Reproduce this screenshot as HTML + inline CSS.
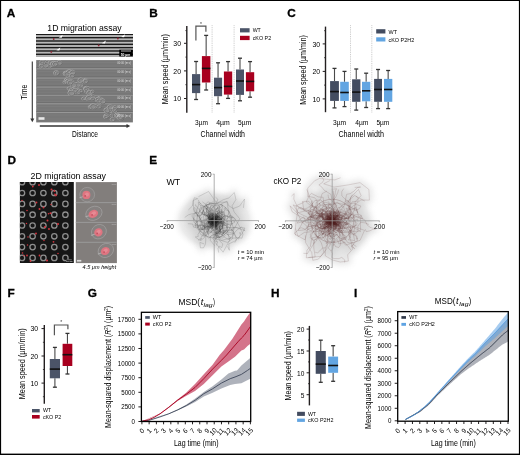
<!DOCTYPE html><html><head><meta charset="utf-8"><style>html,body{margin:0;padding:0;background:#fff}svg{display:block;will-change:transform}text{font-family:"Liberation Sans",sans-serif}</style></head><body><svg width="520" height="455" viewBox="0 0 520 455"><rect x="0" y="0" width="520" height="455" fill="#fff"/><text x="6.80" y="16.70" font-size="11.8" font-weight="bold" fill="#000" stroke="#000" stroke-width="0.3">A</text>
<text x="149.20" y="16.70" font-size="11.8" font-weight="bold" fill="#000" stroke="#000" stroke-width="0.3">B</text>
<text x="287.20" y="16.90" font-size="11.8" font-weight="bold" fill="#000" stroke="#000" stroke-width="0.3">C</text>
<text x="7.50" y="164.30" font-size="11.8" font-weight="bold" fill="#000" stroke="#000" stroke-width="0.3">D</text>
<text x="149.20" y="164.30" font-size="11.8" font-weight="bold" fill="#000" stroke="#000" stroke-width="0.3">E</text>
<text x="7.60" y="297.30" font-size="11.8" font-weight="bold" fill="#000" stroke="#000" stroke-width="0.3">F</text>
<text x="87.80" y="297.40" font-size="11.8" font-weight="bold" fill="#000" stroke="#000" stroke-width="0.3">G</text>
<text x="270.90" y="297.30" font-size="11.8" font-weight="bold" fill="#000" stroke="#000" stroke-width="0.3">H</text>
<text x="353.90" y="297.20" font-size="11.8" font-weight="bold" fill="#000" stroke="#000" stroke-width="0.3">I</text>
<text x="47.30" y="31.00" font-size="9.6" textLength="74.40" lengthAdjust="spacingAndGlyphs" >1D migration assay</text>
<rect x="36.00" y="34.00" width="97.00" height="22.40" fill="#1a1a1a" />
<rect x="36.00" y="35.00" width="97.00" height="2.00" fill="#a4a4a4" />
<rect x="36.00" y="35.55" width="97.00" height="0.90" fill="#bebebe" />
<rect x="36.00" y="38.33" width="97.00" height="2.00" fill="#a4a4a4" />
<rect x="36.00" y="38.88" width="97.00" height="0.90" fill="#bebebe" />
<rect x="36.00" y="41.66" width="97.00" height="2.00" fill="#a4a4a4" />
<rect x="36.00" y="42.21" width="97.00" height="0.90" fill="#bebebe" />
<rect x="36.00" y="44.99" width="97.00" height="2.00" fill="#a4a4a4" />
<rect x="36.00" y="45.54" width="97.00" height="0.90" fill="#bebebe" />
<rect x="36.00" y="48.32" width="97.00" height="2.00" fill="#a4a4a4" />
<rect x="36.00" y="48.87" width="97.00" height="0.90" fill="#bebebe" />
<rect x="36.00" y="51.65" width="97.00" height="2.00" fill="#a4a4a4" />
<rect x="36.00" y="52.20" width="97.00" height="0.90" fill="#bebebe" />
<rect x="36.00" y="54.98" width="97.00" height="1.40" fill="#a4a4a4" />
<rect x="36.00" y="55.53" width="97.00" height="0.85" fill="#bebebe" />
<rect x="119.30" y="49.70" width="13.50" height="6.70" fill="#000" />
<line x1="121.00" y1="51.00" x2="131.00" y2="51.00" stroke="#ddd" stroke-width="0.8" />
<text x="125.50" y="55.60" font-size="3.4" text-anchor="middle" font-weight="bold" fill="#fff" >50 µm</text>
<circle cx="53.7" cy="39" r="0.9" fill="#902535"/>
<circle cx="51.3" cy="51.9" r="0.9" fill="#902535"/>
<circle cx="117.9" cy="38.5" r="0.9" fill="#902535"/>
<circle cx="98.7" cy="45.4" r="0.9" fill="#902535"/>
<path d="M58.7,37.5 L62.7,34.8 L61.7,37.8 Z" fill="#fff"/>
<path d="M56.3,50.2 L60.3,47.5 L59.3,50.5 Z" fill="#fff"/>
<path d="M121.1,37.0 L125.1,34.3 L124.1,37.3 Z" fill="#fff"/>
<path d="M101.9,43.2 L105.9,40.5 L104.9,43.5 Z" fill="#fff"/>
<rect x="36.20" y="60.10" width="96.70" height="62.30" fill="#787878" />
<line x1="36.20" y1="62.50" x2="132.90" y2="62.50" stroke="#828282" stroke-width="0.5" />
<line x1="36.20" y1="66.00" x2="132.90" y2="66.00" stroke="#828282" stroke-width="0.5" />
<line x1="36.20" y1="71.50" x2="132.90" y2="71.50" stroke="#828282" stroke-width="0.5" />
<line x1="36.20" y1="75.00" x2="132.90" y2="75.00" stroke="#828282" stroke-width="0.5" />
<line x1="36.20" y1="80.50" x2="132.90" y2="80.50" stroke="#828282" stroke-width="0.5" />
<line x1="36.20" y1="84.00" x2="132.90" y2="84.00" stroke="#828282" stroke-width="0.5" />
<line x1="36.20" y1="89.50" x2="132.90" y2="89.50" stroke="#828282" stroke-width="0.5" />
<line x1="36.20" y1="92.80" x2="132.90" y2="92.80" stroke="#828282" stroke-width="0.5" />
<line x1="36.20" y1="98.00" x2="132.90" y2="98.00" stroke="#828282" stroke-width="0.5" />
<line x1="36.20" y1="101.50" x2="132.90" y2="101.50" stroke="#828282" stroke-width="0.5" />
<line x1="36.20" y1="106.50" x2="132.90" y2="106.50" stroke="#828282" stroke-width="0.5" />
<line x1="36.20" y1="110.00" x2="132.90" y2="110.00" stroke="#828282" stroke-width="0.5" />
<line x1="36.20" y1="115.00" x2="132.90" y2="115.00" stroke="#828282" stroke-width="0.5" />
<line x1="36.20" y1="119.00" x2="132.90" y2="119.00" stroke="#828282" stroke-width="0.5" />
<line x1="36.20" y1="68.00" x2="132.90" y2="68.00" stroke="#5e5e5e" stroke-width="0.6" />
<line x1="36.20" y1="68.80" x2="132.90" y2="68.80" stroke="#9c9c9c" stroke-width="1.0" />
<line x1="36.20" y1="77.20" x2="132.90" y2="77.20" stroke="#5e5e5e" stroke-width="0.6" />
<line x1="36.20" y1="78.00" x2="132.90" y2="78.00" stroke="#9c9c9c" stroke-width="1.0" />
<line x1="36.20" y1="86.20" x2="132.90" y2="86.20" stroke="#5e5e5e" stroke-width="0.6" />
<line x1="36.20" y1="87.00" x2="132.90" y2="87.00" stroke="#9c9c9c" stroke-width="1.0" />
<line x1="36.20" y1="94.40" x2="132.90" y2="94.40" stroke="#5e5e5e" stroke-width="0.6" />
<line x1="36.20" y1="95.20" x2="132.90" y2="95.20" stroke="#9c9c9c" stroke-width="1.0" />
<line x1="36.20" y1="103.00" x2="132.90" y2="103.00" stroke="#5e5e5e" stroke-width="0.6" />
<line x1="36.20" y1="103.80" x2="132.90" y2="103.80" stroke="#9c9c9c" stroke-width="1.0" />
<line x1="36.20" y1="111.60" x2="132.90" y2="111.60" stroke="#5e5e5e" stroke-width="0.6" />
<line x1="36.20" y1="112.40" x2="132.90" y2="112.40" stroke="#9c9c9c" stroke-width="1.0" />
<ellipse cx="47.6" cy="62.6" rx="2.6" ry="2.1" fill="#8c8c8c" stroke="#b4b4b4" stroke-width="0.7"/>
<ellipse cx="48.1" cy="63.0" rx="2.4" ry="1.9" fill="none" stroke="#5c5c5c" stroke-width="0.55"/>
<ellipse cx="41.7" cy="64.6" rx="2.1" ry="1.8" fill="#8c8c8c" stroke="#b4b4b4" stroke-width="0.7"/>
<ellipse cx="42.2" cy="65.0" rx="2.0" ry="1.6" fill="none" stroke="#5c5c5c" stroke-width="0.55"/>
<ellipse cx="41.4" cy="64.4" rx="1.6" ry="1.3" fill="#8c8c8c" stroke="#b4b4b4" stroke-width="0.7"/>
<ellipse cx="41.9" cy="64.8" rx="1.5" ry="1.2" fill="none" stroke="#5c5c5c" stroke-width="0.55"/>
<ellipse cx="50.2" cy="62.2" rx="1.7" ry="1.4" fill="#8c8c8c" stroke="#b4b4b4" stroke-width="0.7"/>
<ellipse cx="50.7" cy="62.6" rx="1.6" ry="1.3" fill="none" stroke="#5c5c5c" stroke-width="0.55"/>
<ellipse cx="50.0" cy="66.1" rx="1.8" ry="1.5" fill="#8c8c8c" stroke="#b4b4b4" stroke-width="0.7"/>
<ellipse cx="50.5" cy="66.5" rx="1.6" ry="1.3" fill="none" stroke="#5c5c5c" stroke-width="0.55"/>
<ellipse cx="45.2" cy="65.1" rx="3.0" ry="2.5" fill="#8c8c8c" stroke="#b4b4b4" stroke-width="0.7"/>
<ellipse cx="45.7" cy="65.5" rx="2.8" ry="2.3" fill="none" stroke="#5c5c5c" stroke-width="0.55"/>
<ellipse cx="53.6" cy="63.9" rx="3.1" ry="2.6" fill="#8c8c8c" stroke="#b4b4b4" stroke-width="0.7"/>
<ellipse cx="54.1" cy="64.3" rx="2.8" ry="2.3" fill="none" stroke="#5c5c5c" stroke-width="0.55"/>
<ellipse cx="41.1" cy="66.3" rx="2.0" ry="1.7" fill="#8c8c8c" stroke="#b4b4b4" stroke-width="0.7"/>
<ellipse cx="41.6" cy="66.7" rx="1.8" ry="1.5" fill="none" stroke="#5c5c5c" stroke-width="0.55"/>
<ellipse cx="43.4" cy="62.4" rx="2.0" ry="1.7" fill="#8c8c8c" stroke="#b4b4b4" stroke-width="0.7"/>
<ellipse cx="43.9" cy="62.8" rx="1.9" ry="1.5" fill="none" stroke="#5c5c5c" stroke-width="0.55"/>
<ellipse cx="59.2" cy="62.7" rx="2.5" ry="2.1" fill="#8c8c8c" stroke="#b4b4b4" stroke-width="0.7"/>
<ellipse cx="59.7" cy="63.1" rx="2.3" ry="1.9" fill="none" stroke="#5c5c5c" stroke-width="0.55"/>
<ellipse cx="55.0" cy="63.7" rx="2.4" ry="2.0" fill="#8c8c8c" stroke="#b4b4b4" stroke-width="0.7"/>
<ellipse cx="55.5" cy="64.1" rx="2.2" ry="1.8" fill="none" stroke="#5c5c5c" stroke-width="0.55"/>
<ellipse cx="41.5" cy="62.1" rx="1.9" ry="1.6" fill="#8c8c8c" stroke="#b4b4b4" stroke-width="0.7"/>
<ellipse cx="42.0" cy="62.5" rx="1.7" ry="1.4" fill="none" stroke="#5c5c5c" stroke-width="0.55"/>
<ellipse cx="68.2" cy="73.0" rx="2.1" ry="1.7" fill="#8c8c8c" stroke="#b4b4b4" stroke-width="0.7"/>
<ellipse cx="68.7" cy="73.4" rx="1.9" ry="1.5" fill="none" stroke="#5c5c5c" stroke-width="0.55"/>
<ellipse cx="66.2" cy="73.2" rx="2.0" ry="1.7" fill="#8c8c8c" stroke="#b4b4b4" stroke-width="0.7"/>
<ellipse cx="66.7" cy="73.6" rx="1.9" ry="1.5" fill="none" stroke="#5c5c5c" stroke-width="0.55"/>
<ellipse cx="70.6" cy="74.4" rx="1.9" ry="1.6" fill="#8c8c8c" stroke="#b4b4b4" stroke-width="0.7"/>
<ellipse cx="71.1" cy="74.8" rx="1.8" ry="1.5" fill="none" stroke="#5c5c5c" stroke-width="0.55"/>
<ellipse cx="66.0" cy="73.5" rx="2.9" ry="2.4" fill="#8c8c8c" stroke="#b4b4b4" stroke-width="0.7"/>
<ellipse cx="66.5" cy="73.9" rx="2.7" ry="2.2" fill="none" stroke="#5c5c5c" stroke-width="0.55"/>
<ellipse cx="69.3" cy="72.3" rx="3.1" ry="2.6" fill="#8c8c8c" stroke="#b4b4b4" stroke-width="0.7"/>
<ellipse cx="69.8" cy="72.7" rx="2.8" ry="2.3" fill="none" stroke="#5c5c5c" stroke-width="0.55"/>
<ellipse cx="56.3" cy="73.0" rx="2.7" ry="2.3" fill="#8c8c8c" stroke="#b4b4b4" stroke-width="0.7"/>
<ellipse cx="56.8" cy="73.4" rx="2.5" ry="2.1" fill="none" stroke="#5c5c5c" stroke-width="0.55"/>
<ellipse cx="57.0" cy="73.3" rx="1.6" ry="1.4" fill="#8c8c8c" stroke="#b4b4b4" stroke-width="0.7"/>
<ellipse cx="57.5" cy="73.7" rx="1.5" ry="1.2" fill="none" stroke="#5c5c5c" stroke-width="0.55"/>
<ellipse cx="68.0" cy="74.8" rx="2.5" ry="2.0" fill="#8c8c8c" stroke="#b4b4b4" stroke-width="0.7"/>
<ellipse cx="68.5" cy="75.2" rx="2.2" ry="1.8" fill="none" stroke="#5c5c5c" stroke-width="0.55"/>
<ellipse cx="72.4" cy="72.4" rx="2.6" ry="2.2" fill="#8c8c8c" stroke="#b4b4b4" stroke-width="0.7"/>
<ellipse cx="72.9" cy="72.8" rx="2.4" ry="2.0" fill="none" stroke="#5c5c5c" stroke-width="0.55"/>
<ellipse cx="66.4" cy="73.8" rx="2.3" ry="1.9" fill="#8c8c8c" stroke="#b4b4b4" stroke-width="0.7"/>
<ellipse cx="66.9" cy="74.2" rx="2.1" ry="1.7" fill="none" stroke="#5c5c5c" stroke-width="0.55"/>
<ellipse cx="71.6" cy="75.7" rx="2.3" ry="1.9" fill="#8c8c8c" stroke="#b4b4b4" stroke-width="0.7"/>
<ellipse cx="72.1" cy="76.1" rx="2.1" ry="1.7" fill="none" stroke="#5c5c5c" stroke-width="0.55"/>
<ellipse cx="80.6" cy="80.2" rx="2.7" ry="2.2" fill="#8c8c8c" stroke="#b4b4b4" stroke-width="0.7"/>
<ellipse cx="81.1" cy="80.6" rx="2.4" ry="2.0" fill="none" stroke="#5c5c5c" stroke-width="0.55"/>
<ellipse cx="80.2" cy="85.1" rx="2.8" ry="2.4" fill="#8c8c8c" stroke="#b4b4b4" stroke-width="0.7"/>
<ellipse cx="80.7" cy="85.5" rx="2.6" ry="2.1" fill="none" stroke="#5c5c5c" stroke-width="0.55"/>
<ellipse cx="71.2" cy="81.9" rx="2.6" ry="2.2" fill="#8c8c8c" stroke="#b4b4b4" stroke-width="0.7"/>
<ellipse cx="71.7" cy="82.3" rx="2.4" ry="2.0" fill="none" stroke="#5c5c5c" stroke-width="0.55"/>
<ellipse cx="64.8" cy="82.3" rx="1.8" ry="1.5" fill="#8c8c8c" stroke="#b4b4b4" stroke-width="0.7"/>
<ellipse cx="65.3" cy="82.7" rx="1.7" ry="1.4" fill="none" stroke="#5c5c5c" stroke-width="0.55"/>
<ellipse cx="67.1" cy="80.2" rx="2.8" ry="2.3" fill="#8c8c8c" stroke="#b4b4b4" stroke-width="0.7"/>
<ellipse cx="67.6" cy="80.6" rx="2.5" ry="2.1" fill="none" stroke="#5c5c5c" stroke-width="0.55"/>
<ellipse cx="67.4" cy="81.2" rx="2.2" ry="1.8" fill="#8c8c8c" stroke="#b4b4b4" stroke-width="0.7"/>
<ellipse cx="67.9" cy="81.6" rx="2.0" ry="1.6" fill="none" stroke="#5c5c5c" stroke-width="0.55"/>
<ellipse cx="85.7" cy="80.3" rx="2.3" ry="1.9" fill="#8c8c8c" stroke="#b4b4b4" stroke-width="0.7"/>
<ellipse cx="86.2" cy="80.7" rx="2.1" ry="1.7" fill="none" stroke="#5c5c5c" stroke-width="0.55"/>
<ellipse cx="77.8" cy="84.5" rx="2.8" ry="2.4" fill="#8c8c8c" stroke="#b4b4b4" stroke-width="0.7"/>
<ellipse cx="78.3" cy="84.9" rx="2.6" ry="2.1" fill="none" stroke="#5c5c5c" stroke-width="0.55"/>
<ellipse cx="85.5" cy="81.3" rx="2.2" ry="1.8" fill="#8c8c8c" stroke="#b4b4b4" stroke-width="0.7"/>
<ellipse cx="86.0" cy="81.7" rx="2.0" ry="1.7" fill="none" stroke="#5c5c5c" stroke-width="0.55"/>
<ellipse cx="73.1" cy="84.5" rx="3.1" ry="2.5" fill="#8c8c8c" stroke="#b4b4b4" stroke-width="0.7"/>
<ellipse cx="73.6" cy="84.9" rx="2.8" ry="2.3" fill="none" stroke="#5c5c5c" stroke-width="0.55"/>
<ellipse cx="67.9" cy="80.8" rx="1.9" ry="1.6" fill="#8c8c8c" stroke="#b4b4b4" stroke-width="0.7"/>
<ellipse cx="68.4" cy="81.2" rx="1.8" ry="1.4" fill="none" stroke="#5c5c5c" stroke-width="0.55"/>
<ellipse cx="70.0" cy="82.4" rx="2.5" ry="2.1" fill="#8c8c8c" stroke="#b4b4b4" stroke-width="0.7"/>
<ellipse cx="70.5" cy="82.8" rx="2.3" ry="1.9" fill="none" stroke="#5c5c5c" stroke-width="0.55"/>
<ellipse cx="74.9" cy="88.5" rx="2.2" ry="1.8" fill="#8c8c8c" stroke="#b4b4b4" stroke-width="0.7"/>
<ellipse cx="75.4" cy="88.9" rx="2.0" ry="1.7" fill="none" stroke="#5c5c5c" stroke-width="0.55"/>
<ellipse cx="77.9" cy="91.4" rx="3.0" ry="2.5" fill="#8c8c8c" stroke="#b4b4b4" stroke-width="0.7"/>
<ellipse cx="78.4" cy="91.8" rx="2.8" ry="2.3" fill="none" stroke="#5c5c5c" stroke-width="0.55"/>
<ellipse cx="87.0" cy="91.2" rx="2.5" ry="2.1" fill="#8c8c8c" stroke="#b4b4b4" stroke-width="0.7"/>
<ellipse cx="87.5" cy="91.6" rx="2.3" ry="1.9" fill="none" stroke="#5c5c5c" stroke-width="0.55"/>
<ellipse cx="86.6" cy="88.8" rx="3.0" ry="2.5" fill="#8c8c8c" stroke="#b4b4b4" stroke-width="0.7"/>
<ellipse cx="87.1" cy="89.2" rx="2.7" ry="2.2" fill="none" stroke="#5c5c5c" stroke-width="0.55"/>
<ellipse cx="89.6" cy="93.0" rx="2.8" ry="2.3" fill="#8c8c8c" stroke="#b4b4b4" stroke-width="0.7"/>
<ellipse cx="90.1" cy="93.4" rx="2.6" ry="2.1" fill="none" stroke="#5c5c5c" stroke-width="0.55"/>
<ellipse cx="78.6" cy="90.6" rx="1.7" ry="1.4" fill="#8c8c8c" stroke="#b4b4b4" stroke-width="0.7"/>
<ellipse cx="79.1" cy="91.0" rx="1.6" ry="1.3" fill="none" stroke="#5c5c5c" stroke-width="0.55"/>
<ellipse cx="85.5" cy="88.8" rx="1.7" ry="1.4" fill="#8c8c8c" stroke="#b4b4b4" stroke-width="0.7"/>
<ellipse cx="86.0" cy="89.2" rx="1.5" ry="1.2" fill="none" stroke="#5c5c5c" stroke-width="0.55"/>
<ellipse cx="73.4" cy="89.3" rx="2.1" ry="1.7" fill="#8c8c8c" stroke="#b4b4b4" stroke-width="0.7"/>
<ellipse cx="73.9" cy="89.7" rx="1.9" ry="1.6" fill="none" stroke="#5c5c5c" stroke-width="0.55"/>
<ellipse cx="69.0" cy="88.5" rx="1.8" ry="1.5" fill="#8c8c8c" stroke="#b4b4b4" stroke-width="0.7"/>
<ellipse cx="69.5" cy="88.9" rx="1.6" ry="1.3" fill="none" stroke="#5c5c5c" stroke-width="0.55"/>
<ellipse cx="70.4" cy="90.4" rx="1.6" ry="1.3" fill="#8c8c8c" stroke="#b4b4b4" stroke-width="0.7"/>
<ellipse cx="70.9" cy="90.8" rx="1.5" ry="1.2" fill="none" stroke="#5c5c5c" stroke-width="0.55"/>
<ellipse cx="92.2" cy="91.7" rx="1.8" ry="1.5" fill="#8c8c8c" stroke="#b4b4b4" stroke-width="0.7"/>
<ellipse cx="92.7" cy="92.1" rx="1.6" ry="1.3" fill="none" stroke="#5c5c5c" stroke-width="0.55"/>
<ellipse cx="74.6" cy="90.3" rx="2.1" ry="1.8" fill="#8c8c8c" stroke="#b4b4b4" stroke-width="0.7"/>
<ellipse cx="75.1" cy="90.7" rx="2.0" ry="1.6" fill="none" stroke="#5c5c5c" stroke-width="0.55"/>
<ellipse cx="71.0" cy="92.9" rx="3.1" ry="2.6" fill="#8c8c8c" stroke="#b4b4b4" stroke-width="0.7"/>
<ellipse cx="71.5" cy="93.3" rx="2.9" ry="2.3" fill="none" stroke="#5c5c5c" stroke-width="0.55"/>
<ellipse cx="80.7" cy="91.0" rx="1.7" ry="1.4" fill="#8c8c8c" stroke="#b4b4b4" stroke-width="0.7"/>
<ellipse cx="81.2" cy="91.4" rx="1.6" ry="1.3" fill="none" stroke="#5c5c5c" stroke-width="0.55"/>
<ellipse cx="83.7" cy="98.7" rx="2.0" ry="1.6" fill="#8c8c8c" stroke="#b4b4b4" stroke-width="0.7"/>
<ellipse cx="84.2" cy="99.1" rx="1.8" ry="1.5" fill="none" stroke="#5c5c5c" stroke-width="0.55"/>
<ellipse cx="99.1" cy="97.7" rx="1.6" ry="1.3" fill="#8c8c8c" stroke="#b4b4b4" stroke-width="0.7"/>
<ellipse cx="99.6" cy="98.1" rx="1.5" ry="1.2" fill="none" stroke="#5c5c5c" stroke-width="0.55"/>
<ellipse cx="101.7" cy="99.6" rx="1.8" ry="1.5" fill="#8c8c8c" stroke="#b4b4b4" stroke-width="0.7"/>
<ellipse cx="102.2" cy="100.0" rx="1.6" ry="1.3" fill="none" stroke="#5c5c5c" stroke-width="0.55"/>
<ellipse cx="93.0" cy="97.0" rx="2.4" ry="2.0" fill="#8c8c8c" stroke="#b4b4b4" stroke-width="0.7"/>
<ellipse cx="93.5" cy="97.4" rx="2.2" ry="1.8" fill="none" stroke="#5c5c5c" stroke-width="0.55"/>
<ellipse cx="102.2" cy="101.4" rx="2.6" ry="2.2" fill="#8c8c8c" stroke="#b4b4b4" stroke-width="0.7"/>
<ellipse cx="102.7" cy="101.8" rx="2.4" ry="2.0" fill="none" stroke="#5c5c5c" stroke-width="0.55"/>
<ellipse cx="87.0" cy="98.8" rx="1.8" ry="1.5" fill="#8c8c8c" stroke="#b4b4b4" stroke-width="0.7"/>
<ellipse cx="87.5" cy="99.2" rx="1.7" ry="1.4" fill="none" stroke="#5c5c5c" stroke-width="0.55"/>
<ellipse cx="97.9" cy="99.7" rx="2.8" ry="2.3" fill="#8c8c8c" stroke="#b4b4b4" stroke-width="0.7"/>
<ellipse cx="98.4" cy="100.1" rx="2.5" ry="2.1" fill="none" stroke="#5c5c5c" stroke-width="0.55"/>
<ellipse cx="88.5" cy="98.1" rx="2.8" ry="2.4" fill="#8c8c8c" stroke="#b4b4b4" stroke-width="0.7"/>
<ellipse cx="89.0" cy="98.5" rx="2.6" ry="2.1" fill="none" stroke="#5c5c5c" stroke-width="0.55"/>
<ellipse cx="102.4" cy="101.3" rx="2.8" ry="2.3" fill="#8c8c8c" stroke="#b4b4b4" stroke-width="0.7"/>
<ellipse cx="102.9" cy="101.7" rx="2.6" ry="2.1" fill="none" stroke="#5c5c5c" stroke-width="0.55"/>
<ellipse cx="98.8" cy="100.7" rx="1.9" ry="1.6" fill="#8c8c8c" stroke="#b4b4b4" stroke-width="0.7"/>
<ellipse cx="99.3" cy="101.1" rx="1.8" ry="1.4" fill="none" stroke="#5c5c5c" stroke-width="0.55"/>
<ellipse cx="92.5" cy="98.7" rx="1.6" ry="1.3" fill="#8c8c8c" stroke="#b4b4b4" stroke-width="0.7"/>
<ellipse cx="93.0" cy="99.1" rx="1.5" ry="1.2" fill="none" stroke="#5c5c5c" stroke-width="0.55"/>
<ellipse cx="90.2" cy="107.0" rx="2.0" ry="1.6" fill="#8c8c8c" stroke="#b4b4b4" stroke-width="0.7"/>
<ellipse cx="90.7" cy="107.4" rx="1.8" ry="1.5" fill="none" stroke="#5c5c5c" stroke-width="0.55"/>
<ellipse cx="107.5" cy="110.5" rx="2.3" ry="1.9" fill="#8c8c8c" stroke="#b4b4b4" stroke-width="0.7"/>
<ellipse cx="108.0" cy="110.9" rx="2.1" ry="1.7" fill="none" stroke="#5c5c5c" stroke-width="0.55"/>
<ellipse cx="113.9" cy="110.6" rx="3.0" ry="2.5" fill="#8c8c8c" stroke="#b4b4b4" stroke-width="0.7"/>
<ellipse cx="114.4" cy="111.0" rx="2.8" ry="2.3" fill="none" stroke="#5c5c5c" stroke-width="0.55"/>
<ellipse cx="99.0" cy="106.6" rx="1.9" ry="1.6" fill="#8c8c8c" stroke="#b4b4b4" stroke-width="0.7"/>
<ellipse cx="99.5" cy="107.0" rx="1.8" ry="1.4" fill="none" stroke="#5c5c5c" stroke-width="0.55"/>
<ellipse cx="94.6" cy="106.6" rx="2.5" ry="2.1" fill="#8c8c8c" stroke="#b4b4b4" stroke-width="0.7"/>
<ellipse cx="95.1" cy="107.0" rx="2.3" ry="1.9" fill="none" stroke="#5c5c5c" stroke-width="0.55"/>
<ellipse cx="112.9" cy="109.9" rx="2.3" ry="1.9" fill="#8c8c8c" stroke="#b4b4b4" stroke-width="0.7"/>
<ellipse cx="113.4" cy="110.3" rx="2.1" ry="1.7" fill="none" stroke="#5c5c5c" stroke-width="0.55"/>
<ellipse cx="106.5" cy="109.7" rx="1.7" ry="1.4" fill="#8c8c8c" stroke="#b4b4b4" stroke-width="0.7"/>
<ellipse cx="107.0" cy="110.1" rx="1.6" ry="1.3" fill="none" stroke="#5c5c5c" stroke-width="0.55"/>
<ellipse cx="106.7" cy="110.2" rx="2.8" ry="2.3" fill="#8c8c8c" stroke="#b4b4b4" stroke-width="0.7"/>
<ellipse cx="107.2" cy="110.6" rx="2.5" ry="2.1" fill="none" stroke="#5c5c5c" stroke-width="0.55"/>
<ellipse cx="109.0" cy="108.0" rx="1.8" ry="1.5" fill="#8c8c8c" stroke="#b4b4b4" stroke-width="0.7"/>
<ellipse cx="109.5" cy="108.4" rx="1.7" ry="1.4" fill="none" stroke="#5c5c5c" stroke-width="0.55"/>
<ellipse cx="110.0" cy="107.2" rx="2.8" ry="2.3" fill="#8c8c8c" stroke="#b4b4b4" stroke-width="0.7"/>
<ellipse cx="110.5" cy="107.6" rx="2.6" ry="2.1" fill="none" stroke="#5c5c5c" stroke-width="0.55"/>
<ellipse cx="114.8" cy="107.6" rx="2.2" ry="1.8" fill="#8c8c8c" stroke="#b4b4b4" stroke-width="0.7"/>
<ellipse cx="115.3" cy="108.0" rx="2.0" ry="1.6" fill="none" stroke="#5c5c5c" stroke-width="0.55"/>
<ellipse cx="114.1" cy="109.3" rx="1.8" ry="1.5" fill="#8c8c8c" stroke="#b4b4b4" stroke-width="0.7"/>
<ellipse cx="114.6" cy="109.7" rx="1.7" ry="1.4" fill="none" stroke="#5c5c5c" stroke-width="0.55"/>
<ellipse cx="92.8" cy="106.3" rx="3.0" ry="2.5" fill="#8c8c8c" stroke="#b4b4b4" stroke-width="0.7"/>
<ellipse cx="93.3" cy="106.7" rx="2.7" ry="2.2" fill="none" stroke="#5c5c5c" stroke-width="0.55"/>
<ellipse cx="117.1" cy="115.6" rx="2.8" ry="2.4" fill="#8c8c8c" stroke="#b4b4b4" stroke-width="0.7"/>
<ellipse cx="117.6" cy="116.0" rx="2.6" ry="2.1" fill="none" stroke="#5c5c5c" stroke-width="0.55"/>
<ellipse cx="120.8" cy="118.2" rx="2.1" ry="1.8" fill="#8c8c8c" stroke="#b4b4b4" stroke-width="0.7"/>
<ellipse cx="121.3" cy="118.6" rx="1.9" ry="1.6" fill="none" stroke="#5c5c5c" stroke-width="0.55"/>
<ellipse cx="111.6" cy="115.5" rx="1.6" ry="1.3" fill="#8c8c8c" stroke="#b4b4b4" stroke-width="0.7"/>
<ellipse cx="112.1" cy="115.9" rx="1.5" ry="1.2" fill="none" stroke="#5c5c5c" stroke-width="0.55"/>
<ellipse cx="120.6" cy="118.2" rx="2.4" ry="2.0" fill="#8c8c8c" stroke="#b4b4b4" stroke-width="0.7"/>
<ellipse cx="121.1" cy="118.6" rx="2.2" ry="1.8" fill="none" stroke="#5c5c5c" stroke-width="0.55"/>
<ellipse cx="119.8" cy="117.1" rx="2.9" ry="2.4" fill="#8c8c8c" stroke="#b4b4b4" stroke-width="0.7"/>
<ellipse cx="120.3" cy="117.5" rx="2.7" ry="2.2" fill="none" stroke="#5c5c5c" stroke-width="0.55"/>
<ellipse cx="117.5" cy="115.9" rx="2.0" ry="1.6" fill="#8c8c8c" stroke="#b4b4b4" stroke-width="0.7"/>
<ellipse cx="118.0" cy="116.3" rx="1.8" ry="1.5" fill="none" stroke="#5c5c5c" stroke-width="0.55"/>
<ellipse cx="106.2" cy="116.1" rx="2.5" ry="2.1" fill="#8c8c8c" stroke="#b4b4b4" stroke-width="0.7"/>
<ellipse cx="106.7" cy="116.5" rx="2.3" ry="1.9" fill="none" stroke="#5c5c5c" stroke-width="0.55"/>
<ellipse cx="105.5" cy="117.0" rx="1.8" ry="1.5" fill="#8c8c8c" stroke="#b4b4b4" stroke-width="0.7"/>
<ellipse cx="106.0" cy="117.4" rx="1.6" ry="1.3" fill="none" stroke="#5c5c5c" stroke-width="0.55"/>
<ellipse cx="119.3" cy="116.6" rx="2.3" ry="1.9" fill="#8c8c8c" stroke="#b4b4b4" stroke-width="0.7"/>
<ellipse cx="119.8" cy="117.0" rx="2.1" ry="1.7" fill="none" stroke="#5c5c5c" stroke-width="0.55"/>
<ellipse cx="112.4" cy="119.5" rx="2.2" ry="1.8" fill="#8c8c8c" stroke="#b4b4b4" stroke-width="0.7"/>
<ellipse cx="112.9" cy="119.9" rx="2.0" ry="1.7" fill="none" stroke="#5c5c5c" stroke-width="0.55"/>
<ellipse cx="119.5" cy="117.4" rx="2.4" ry="2.0" fill="#8c8c8c" stroke="#b4b4b4" stroke-width="0.7"/>
<ellipse cx="120.0" cy="117.8" rx="2.2" ry="1.8" fill="none" stroke="#5c5c5c" stroke-width="0.55"/>
<text x="117.20" y="63.90" font-size="3.0" fill="#dedede" textLength="13.80" lengthAdjust="spacingAndGlyphs" >00:00 (m:s)</text>
<text x="117.20" y="73.00" font-size="3.0" fill="#dedede" textLength="13.80" lengthAdjust="spacingAndGlyphs" >00:00 (m:s)</text>
<text x="117.20" y="82.10" font-size="3.0" fill="#dedede" textLength="13.80" lengthAdjust="spacingAndGlyphs" >00:00 (m:s)</text>
<text x="117.20" y="90.90" font-size="3.0" fill="#dedede" textLength="13.80" lengthAdjust="spacingAndGlyphs" >00:00 (m:s)</text>
<text x="117.20" y="99.30" font-size="3.0" fill="#dedede" textLength="13.80" lengthAdjust="spacingAndGlyphs" >00:00 (m:s)</text>
<text x="117.20" y="107.90" font-size="3.0" fill="#dedede" textLength="13.80" lengthAdjust="spacingAndGlyphs" >00:00 (m:s)</text>
<text x="117.20" y="116.60" font-size="3.0" fill="#dedede" textLength="13.80" lengthAdjust="spacingAndGlyphs" >00:00 (m:s)</text>
<rect x="38.50" y="117.20" width="6.00" height="2.60" fill="#e8e8e8" />
<line x1="32.30" y1="61.50" x2="32.30" y2="119.00" stroke="#333" stroke-width="1.1" />
<path d="M30.3,118.5 L34.3,118.5 L32.3,122.2 Z" fill="#333"/>
<text x="27.10" y="99.80" font-size="9.4" textLength="15.20" lengthAdjust="spacingAndGlyphs" transform="rotate(-90 27.10 99.80)" >Time</text>
<line x1="39.80" y1="126.00" x2="127.00" y2="126.00" stroke="#333" stroke-width="1.3" />
<path d="M126.5,124 L126.5,128 L130.3,126 Z" fill="#333"/>
<text x="72.10" y="137.10" font-size="8.8" textLength="25.80" lengthAdjust="spacingAndGlyphs" >Distance</text>
<line x1="186.80" y1="25.90" x2="186.80" y2="112.80" stroke="#231f20" stroke-width="1.4" />
<line x1="184.00" y1="43.30" x2="186.80" y2="43.30" stroke="#231f20" stroke-width="1.0" />
<text x="181.00" y="46.10" font-size="7.9" text-anchor="end" textLength="7.70" lengthAdjust="spacingAndGlyphs" >30</text>
<line x1="184.00" y1="70.90" x2="186.80" y2="70.90" stroke="#231f20" stroke-width="1.0" />
<text x="181.00" y="73.70" font-size="7.9" text-anchor="end" textLength="7.70" lengthAdjust="spacingAndGlyphs" >20</text>
<line x1="184.00" y1="98.50" x2="186.80" y2="98.50" stroke="#231f20" stroke-width="1.0" />
<text x="181.00" y="101.30" font-size="7.9" text-anchor="end" textLength="7.70" lengthAdjust="spacingAndGlyphs" >10</text>
<line x1="185.40" y1="30.60" x2="186.80" y2="30.60" stroke="#231f20" stroke-width="0.8" />
<line x1="185.40" y1="57.10" x2="186.80" y2="57.10" stroke="#231f20" stroke-width="0.8" />
<line x1="185.40" y1="84.70" x2="186.80" y2="84.70" stroke="#231f20" stroke-width="0.8" />
<line x1="212.10" y1="25.20" x2="212.10" y2="113.40" stroke="#b0b0b0" stroke-width="0.7" stroke-dasharray="0.9 0.9"/>
<line x1="234.10" y1="25.20" x2="234.10" y2="113.40" stroke="#b0b0b0" stroke-width="0.7" stroke-dasharray="0.9 0.9"/>
<line x1="196.10" y1="61.50" x2="196.10" y2="74.10" stroke="#4a4a4a" stroke-width="1.1" />
<line x1="196.10" y1="93.10" x2="196.10" y2="99.50" stroke="#4a4a4a" stroke-width="1.1" />
<line x1="194.10" y1="61.50" x2="198.10" y2="61.50" stroke="#333" stroke-width="1.3" />
<line x1="194.10" y1="99.50" x2="198.10" y2="99.50" stroke="#333" stroke-width="1.3" />
<rect x="192.00" y="74.10" width="8.20" height="19.00" fill="#4b5468" />
<line x1="192.00" y1="84.60" x2="200.20" y2="84.60" stroke="#111" stroke-width="1.6" />
<line x1="206.15" y1="35.40" x2="206.15" y2="56.10" stroke="#4a4a4a" stroke-width="1.1" />
<line x1="206.15" y1="82.50" x2="206.15" y2="90.00" stroke="#4a4a4a" stroke-width="1.1" />
<line x1="204.15" y1="35.40" x2="208.15" y2="35.40" stroke="#333" stroke-width="1.3" />
<line x1="204.15" y1="90.00" x2="208.15" y2="90.00" stroke="#333" stroke-width="1.3" />
<rect x="201.90" y="56.10" width="8.50" height="26.40" fill="#a8001f" />
<line x1="201.90" y1="68.40" x2="210.40" y2="68.40" stroke="#111" stroke-width="1.6" />
<line x1="218.05" y1="62.80" x2="218.05" y2="77.70" stroke="#4a4a4a" stroke-width="1.1" />
<line x1="218.05" y1="96.20" x2="218.05" y2="103.70" stroke="#4a4a4a" stroke-width="1.1" />
<line x1="216.05" y1="62.80" x2="220.05" y2="62.80" stroke="#333" stroke-width="1.3" />
<line x1="216.05" y1="103.70" x2="220.05" y2="103.70" stroke="#333" stroke-width="1.3" />
<rect x="214.00" y="77.70" width="8.10" height="18.50" fill="#4b5468" />
<line x1="214.00" y1="87.60" x2="222.10" y2="87.60" stroke="#111" stroke-width="1.6" />
<line x1="228.05" y1="61.60" x2="228.05" y2="71.50" stroke="#4a4a4a" stroke-width="1.1" />
<line x1="228.05" y1="94.60" x2="228.05" y2="98.40" stroke="#4a4a4a" stroke-width="1.1" />
<line x1="226.05" y1="61.60" x2="230.05" y2="61.60" stroke="#333" stroke-width="1.3" />
<line x1="226.05" y1="98.40" x2="230.05" y2="98.40" stroke="#333" stroke-width="1.3" />
<rect x="223.90" y="71.50" width="8.30" height="23.10" fill="#a8001f" />
<line x1="223.90" y1="86.40" x2="232.20" y2="86.40" stroke="#111" stroke-width="1.6" />
<line x1="240.00" y1="58.20" x2="240.00" y2="69.50" stroke="#4a4a4a" stroke-width="1.1" />
<line x1="240.00" y1="94.90" x2="240.00" y2="100.80" stroke="#4a4a4a" stroke-width="1.1" />
<line x1="238.00" y1="58.20" x2="242.00" y2="58.20" stroke="#333" stroke-width="1.3" />
<line x1="238.00" y1="100.80" x2="242.00" y2="100.80" stroke="#333" stroke-width="1.3" />
<rect x="236.00" y="69.50" width="8.00" height="25.40" fill="#4b5468" />
<line x1="236.00" y1="81.00" x2="244.00" y2="81.00" stroke="#111" stroke-width="1.6" />
<line x1="250.05" y1="61.60" x2="250.05" y2="72.20" stroke="#4a4a4a" stroke-width="1.1" />
<line x1="250.05" y1="91.30" x2="250.05" y2="97.20" stroke="#4a4a4a" stroke-width="1.1" />
<line x1="248.05" y1="61.60" x2="252.05" y2="61.60" stroke="#333" stroke-width="1.3" />
<line x1="248.05" y1="97.20" x2="252.05" y2="97.20" stroke="#333" stroke-width="1.3" />
<rect x="245.90" y="72.20" width="8.30" height="19.10" fill="#a8001f" />
<line x1="245.90" y1="81.40" x2="254.20" y2="81.40" stroke="#111" stroke-width="1.6" />
<path d="M195.9,40.6 V26.1 H205.9 V31.7" fill="none" stroke="#555" stroke-width="1.2"/>
<text x="201.00" y="25.60" font-size="5" text-anchor="middle" fill="#333" >*</text>
<rect x="240.00" y="28.20" width="9.60" height="4.20" fill="#4b5468" />
<text x="252.70" y="32.10" font-size="5.5" textLength="8.10" lengthAdjust="spacingAndGlyphs" >WT</text>
<rect x="240.00" y="35.80" width="9.60" height="4.30" fill="#a8001f" />
<text x="252.70" y="39.90" font-size="5.5" textLength="18.50" lengthAdjust="spacingAndGlyphs" >cKO P2</text>
<text x="167.80" y="104.20" font-size="8.8" textLength="70.10" lengthAdjust="spacingAndGlyphs" transform="rotate(-90 167.80 104.20)" >Mean speed (µm/min)</text>
<text x="195.00" y="124.60" font-size="6.9" textLength="12.90" lengthAdjust="spacingAndGlyphs" >3µm</text>
<text x="216.30" y="124.60" font-size="6.9" textLength="13.50" lengthAdjust="spacingAndGlyphs" >4µm</text>
<text x="238.10" y="124.60" font-size="6.9" textLength="13.20" lengthAdjust="spacingAndGlyphs" >5µm</text>
<text x="200.60" y="136.80" font-size="8.8" textLength="44.40" lengthAdjust="spacingAndGlyphs" >Channel width</text>
<line x1="325.50" y1="26.60" x2="325.50" y2="112.20" stroke="#231f20" stroke-width="1.4" />
<line x1="322.70" y1="43.90" x2="325.50" y2="43.90" stroke="#231f20" stroke-width="1.0" />
<text x="320.20" y="46.70" font-size="7.9" text-anchor="end" textLength="7.70" lengthAdjust="spacingAndGlyphs" >30</text>
<line x1="322.70" y1="71.40" x2="325.50" y2="71.40" stroke="#231f20" stroke-width="1.0" />
<text x="320.20" y="74.20" font-size="7.9" text-anchor="end" textLength="7.70" lengthAdjust="spacingAndGlyphs" >20</text>
<line x1="322.70" y1="98.90" x2="325.50" y2="98.90" stroke="#231f20" stroke-width="1.0" />
<text x="320.20" y="101.70" font-size="7.9" text-anchor="end" textLength="7.70" lengthAdjust="spacingAndGlyphs" >10</text>
<line x1="324.10" y1="30.70" x2="325.50" y2="30.70" stroke="#231f20" stroke-width="0.8" />
<line x1="324.10" y1="57.70" x2="325.50" y2="57.70" stroke="#231f20" stroke-width="0.8" />
<line x1="324.10" y1="85.10" x2="325.50" y2="85.10" stroke="#231f20" stroke-width="0.8" />
<line x1="350.50" y1="25.20" x2="350.50" y2="113.40" stroke="#b0b0b0" stroke-width="0.7" stroke-dasharray="0.9 0.9"/>
<line x1="371.80" y1="25.20" x2="371.80" y2="113.40" stroke="#b0b0b0" stroke-width="0.7" stroke-dasharray="0.9 0.9"/>
<line x1="334.50" y1="68.40" x2="334.50" y2="81.10" stroke="#4a4a4a" stroke-width="1.1" />
<line x1="334.50" y1="100.90" x2="334.50" y2="107.90" stroke="#4a4a4a" stroke-width="1.1" />
<line x1="332.50" y1="68.40" x2="336.50" y2="68.40" stroke="#333" stroke-width="1.3" />
<line x1="332.50" y1="107.90" x2="336.50" y2="107.90" stroke="#333" stroke-width="1.3" />
<rect x="330.10" y="81.10" width="8.80" height="19.80" fill="#434c60" />
<line x1="330.10" y1="91.60" x2="338.90" y2="91.60" stroke="#111" stroke-width="1.6" />
<line x1="344.50" y1="71.40" x2="344.50" y2="81.80" stroke="#4a4a4a" stroke-width="1.1" />
<line x1="344.50" y1="100.90" x2="344.50" y2="106.60" stroke="#4a4a4a" stroke-width="1.1" />
<line x1="342.50" y1="71.40" x2="346.50" y2="71.40" stroke="#333" stroke-width="1.3" />
<line x1="342.50" y1="106.60" x2="346.50" y2="106.60" stroke="#333" stroke-width="1.3" />
<rect x="340.20" y="81.80" width="8.60" height="19.10" fill="#62a5e2" />
<line x1="340.20" y1="92.50" x2="348.80" y2="92.50" stroke="#111" stroke-width="1.6" />
<line x1="356.25" y1="69.00" x2="356.25" y2="79.30" stroke="#4a4a4a" stroke-width="1.1" />
<line x1="356.25" y1="101.80" x2="356.25" y2="110.10" stroke="#4a4a4a" stroke-width="1.1" />
<line x1="354.25" y1="69.00" x2="358.25" y2="69.00" stroke="#333" stroke-width="1.3" />
<line x1="354.25" y1="110.10" x2="358.25" y2="110.10" stroke="#333" stroke-width="1.3" />
<rect x="352.10" y="79.30" width="8.30" height="22.50" fill="#434c60" />
<line x1="352.10" y1="92.10" x2="360.40" y2="92.10" stroke="#111" stroke-width="1.6" />
<line x1="366.15" y1="73.20" x2="366.15" y2="81.80" stroke="#4a4a4a" stroke-width="1.1" />
<line x1="366.15" y1="101.30" x2="366.15" y2="107.50" stroke="#4a4a4a" stroke-width="1.1" />
<line x1="364.15" y1="73.20" x2="368.15" y2="73.20" stroke="#333" stroke-width="1.3" />
<line x1="364.15" y1="107.50" x2="368.15" y2="107.50" stroke="#333" stroke-width="1.3" />
<rect x="362.00" y="81.80" width="8.30" height="19.50" fill="#62a5e2" />
<line x1="362.00" y1="90.80" x2="370.30" y2="90.80" stroke="#111" stroke-width="1.6" />
<line x1="378.05" y1="69.50" x2="378.05" y2="78.90" stroke="#4a4a4a" stroke-width="1.1" />
<line x1="378.05" y1="101.80" x2="378.05" y2="108.60" stroke="#4a4a4a" stroke-width="1.1" />
<line x1="376.05" y1="69.50" x2="380.05" y2="69.50" stroke="#333" stroke-width="1.3" />
<line x1="376.05" y1="108.60" x2="380.05" y2="108.60" stroke="#333" stroke-width="1.3" />
<rect x="374.10" y="78.90" width="7.90" height="22.90" fill="#434c60" />
<line x1="374.10" y1="89.50" x2="382.00" y2="89.50" stroke="#111" stroke-width="1.6" />
<line x1="388.15" y1="70.50" x2="388.15" y2="78.90" stroke="#4a4a4a" stroke-width="1.1" />
<line x1="388.15" y1="101.80" x2="388.15" y2="108.60" stroke="#4a4a4a" stroke-width="1.1" />
<line x1="386.15" y1="70.50" x2="390.15" y2="70.50" stroke="#333" stroke-width="1.3" />
<line x1="386.15" y1="108.60" x2="390.15" y2="108.60" stroke="#333" stroke-width="1.3" />
<rect x="384.00" y="78.90" width="8.30" height="22.90" fill="#62a5e2" />
<line x1="384.00" y1="89.50" x2="392.30" y2="89.50" stroke="#111" stroke-width="1.6" />
<rect x="376.20" y="29.20" width="9.20" height="4.30" fill="#434c60" />
<text x="388.50" y="33.50" font-size="5.5" textLength="8.50" lengthAdjust="spacingAndGlyphs" >WT</text>
<rect x="376.20" y="37.30" width="9.20" height="4.20" fill="#62a5e2" />
<text x="388.50" y="41.50" font-size="5.5" textLength="25.70" lengthAdjust="spacingAndGlyphs" >cKO P2H2</text>
<text x="306.40" y="104.80" font-size="8.8" textLength="69.70" lengthAdjust="spacingAndGlyphs" transform="rotate(-90 306.40 104.80)" >Mean speed (µm/min)</text>
<text x="333.00" y="124.50" font-size="6.9" textLength="13.10" lengthAdjust="spacingAndGlyphs" >3µm</text>
<text x="355.20" y="124.50" font-size="6.9" textLength="13.10" lengthAdjust="spacingAndGlyphs" >4µm</text>
<text x="376.40" y="124.50" font-size="6.9" textLength="12.90" lengthAdjust="spacingAndGlyphs" >5µm</text>
<text x="338.40" y="136.80" font-size="8.8" textLength="45.50" lengthAdjust="spacingAndGlyphs" >Channel width</text>
<line x1="44.30" y1="325.00" x2="44.30" y2="403.80" stroke="#231f20" stroke-width="1.4" />
<line x1="41.50" y1="328.60" x2="44.30" y2="328.60" stroke="#231f20" stroke-width="1.0" />
<text x="38.20" y="331.40" font-size="7.9" text-anchor="end" textLength="7.70" lengthAdjust="spacingAndGlyphs" >30</text>
<line x1="41.50" y1="356.00" x2="44.30" y2="356.00" stroke="#231f20" stroke-width="1.0" />
<text x="38.20" y="358.80" font-size="7.9" text-anchor="end" textLength="7.70" lengthAdjust="spacingAndGlyphs" >20</text>
<line x1="41.50" y1="383.10" x2="44.30" y2="383.10" stroke="#231f20" stroke-width="1.0" />
<text x="38.20" y="385.90" font-size="7.9" text-anchor="end" textLength="7.70" lengthAdjust="spacingAndGlyphs" >10</text>
<line x1="42.90" y1="342.30" x2="44.30" y2="342.30" stroke="#231f20" stroke-width="0.8" />
<line x1="42.90" y1="369.50" x2="44.30" y2="369.50" stroke="#231f20" stroke-width="0.8" />
<line x1="42.90" y1="396.70" x2="44.30" y2="396.70" stroke="#231f20" stroke-width="0.8" />
<line x1="54.90" y1="347.40" x2="54.90" y2="359.00" stroke="#4a4a4a" stroke-width="1.1" />
<line x1="54.90" y1="378.30" x2="54.90" y2="387.20" stroke="#4a4a4a" stroke-width="1.1" />
<line x1="52.90" y1="347.40" x2="56.90" y2="347.40" stroke="#333" stroke-width="1.3" />
<line x1="52.90" y1="387.20" x2="56.90" y2="387.20" stroke="#333" stroke-width="1.3" />
<rect x="49.80" y="359.00" width="10.20" height="19.30" fill="#4b5468" />
<line x1="49.80" y1="369.10" x2="60.00" y2="369.10" stroke="#111" stroke-width="1.6" />
<line x1="67.45" y1="333.40" x2="67.45" y2="343.80" stroke="#4a4a4a" stroke-width="1.1" />
<line x1="67.45" y1="366.00" x2="67.45" y2="374.00" stroke="#4a4a4a" stroke-width="1.1" />
<line x1="65.45" y1="333.40" x2="69.45" y2="333.40" stroke="#333" stroke-width="1.3" />
<line x1="65.45" y1="374.00" x2="69.45" y2="374.00" stroke="#333" stroke-width="1.3" />
<rect x="62.60" y="343.80" width="9.70" height="22.20" fill="#a8001f" />
<line x1="62.60" y1="354.70" x2="72.30" y2="354.70" stroke="#111" stroke-width="1.6" />
<path d="M54.4,335.3 V325.0 H67.9 V329.3" fill="none" stroke="#555" stroke-width="1.2"/>
<text x="61.20" y="324.20" font-size="5" text-anchor="middle" fill="#333" >*</text>
<text x="25.50" y="399.20" font-size="8.8" textLength="70.90" lengthAdjust="spacingAndGlyphs" transform="rotate(-90 25.50 399.20)" >Mean speed (µm/min)</text>
<rect x="32.00" y="409.00" width="7.70" height="3.40" fill="#4b5468" />
<text x="42.90" y="412.40" font-size="5.5" textLength="8.20" lengthAdjust="spacingAndGlyphs" >WT</text>
<rect x="32.00" y="415.00" width="7.70" height="3.60" fill="#a8001f" />
<text x="42.90" y="418.70" font-size="5.5" textLength="18.30" lengthAdjust="spacingAndGlyphs" >cKO P2</text>
<line x1="309.40" y1="325.90" x2="309.40" y2="405.40" stroke="#231f20" stroke-width="1.4" />
<line x1="306.60" y1="329.10" x2="309.40" y2="329.10" stroke="#231f20" stroke-width="1.0" />
<text x="304.30" y="331.90" font-size="7.9" text-anchor="end" textLength="7.30" lengthAdjust="spacingAndGlyphs" >20</text>
<line x1="306.60" y1="351.00" x2="309.40" y2="351.00" stroke="#231f20" stroke-width="1.0" />
<text x="304.30" y="353.80" font-size="7.9" text-anchor="end" textLength="7.30" lengthAdjust="spacingAndGlyphs" >15</text>
<line x1="306.60" y1="372.80" x2="309.40" y2="372.80" stroke="#231f20" stroke-width="1.0" />
<text x="304.30" y="375.60" font-size="7.9" text-anchor="end" textLength="7.30" lengthAdjust="spacingAndGlyphs" >10</text>
<line x1="306.60" y1="394.70" x2="309.40" y2="394.70" stroke="#231f20" stroke-width="1.0" />
<text x="304.30" y="397.50" font-size="7.9" text-anchor="end" textLength="3.65" lengthAdjust="spacingAndGlyphs" >5</text>
<line x1="308.00" y1="340.00" x2="309.40" y2="340.00" stroke="#231f20" stroke-width="0.8" />
<line x1="308.00" y1="361.90" x2="309.40" y2="361.90" stroke="#231f20" stroke-width="0.8" />
<line x1="308.00" y1="383.70" x2="309.40" y2="383.70" stroke="#231f20" stroke-width="0.8" />
<line x1="320.75" y1="340.20" x2="320.75" y2="351.00" stroke="#4a4a4a" stroke-width="1.1" />
<line x1="320.75" y1="373.80" x2="320.75" y2="382.30" stroke="#4a4a4a" stroke-width="1.1" />
<line x1="318.75" y1="340.20" x2="322.75" y2="340.20" stroke="#333" stroke-width="1.3" />
<line x1="318.75" y1="382.30" x2="322.75" y2="382.30" stroke="#333" stroke-width="1.3" />
<rect x="315.70" y="351.00" width="10.10" height="22.80" fill="#434c60" />
<line x1="315.70" y1="364.10" x2="325.80" y2="364.10" stroke="#111" stroke-width="1.6" />
<line x1="333.15" y1="345.70" x2="333.15" y2="356.60" stroke="#4a4a4a" stroke-width="1.1" />
<line x1="333.15" y1="372.80" x2="333.15" y2="381.30" stroke="#4a4a4a" stroke-width="1.1" />
<line x1="331.15" y1="345.70" x2="335.15" y2="345.70" stroke="#333" stroke-width="1.3" />
<line x1="331.15" y1="381.30" x2="335.15" y2="381.30" stroke="#333" stroke-width="1.3" />
<rect x="328.20" y="356.60" width="9.90" height="16.20" fill="#62a5e2" />
<line x1="328.20" y1="365.50" x2="338.10" y2="365.50" stroke="#111" stroke-width="1.6" />
<text x="291.00" y="400.50" font-size="8.8" textLength="69.50" lengthAdjust="spacingAndGlyphs" transform="rotate(-90 291.00 400.50)" >Mean speed (µm/min)</text>
<rect x="297.10" y="411.80" width="7.80" height="4.10" fill="#434c60" />
<text x="307.90" y="415.90" font-size="5.5" textLength="8.10" lengthAdjust="spacingAndGlyphs" >WT</text>
<rect x="297.10" y="418.60" width="7.80" height="3.30" fill="#62a5e2" />
<text x="307.90" y="422.40" font-size="5.5" textLength="25.60" lengthAdjust="spacingAndGlyphs" >cKO P2H2</text>
<defs><clipPath id="cg"><rect x="141.4" y="312.3" width="109.3" height="109.2"/></clipPath><clipPath id="ci"><rect x="397.7" y="311.6" width="110.6" height="109.6"/></clipPath></defs>
<polygon points="141.90,421.20 168.80,413.50 177.60,409.50 186.40,404.50 195.20,398.50 203.80,391.90 212.60,386.20 221.40,379.60 228.40,373.50 235.00,370.80 237.00,370.40 241.40,365.50 250.20,358.00 252.00,356.50 252.00,378.00 250.20,378.80 241.40,383.20 235.00,384.00 230.20,384.90 221.40,388.40 212.60,392.80 203.80,396.50 195.20,402.00 186.40,406.50 177.60,410.40 168.80,414.10 141.90,421.40" fill="#4b5468" fill-opacity="0.45" clip-path="url(#cg)"/>
<polygon points="141.90,421.20 160.00,413.40 168.80,406.80 177.60,399.40 186.40,392.50 195.00,384.00 203.80,374.30 212.60,364.70 219.60,355.00 223.80,350.30 232.60,338.60 241.40,324.50 244.00,321.40 246.60,317.50 249.70,313.10 252.00,309.00 252.00,342.50 247.50,346.00 244.00,349.50 241.40,350.50 235.00,356.80 230.20,360.30 221.40,366.40 212.60,375.20 203.80,384.00 195.00,391.00 186.40,395.80 177.60,401.00 168.80,407.80 160.00,414.20 141.90,421.40" fill="#b0002a" fill-opacity="0.55" clip-path="url(#cg)"/>
<polyline points="141.90,421.30 148.80,420.40 154.00,418.80 160.00,416.90 168.80,413.80 177.60,409.90 186.40,405.50 195.20,400.20 203.80,393.70 212.60,388.80 221.40,383.10 230.20,378.70 235.00,377.00 241.40,374.40 247.50,370.40 251.50,367.60" fill="none" stroke="#3d4659" stroke-width="0.9" stroke-linejoin="round" clip-path="url(#cg)"/>
<polyline points="141.90,421.30 148.80,419.70 154.00,417.40 160.00,413.80 168.80,407.30 177.60,400.20 186.40,394.10 195.00,387.50 203.80,378.70 212.60,369.10 221.40,360.30 226.60,355.00 232.60,348.00 238.00,341.80 241.40,338.10 244.00,335.50 246.60,332.00 250.60,326.30 252.00,324.50" fill="none" stroke="#a8001f" stroke-width="0.9" stroke-linejoin="round" clip-path="url(#cg)"/>
<line x1="138.40" y1="421.50" x2="141.40" y2="421.50" stroke="#231f20" stroke-width="1.0" />
<text x="135.00" y="423.90" font-size="6.6" text-anchor="end" textLength="3.45" lengthAdjust="spacingAndGlyphs" >0</text>
<line x1="138.40" y1="406.90" x2="141.40" y2="406.90" stroke="#231f20" stroke-width="1.0" />
<text x="135.00" y="409.30" font-size="6.6" text-anchor="end" textLength="13.80" lengthAdjust="spacingAndGlyphs" >2500</text>
<line x1="138.40" y1="392.30" x2="141.40" y2="392.30" stroke="#231f20" stroke-width="1.0" />
<text x="135.00" y="394.70" font-size="6.6" text-anchor="end" textLength="13.80" lengthAdjust="spacingAndGlyphs" >5000</text>
<line x1="138.40" y1="377.70" x2="141.40" y2="377.70" stroke="#231f20" stroke-width="1.0" />
<text x="135.00" y="380.10" font-size="6.6" text-anchor="end" textLength="13.80" lengthAdjust="spacingAndGlyphs" >7500</text>
<line x1="138.40" y1="363.10" x2="141.40" y2="363.10" stroke="#231f20" stroke-width="1.0" />
<text x="135.00" y="365.50" font-size="6.6" text-anchor="end" textLength="17.25" lengthAdjust="spacingAndGlyphs" >10000</text>
<line x1="138.40" y1="348.50" x2="141.40" y2="348.50" stroke="#231f20" stroke-width="1.0" />
<text x="135.00" y="350.90" font-size="6.6" text-anchor="end" textLength="17.25" lengthAdjust="spacingAndGlyphs" >12500</text>
<line x1="138.40" y1="333.90" x2="141.40" y2="333.90" stroke="#231f20" stroke-width="1.0" />
<text x="135.00" y="336.30" font-size="6.6" text-anchor="end" textLength="17.25" lengthAdjust="spacingAndGlyphs" >15000</text>
<line x1="138.40" y1="319.30" x2="141.40" y2="319.30" stroke="#231f20" stroke-width="1.0" />
<text x="135.00" y="321.70" font-size="6.6" text-anchor="end" textLength="17.25" lengthAdjust="spacingAndGlyphs" >17500</text>
<line x1="141.90" y1="421.50" x2="141.90" y2="424.30" stroke="#231f20" stroke-width="1.0" />
<text transform="translate(141.90,431.00) rotate(-45)" x="0" y="2.2" font-size="6.8" text-anchor="middle" textLength="3.7" lengthAdjust="spacingAndGlyphs">0</text>
<line x1="149.13" y1="421.50" x2="149.13" y2="424.30" stroke="#231f20" stroke-width="1.0" />
<text transform="translate(149.13,431.00) rotate(-45)" x="0" y="2.2" font-size="6.8" text-anchor="middle" textLength="3.7" lengthAdjust="spacingAndGlyphs">1</text>
<line x1="156.37" y1="421.50" x2="156.37" y2="424.30" stroke="#231f20" stroke-width="1.0" />
<text transform="translate(156.37,431.00) rotate(-45)" x="0" y="2.2" font-size="6.8" text-anchor="middle" textLength="3.7" lengthAdjust="spacingAndGlyphs">2</text>
<line x1="163.60" y1="421.50" x2="163.60" y2="424.30" stroke="#231f20" stroke-width="1.0" />
<text transform="translate(163.60,431.00) rotate(-45)" x="0" y="2.2" font-size="6.8" text-anchor="middle" textLength="3.7" lengthAdjust="spacingAndGlyphs">3</text>
<line x1="170.83" y1="421.50" x2="170.83" y2="424.30" stroke="#231f20" stroke-width="1.0" />
<text transform="translate(170.83,431.00) rotate(-45)" x="0" y="2.2" font-size="6.8" text-anchor="middle" textLength="3.7" lengthAdjust="spacingAndGlyphs">4</text>
<line x1="178.06" y1="421.50" x2="178.06" y2="424.30" stroke="#231f20" stroke-width="1.0" />
<text transform="translate(178.06,431.00) rotate(-45)" x="0" y="2.2" font-size="6.8" text-anchor="middle" textLength="3.7" lengthAdjust="spacingAndGlyphs">5</text>
<line x1="185.30" y1="421.50" x2="185.30" y2="424.30" stroke="#231f20" stroke-width="1.0" />
<text transform="translate(185.30,431.00) rotate(-45)" x="0" y="2.2" font-size="6.8" text-anchor="middle" textLength="3.7" lengthAdjust="spacingAndGlyphs">6</text>
<line x1="192.53" y1="421.50" x2="192.53" y2="424.30" stroke="#231f20" stroke-width="1.0" />
<text transform="translate(192.53,431.00) rotate(-45)" x="0" y="2.2" font-size="6.8" text-anchor="middle" textLength="3.7" lengthAdjust="spacingAndGlyphs">7</text>
<line x1="199.76" y1="421.50" x2="199.76" y2="424.30" stroke="#231f20" stroke-width="1.0" />
<text transform="translate(199.76,431.00) rotate(-45)" x="0" y="2.2" font-size="6.8" text-anchor="middle" textLength="3.7" lengthAdjust="spacingAndGlyphs">8</text>
<line x1="207.00" y1="421.50" x2="207.00" y2="424.30" stroke="#231f20" stroke-width="1.0" />
<text transform="translate(207.00,431.00) rotate(-45)" x="0" y="2.2" font-size="6.8" text-anchor="middle" textLength="3.7" lengthAdjust="spacingAndGlyphs">9</text>
<line x1="214.23" y1="421.50" x2="214.23" y2="424.30" stroke="#231f20" stroke-width="1.0" />
<text transform="translate(213.23,431.80) rotate(-45)" x="0" y="2.2" font-size="6.8" text-anchor="middle" textLength="7.4" lengthAdjust="spacingAndGlyphs">10</text>
<line x1="221.46" y1="421.50" x2="221.46" y2="424.30" stroke="#231f20" stroke-width="1.0" />
<text transform="translate(220.46,431.80) rotate(-45)" x="0" y="2.2" font-size="6.8" text-anchor="middle" textLength="7.4" lengthAdjust="spacingAndGlyphs">11</text>
<line x1="228.70" y1="421.50" x2="228.70" y2="424.30" stroke="#231f20" stroke-width="1.0" />
<text transform="translate(227.70,431.80) rotate(-45)" x="0" y="2.2" font-size="6.8" text-anchor="middle" textLength="7.4" lengthAdjust="spacingAndGlyphs">12</text>
<line x1="235.93" y1="421.50" x2="235.93" y2="424.30" stroke="#231f20" stroke-width="1.0" />
<text transform="translate(234.93,431.80) rotate(-45)" x="0" y="2.2" font-size="6.8" text-anchor="middle" textLength="7.4" lengthAdjust="spacingAndGlyphs">13</text>
<line x1="243.16" y1="421.50" x2="243.16" y2="424.30" stroke="#231f20" stroke-width="1.0" />
<text transform="translate(242.16,431.80) rotate(-45)" x="0" y="2.2" font-size="6.8" text-anchor="middle" textLength="7.4" lengthAdjust="spacingAndGlyphs">14</text>
<line x1="250.39" y1="421.50" x2="250.39" y2="424.30" stroke="#231f20" stroke-width="1.0" />
<text transform="translate(249.39,431.80) rotate(-45)" x="0" y="2.2" font-size="6.8" text-anchor="middle" textLength="7.4" lengthAdjust="spacingAndGlyphs">15</text>
<rect x="141.40" y="312.30" width="109.30" height="109.20" fill="none" stroke="#000" stroke-width="1.3"/>
<rect x="145.20" y="316.10" width="4.60" height="2.70" fill="#4b5468" />
<text x="152.80" y="318.90" font-size="5.0" textLength="8.50" lengthAdjust="spacingAndGlyphs" >WT</text>
<rect x="145.20" y="322.60" width="4.60" height="3.00" fill="#a8001f" />
<text x="152.80" y="325.80" font-size="5.0" textLength="18.60" lengthAdjust="spacingAndGlyphs" >cKO P2</text>
<text x="178.50" y="304.70" font-size="8.8" textLength="21.60" lengthAdjust="spacingAndGlyphs" >MSD(</text>
<text x="200.70" y="304.70" font-size="8.8" font-style="italic" textLength="2.60" lengthAdjust="spacingAndGlyphs" >t</text>
<text x="203.50" y="306.50" font-size="6.2" font-style="italic" textLength="9.20" lengthAdjust="spacingAndGlyphs" >lag</text>
<text x="213.00" y="304.70" font-size="8.8" textLength="1.90" lengthAdjust="spacingAndGlyphs" >)</text>
<text x="111.3" y="427.9" font-size="8.8" transform="rotate(-90 111.3 427.9)" textLength="122" lengthAdjust="spacingAndGlyphs">Mean-squared displacement (<tspan font-style="italic">R</tspan><tspan font-size="5.5" dy="-3.2">2</tspan><tspan dy="3.2">) (µm</tspan><tspan font-size="5.5" dy="-3.2">2</tspan><tspan dy="3.2">)</tspan></text>
<text x="173.90" y="445.80" font-size="9.0" textLength="44.70" lengthAdjust="spacingAndGlyphs" >Lag time (min)</text>
<polygon points="405.50,419.19 406.50,418.60 407.50,418.02 408.50,417.43 409.50,416.85 410.50,416.26 411.50,415.68 412.50,415.09 413.50,414.51 414.50,413.92 415.50,413.33 416.50,412.75 417.50,412.16 418.50,411.58 419.50,410.99 420.50,410.28 421.50,409.43 422.50,408.58 423.50,407.73 424.50,406.88 425.50,406.03 426.50,405.18 427.50,404.33 428.50,403.48 429.50,402.43 430.50,401.31 431.50,400.18 432.50,399.05 433.50,397.92 434.50,396.79 435.50,395.66 436.50,394.54 437.50,393.45 438.50,392.44 439.50,391.43 440.50,390.33 441.50,389.23 442.50,388.12 443.50,387.01 444.50,385.90 445.50,384.80 446.50,383.69 447.50,382.58 448.50,381.48 449.50,380.38 450.50,379.29 451.50,378.21 452.50,377.13 453.50,376.04 454.50,374.96 455.50,373.88 456.50,372.80 457.50,371.71 458.50,370.63 459.50,369.55 460.50,368.47 461.50,367.40 462.50,366.37 463.50,365.35 464.50,364.33 465.50,363.30 466.50,362.28 467.50,361.26 468.50,360.23 469.50,359.21 470.50,358.26 471.50,357.38 472.50,356.50 473.50,355.62 474.50,354.74 475.50,353.75 476.50,352.65 477.50,351.55 478.50,350.45 479.50,349.35 480.50,348.24 481.50,347.14 482.50,346.04 483.50,344.94 484.50,343.84 485.50,342.80 486.50,341.80 487.50,340.80 488.50,339.80 489.50,338.80 490.50,337.80 491.50,336.80 492.50,335.80 493.50,334.80 494.50,333.80 495.50,332.75 496.50,331.68 497.50,330.60 498.50,329.53 499.50,328.46 500.50,327.39 501.50,326.31 502.50,325.23 503.50,324.15 504.50,323.06 505.50,321.98 506.50,320.89 507.50,319.81 508.50,318.85 509.50,317.90 509.50,341.00 508.50,341.42 507.50,341.85 506.50,342.39 505.50,342.92 504.50,343.45 503.50,343.98 502.50,344.56 501.50,345.29 500.50,346.03 499.50,346.80 498.50,347.60 497.50,348.40 496.50,349.20 495.50,350.00 494.50,350.80 493.50,351.60 492.50,352.40 491.50,353.20 490.50,354.00 489.50,354.76 488.50,355.38 487.50,356.01 486.50,356.63 485.50,357.26 484.50,357.88 483.50,358.51 482.50,359.13 481.50,359.76 480.50,360.41 479.50,361.08 478.50,361.76 477.50,362.43 476.50,363.11 475.50,363.78 474.50,364.46 473.50,365.14 472.50,365.81 471.50,366.49 470.50,367.16 469.50,367.87 468.50,368.60 467.50,369.34 466.50,370.07 465.50,370.81 464.50,371.54 463.50,372.28 462.50,373.01 461.50,373.75 460.50,374.54 459.50,375.40 458.50,376.31 457.50,377.22 456.50,378.13 455.50,379.04 454.50,379.94 453.50,380.85 452.50,381.76 451.50,382.67 450.50,383.58 449.50,384.49 448.50,385.42 447.50,386.36 446.50,387.30 445.50,388.24 444.50,389.19 443.50,390.13 442.50,391.07 441.50,392.01 440.50,392.95 439.50,393.90 438.50,394.86 437.50,395.82 436.50,396.85 435.50,397.92 434.50,398.99 433.50,400.07 432.50,401.14 431.50,402.22 430.50,403.29 429.50,404.36 428.50,405.35 427.50,406.15 426.50,406.95 425.50,407.74 424.50,408.54 423.50,409.33 422.50,410.13 421.50,410.92 420.50,411.72 419.50,412.38 418.50,412.91 417.50,413.44 416.50,413.97 415.50,414.50 414.50,415.04 413.50,415.57 412.50,416.10 411.50,416.63 410.50,417.16 409.50,417.69 408.50,418.22 407.50,418.75 406.50,419.29 405.50,419.82" fill="#3d4659" fill-opacity="0.42" clip-path="url(#ci)"/>
<polygon points="405.50,418.99 406.50,418.51 407.50,418.02 408.50,417.54 409.50,417.05 410.50,416.57 411.50,416.04 412.50,415.44 413.50,414.84 414.50,414.24 415.50,413.63 416.50,412.85 417.50,412.04 418.50,411.23 419.50,410.42 420.50,409.62 421.50,408.81 422.50,408.00 423.50,407.19 424.50,406.38 425.50,405.45 426.50,404.53 427.50,403.61 428.50,402.69 429.50,401.64 430.50,400.53 431.50,399.41 432.50,398.29 433.50,397.16 434.50,396.00 435.50,394.84 436.50,393.68 437.50,392.53 438.50,391.39 439.50,390.26 440.50,389.12 441.50,387.98 442.50,386.84 443.50,385.71 444.50,384.57 445.50,383.43 446.50,382.30 447.50,381.16 448.50,380.02 449.50,378.89 450.50,377.77 451.50,376.65 452.50,375.52 453.50,374.40 454.50,373.28 455.50,372.15 456.50,371.03 457.50,369.91 458.50,368.78 459.50,367.66 460.50,366.53 461.50,365.42 462.50,364.36 463.50,363.29 464.50,362.23 465.50,361.17 466.50,360.10 467.50,359.03 468.50,357.96 469.50,356.89 470.50,355.88 471.50,354.95 472.50,354.02 473.50,353.09 474.50,352.17 475.50,351.12 476.50,349.97 477.50,348.82 478.50,347.67 479.50,346.52 480.50,345.37 481.50,344.22 482.50,343.07 483.50,341.92 484.50,340.77 485.50,339.62 486.50,338.46 487.50,337.30 488.50,336.14 489.50,334.98 490.50,333.82 491.50,332.66 492.50,331.50 493.50,330.34 494.50,329.18 495.50,327.94 496.50,326.64 497.50,325.34 498.50,324.05 499.50,322.75 500.50,321.46 501.50,320.16 502.50,318.96 503.50,317.79 504.50,316.61 505.50,315.44 506.50,314.26 507.50,313.09 508.50,312.04 509.50,311.00 509.50,324.80 508.50,325.60 507.50,326.41 506.50,327.34 505.50,328.27 504.50,329.20 503.50,330.14 502.50,331.07 501.50,332.00 500.50,332.92 499.50,333.84 498.50,334.76 497.50,335.68 496.50,336.60 495.50,337.53 494.50,338.43 493.50,339.27 492.50,340.12 491.50,340.98 490.50,341.82 489.50,342.68 488.50,343.52 487.50,344.38 486.50,345.23 485.50,346.07 484.50,346.98 483.50,347.96 482.50,348.94 481.50,349.92 480.50,350.90 479.50,351.89 478.50,352.87 477.50,353.85 476.50,354.83 475.50,355.81 474.50,356.71 473.50,357.54 472.50,358.37 471.50,359.19 470.50,360.02 469.50,360.92 468.50,361.89 467.50,362.86 466.50,363.83 465.50,364.80 464.50,365.77 463.50,366.74 462.50,367.71 461.50,368.68 460.50,369.69 459.50,370.73 458.50,371.78 457.50,372.83 456.50,373.87 455.50,374.92 454.50,375.97 453.50,377.02 452.50,378.06 451.50,379.11 450.50,380.16 449.50,381.21 448.50,382.27 447.50,383.35 446.50,384.42 445.50,385.49 444.50,386.56 443.50,387.63 442.50,388.71 441.50,389.78 440.50,390.85 439.50,391.94 438.50,393.03 437.50,394.12 436.50,395.23 435.50,396.34 434.50,397.45 433.50,398.57 432.50,399.66 431.50,400.73 430.50,401.81 429.50,402.89 428.50,403.91 427.50,404.80 426.50,405.70 425.50,406.59 424.50,407.49 423.50,408.28 422.50,409.06 421.50,409.84 420.50,410.62 419.50,411.40 418.50,412.19 417.50,412.97 416.50,413.75 415.50,414.51 414.50,415.09 413.50,415.66 412.50,416.24 411.50,416.82 410.50,417.31 409.50,417.77 408.50,418.23 407.50,418.69 406.50,419.15 405.50,419.61" fill="#5ea3e3" fill-opacity="0.55" clip-path="url(#ci)"/>
<polyline points="405.50,419.50 406.50,418.93 407.50,418.37 408.50,417.80 409.50,417.24 410.50,416.67 411.50,416.11 412.50,415.54 413.50,414.98 414.50,414.41 415.50,413.84 416.50,413.28 417.50,412.71 418.50,412.15 419.50,411.58 420.50,410.89 421.50,410.06 422.50,409.23 423.50,408.40 424.50,407.57 425.50,406.74 426.50,405.91 427.50,405.08 428.50,404.25 429.50,403.22 430.50,402.12 431.50,401.01 432.50,399.90 433.50,398.79 434.50,397.68 435.50,396.57 436.50,395.47 437.50,394.40 438.50,393.41 439.50,392.42 440.50,391.43 441.50,390.44 442.50,389.44 443.50,388.45 444.50,387.46 445.50,386.47 446.50,385.48 447.50,384.49 448.50,383.49 449.50,382.51 450.50,381.55 451.50,380.60 452.50,379.64 453.50,378.68 454.50,377.72 455.50,376.76 456.50,375.80 457.50,374.84 458.50,373.88 459.50,372.93 460.50,371.97 461.50,371.02 462.50,370.14 463.50,369.25 464.50,368.37 465.50,367.48 466.50,366.60 467.50,365.71 468.50,364.83 469.50,363.94 470.50,363.09 471.50,362.26 472.50,361.44 473.50,360.61 474.50,359.78 475.50,358.96 476.50,358.13 477.50,357.31 478.50,356.48 479.50,355.66 480.50,354.83 481.50,354.03 482.50,353.26 483.50,352.48 484.50,351.71 485.50,350.93 486.50,350.16 487.50,349.38 488.50,348.61 489.50,347.83 490.50,346.90 491.50,345.90 492.50,344.90 493.50,343.90 494.50,342.90 495.50,341.90 496.50,340.90 497.50,339.90 498.50,338.90 499.50,337.90 500.50,336.90 501.50,335.90 502.50,334.90 503.50,334.06 504.50,333.27 505.50,332.47 506.50,331.68 507.50,330.88 508.50,330.18 509.50,329.50" fill="none" stroke="#2f3748" stroke-width="0.9" stroke-linejoin="round" clip-path="url(#ci)"/>
<polyline points="405.50,419.30 406.50,418.83 407.50,418.35 408.50,417.88 409.50,417.41 410.50,416.93 411.50,416.42 412.50,415.83 413.50,415.24 414.50,414.65 415.50,414.06 416.50,413.28 417.50,412.49 418.50,411.69 419.50,410.90 420.50,410.10 421.50,409.31 422.50,408.51 423.50,407.72 424.50,406.91 425.50,406.00 426.50,405.09 427.50,404.18 428.50,403.27 429.50,402.24 430.50,401.15 431.50,400.05 432.50,398.96 433.50,397.86 434.50,396.73 435.50,395.61 436.50,394.48 437.50,393.36 438.50,392.25 439.50,391.14 440.50,390.03 441.50,388.93 442.50,387.82 443.50,386.71 444.50,385.60 445.50,384.50 446.50,383.39 447.50,382.28 448.50,381.18 449.50,380.08 450.50,378.99 451.50,377.91 452.50,376.83 453.50,375.74 454.50,374.66 455.50,373.58 456.50,372.50 457.50,371.41 458.50,370.33 459.50,369.25 460.50,368.17 461.50,367.10 462.50,366.07 463.50,365.05 464.50,364.03 465.50,363.00 466.50,361.98 467.50,360.96 468.50,359.93 469.50,358.91 470.50,357.96 471.50,357.08 472.50,356.20 473.50,355.32 474.50,354.44 475.50,353.45 476.50,352.35 477.50,351.25 478.50,350.15 479.50,349.05 480.50,347.94 481.50,346.84 482.50,345.74 483.50,344.64 484.50,343.54 485.50,342.50 486.50,341.50 487.50,340.50 488.50,339.50 489.50,338.50 490.50,337.50 491.50,336.50 492.50,335.50 493.50,334.50 494.50,333.50 495.50,332.45 496.50,331.38 497.50,330.30 498.50,329.23 499.50,328.16 500.50,327.09 501.50,326.01 502.50,324.93 503.50,323.85 504.50,322.76 505.50,321.68 506.50,320.59 507.50,319.51 508.50,318.55 509.50,317.60" fill="none" stroke="#4a94da" stroke-width="0.9" stroke-linejoin="round" clip-path="url(#ci)"/>
<line x1="394.70" y1="420.80" x2="397.70" y2="420.80" stroke="#231f20" stroke-width="1.0" />
<text x="391.40" y="423.20" font-size="6.6" text-anchor="end" textLength="3.45" lengthAdjust="spacingAndGlyphs" >0</text>
<line x1="394.70" y1="408.29" x2="397.70" y2="408.29" stroke="#231f20" stroke-width="1.0" />
<text x="391.40" y="410.69" font-size="6.6" text-anchor="end" textLength="13.80" lengthAdjust="spacingAndGlyphs" >1000</text>
<line x1="394.70" y1="395.78" x2="397.70" y2="395.78" stroke="#231f20" stroke-width="1.0" />
<text x="391.40" y="398.18" font-size="6.6" text-anchor="end" textLength="13.80" lengthAdjust="spacingAndGlyphs" >2000</text>
<line x1="394.70" y1="383.27" x2="397.70" y2="383.27" stroke="#231f20" stroke-width="1.0" />
<text x="391.40" y="385.67" font-size="6.6" text-anchor="end" textLength="13.80" lengthAdjust="spacingAndGlyphs" >3000</text>
<line x1="394.70" y1="370.76" x2="397.70" y2="370.76" stroke="#231f20" stroke-width="1.0" />
<text x="391.40" y="373.16" font-size="6.6" text-anchor="end" textLength="13.80" lengthAdjust="spacingAndGlyphs" >4000</text>
<line x1="394.70" y1="358.25" x2="397.70" y2="358.25" stroke="#231f20" stroke-width="1.0" />
<text x="391.40" y="360.65" font-size="6.6" text-anchor="end" textLength="13.80" lengthAdjust="spacingAndGlyphs" >5000</text>
<line x1="394.70" y1="345.74" x2="397.70" y2="345.74" stroke="#231f20" stroke-width="1.0" />
<text x="391.40" y="348.14" font-size="6.6" text-anchor="end" textLength="13.80" lengthAdjust="spacingAndGlyphs" >6000</text>
<line x1="394.70" y1="333.23" x2="397.70" y2="333.23" stroke="#231f20" stroke-width="1.0" />
<text x="391.40" y="335.63" font-size="6.6" text-anchor="end" textLength="13.80" lengthAdjust="spacingAndGlyphs" >7000</text>
<line x1="394.70" y1="320.72" x2="397.70" y2="320.72" stroke="#231f20" stroke-width="1.0" />
<text x="391.40" y="323.12" font-size="6.6" text-anchor="end" textLength="13.80" lengthAdjust="spacingAndGlyphs" >8000</text>
<line x1="397.75" y1="421.20" x2="397.75" y2="424.00" stroke="#231f20" stroke-width="1.0" />
<text transform="translate(397.75,431.00) rotate(-45)" x="0" y="2.2" font-size="6.8" text-anchor="middle" textLength="3.7" lengthAdjust="spacingAndGlyphs">0</text>
<line x1="405.10" y1="421.20" x2="405.10" y2="424.00" stroke="#231f20" stroke-width="1.0" />
<text transform="translate(405.10,431.00) rotate(-45)" x="0" y="2.2" font-size="6.8" text-anchor="middle" textLength="3.7" lengthAdjust="spacingAndGlyphs">1</text>
<line x1="412.45" y1="421.20" x2="412.45" y2="424.00" stroke="#231f20" stroke-width="1.0" />
<text transform="translate(412.45,431.00) rotate(-45)" x="0" y="2.2" font-size="6.8" text-anchor="middle" textLength="3.7" lengthAdjust="spacingAndGlyphs">2</text>
<line x1="419.80" y1="421.20" x2="419.80" y2="424.00" stroke="#231f20" stroke-width="1.0" />
<text transform="translate(419.80,431.00) rotate(-45)" x="0" y="2.2" font-size="6.8" text-anchor="middle" textLength="3.7" lengthAdjust="spacingAndGlyphs">3</text>
<line x1="427.15" y1="421.20" x2="427.15" y2="424.00" stroke="#231f20" stroke-width="1.0" />
<text transform="translate(427.15,431.00) rotate(-45)" x="0" y="2.2" font-size="6.8" text-anchor="middle" textLength="3.7" lengthAdjust="spacingAndGlyphs">4</text>
<line x1="434.50" y1="421.20" x2="434.50" y2="424.00" stroke="#231f20" stroke-width="1.0" />
<text transform="translate(434.50,431.00) rotate(-45)" x="0" y="2.2" font-size="6.8" text-anchor="middle" textLength="3.7" lengthAdjust="spacingAndGlyphs">5</text>
<line x1="441.85" y1="421.20" x2="441.85" y2="424.00" stroke="#231f20" stroke-width="1.0" />
<text transform="translate(441.85,431.00) rotate(-45)" x="0" y="2.2" font-size="6.8" text-anchor="middle" textLength="3.7" lengthAdjust="spacingAndGlyphs">6</text>
<line x1="449.20" y1="421.20" x2="449.20" y2="424.00" stroke="#231f20" stroke-width="1.0" />
<text transform="translate(449.20,431.00) rotate(-45)" x="0" y="2.2" font-size="6.8" text-anchor="middle" textLength="3.7" lengthAdjust="spacingAndGlyphs">7</text>
<line x1="456.55" y1="421.20" x2="456.55" y2="424.00" stroke="#231f20" stroke-width="1.0" />
<text transform="translate(456.55,431.00) rotate(-45)" x="0" y="2.2" font-size="6.8" text-anchor="middle" textLength="3.7" lengthAdjust="spacingAndGlyphs">8</text>
<line x1="463.90" y1="421.20" x2="463.90" y2="424.00" stroke="#231f20" stroke-width="1.0" />
<text transform="translate(463.90,431.00) rotate(-45)" x="0" y="2.2" font-size="6.8" text-anchor="middle" textLength="3.7" lengthAdjust="spacingAndGlyphs">9</text>
<line x1="471.25" y1="421.20" x2="471.25" y2="424.00" stroke="#231f20" stroke-width="1.0" />
<text transform="translate(470.25,431.80) rotate(-45)" x="0" y="2.2" font-size="6.8" text-anchor="middle" textLength="7.4" lengthAdjust="spacingAndGlyphs">10</text>
<line x1="478.60" y1="421.20" x2="478.60" y2="424.00" stroke="#231f20" stroke-width="1.0" />
<text transform="translate(477.60,431.80) rotate(-45)" x="0" y="2.2" font-size="6.8" text-anchor="middle" textLength="7.4" lengthAdjust="spacingAndGlyphs">11</text>
<line x1="485.95" y1="421.20" x2="485.95" y2="424.00" stroke="#231f20" stroke-width="1.0" />
<text transform="translate(484.95,431.80) rotate(-45)" x="0" y="2.2" font-size="6.8" text-anchor="middle" textLength="7.4" lengthAdjust="spacingAndGlyphs">12</text>
<line x1="493.30" y1="421.20" x2="493.30" y2="424.00" stroke="#231f20" stroke-width="1.0" />
<text transform="translate(492.30,431.80) rotate(-45)" x="0" y="2.2" font-size="6.8" text-anchor="middle" textLength="7.4" lengthAdjust="spacingAndGlyphs">13</text>
<line x1="500.65" y1="421.20" x2="500.65" y2="424.00" stroke="#231f20" stroke-width="1.0" />
<text transform="translate(499.65,431.80) rotate(-45)" x="0" y="2.2" font-size="6.8" text-anchor="middle" textLength="7.4" lengthAdjust="spacingAndGlyphs">14</text>
<line x1="508.00" y1="421.20" x2="508.00" y2="424.00" stroke="#231f20" stroke-width="1.0" />
<text transform="translate(507.00,431.80) rotate(-45)" x="0" y="2.2" font-size="6.8" text-anchor="middle" textLength="7.4" lengthAdjust="spacingAndGlyphs">15</text>
<rect x="397.70" y="311.60" width="110.60" height="109.60" fill="none" stroke="#000" stroke-width="1.3"/>
<rect x="401.40" y="316.10" width="4.60" height="2.70" fill="#2f3748" />
<text x="409.30" y="318.90" font-size="5.0" textLength="8.30" lengthAdjust="spacingAndGlyphs" >WT</text>
<rect x="401.40" y="322.90" width="4.60" height="2.90" fill="#5ea3e3" />
<text x="409.30" y="326.00" font-size="5.0" textLength="25.50" lengthAdjust="spacingAndGlyphs" >cKO P2H2</text>
<text x="434.80" y="304.00" font-size="8.8" textLength="20.60" lengthAdjust="spacingAndGlyphs" >MSD(</text>
<text x="456.00" y="304.00" font-size="8.8" font-style="italic" textLength="2.60" lengthAdjust="spacingAndGlyphs" >t</text>
<text x="459.30" y="305.80" font-size="6.2" font-style="italic" textLength="9.20" lengthAdjust="spacingAndGlyphs" >lag</text>
<text x="468.80" y="304.00" font-size="8.8" textLength="2.50" lengthAdjust="spacingAndGlyphs" >)</text>
<text x="371.3" y="429.0" font-size="8.8" transform="rotate(-90 371.3 429.0)" textLength="122.8" lengthAdjust="spacingAndGlyphs">Mean-squared displacement (<tspan font-style="italic">R</tspan><tspan font-size="5.5" dy="-3.2">2</tspan><tspan dy="3.2">) (µm</tspan><tspan font-size="5.5" dy="-3.2">2</tspan><tspan dy="3.2">)</tspan></text>
<text x="430.90" y="445.60" font-size="9.0" textLength="44.90" lengthAdjust="spacingAndGlyphs" >Lag time (min)</text>
<text x="30.50" y="178.80" font-size="9.6" textLength="75.50" lengthAdjust="spacingAndGlyphs" >2D migration assay</text>
<rect x="19.90" y="182.00" width="53.90" height="81.00" fill="#161616" />
<clipPath id="cd1"><rect x="19.75" y="182" width="54" height="81"/></clipPath>
<g clip-path="url(#cd1)">
<circle cx="22.0" cy="182.2" r="2.7" fill="none" stroke="#8e8e8e" stroke-width="1.3"/>
<circle cx="32.6" cy="182.2" r="2.7" fill="none" stroke="#8e8e8e" stroke-width="1.3"/>
<circle cx="43.4" cy="182.2" r="2.7" fill="none" stroke="#8e8e8e" stroke-width="1.3"/>
<circle cx="54.3" cy="182.2" r="2.7" fill="none" stroke="#8e8e8e" stroke-width="1.3"/>
<circle cx="65.4" cy="182.2" r="2.7" fill="none" stroke="#8e8e8e" stroke-width="1.3"/>
<circle cx="22.0" cy="193.0" r="2.7" fill="none" stroke="#8e8e8e" stroke-width="1.3"/>
<circle cx="32.6" cy="193.0" r="2.7" fill="none" stroke="#8e8e8e" stroke-width="1.3"/>
<circle cx="43.4" cy="193.0" r="2.7" fill="none" stroke="#8e8e8e" stroke-width="1.3"/>
<circle cx="54.3" cy="193.0" r="2.7" fill="none" stroke="#8e8e8e" stroke-width="1.3"/>
<circle cx="65.4" cy="193.0" r="2.7" fill="none" stroke="#8e8e8e" stroke-width="1.3"/>
<circle cx="22.0" cy="203.9" r="2.7" fill="none" stroke="#8e8e8e" stroke-width="1.3"/>
<circle cx="32.6" cy="203.9" r="2.7" fill="none" stroke="#8e8e8e" stroke-width="1.3"/>
<circle cx="43.4" cy="203.9" r="2.7" fill="none" stroke="#8e8e8e" stroke-width="1.3"/>
<circle cx="54.3" cy="203.9" r="2.7" fill="none" stroke="#8e8e8e" stroke-width="1.3"/>
<circle cx="65.4" cy="203.9" r="2.7" fill="none" stroke="#8e8e8e" stroke-width="1.3"/>
<circle cx="22.0" cy="214.7" r="2.7" fill="none" stroke="#8e8e8e" stroke-width="1.3"/>
<circle cx="32.6" cy="214.7" r="2.7" fill="none" stroke="#8e8e8e" stroke-width="1.3"/>
<circle cx="43.4" cy="214.7" r="2.7" fill="none" stroke="#8e8e8e" stroke-width="1.3"/>
<circle cx="54.3" cy="214.7" r="2.7" fill="none" stroke="#8e8e8e" stroke-width="1.3"/>
<circle cx="65.4" cy="214.7" r="2.7" fill="none" stroke="#8e8e8e" stroke-width="1.3"/>
<circle cx="22.0" cy="225.5" r="2.7" fill="none" stroke="#8e8e8e" stroke-width="1.3"/>
<circle cx="32.6" cy="225.5" r="2.7" fill="none" stroke="#8e8e8e" stroke-width="1.3"/>
<circle cx="43.4" cy="225.5" r="2.7" fill="none" stroke="#8e8e8e" stroke-width="1.3"/>
<circle cx="54.3" cy="225.5" r="2.7" fill="none" stroke="#8e8e8e" stroke-width="1.3"/>
<circle cx="65.4" cy="225.5" r="2.7" fill="none" stroke="#8e8e8e" stroke-width="1.3"/>
<circle cx="22.0" cy="236.3" r="2.7" fill="none" stroke="#8e8e8e" stroke-width="1.3"/>
<circle cx="32.6" cy="236.3" r="2.7" fill="none" stroke="#8e8e8e" stroke-width="1.3"/>
<circle cx="43.4" cy="236.3" r="2.7" fill="none" stroke="#8e8e8e" stroke-width="1.3"/>
<circle cx="54.3" cy="236.3" r="2.7" fill="none" stroke="#8e8e8e" stroke-width="1.3"/>
<circle cx="65.4" cy="236.3" r="2.7" fill="none" stroke="#8e8e8e" stroke-width="1.3"/>
<circle cx="22.0" cy="247.1" r="2.7" fill="none" stroke="#8e8e8e" stroke-width="1.3"/>
<circle cx="32.6" cy="247.1" r="2.7" fill="none" stroke="#8e8e8e" stroke-width="1.3"/>
<circle cx="43.4" cy="247.1" r="2.7" fill="none" stroke="#8e8e8e" stroke-width="1.3"/>
<circle cx="54.3" cy="247.1" r="2.7" fill="none" stroke="#8e8e8e" stroke-width="1.3"/>
<circle cx="65.4" cy="247.1" r="2.7" fill="none" stroke="#8e8e8e" stroke-width="1.3"/>
<circle cx="22.0" cy="257.9" r="2.7" fill="none" stroke="#8e8e8e" stroke-width="1.3"/>
<circle cx="32.6" cy="257.9" r="2.7" fill="none" stroke="#8e8e8e" stroke-width="1.3"/>
<circle cx="43.4" cy="257.9" r="2.7" fill="none" stroke="#8e8e8e" stroke-width="1.3"/>
<circle cx="54.3" cy="257.9" r="2.7" fill="none" stroke="#8e8e8e" stroke-width="1.3"/>
<circle cx="65.4" cy="257.9" r="2.7" fill="none" stroke="#8e8e8e" stroke-width="1.3"/>
<circle cx="32.8" cy="186.5" r="0.88" fill="#d2343e"/>
<circle cx="39" cy="185" r="0.92" fill="#d2343e"/>
<circle cx="51.5" cy="189.5" r="1.07" fill="#d2343e"/>
<circle cx="54.4" cy="191" r="0.89" fill="#d2343e"/>
<circle cx="55" cy="194.5" r="0.90" fill="#d2343e"/>
<circle cx="56" cy="195.3" r="0.93" fill="#d2343e"/>
<circle cx="22" cy="200.5" r="0.77" fill="#d2343e"/>
<circle cx="36.5" cy="202.5" r="0.90" fill="#d2343e"/>
<circle cx="43.5" cy="207.5" r="0.95" fill="#d2343e"/>
<circle cx="39.5" cy="209" r="1.02" fill="#d2343e"/>
<circle cx="51" cy="204.5" r="0.74" fill="#d2343e"/>
<circle cx="27" cy="210.5" r="0.82" fill="#d2343e"/>
<circle cx="48.5" cy="213.8" r="0.74" fill="#d2343e"/>
<circle cx="50.5" cy="213.2" r="1.02" fill="#d2343e"/>
<circle cx="47.5" cy="220.5" r="0.98" fill="#d2343e"/>
<circle cx="26.5" cy="223.5" r="0.72" fill="#d2343e"/>
<circle cx="45" cy="227" r="1.09" fill="#d2343e"/>
<circle cx="58" cy="224" r="1.09" fill="#d2343e"/>
<circle cx="49" cy="229" r="0.96" fill="#d2343e"/>
<circle cx="36" cy="233.5" r="0.95" fill="#d2343e"/>
<circle cx="28" cy="237" r="0.76" fill="#d2343e"/>
<circle cx="44" cy="240.5" r="0.71" fill="#d2343e"/>
<circle cx="53.5" cy="241.8" r="0.91" fill="#d2343e"/>
<circle cx="27.5" cy="245" r="0.72" fill="#d2343e"/>
<circle cx="58" cy="253.5" r="0.78" fill="#d2343e"/>
<circle cx="22.5" cy="253" r="0.80" fill="#d2343e"/>
<circle cx="24" cy="255.5" r="0.71" fill="#d2343e"/>
<circle cx="27" cy="255.5" r="0.89" fill="#d2343e"/>
<circle cx="39.5" cy="255.5" r="0.88" fill="#d2343e"/>
<circle cx="47" cy="260.5" r="1.04" fill="#d2343e"/>
<circle cx="30.5" cy="261" r="0.91" fill="#d2343e"/>
</g>
<rect x="66.50" y="259.30" width="6.00" height="2.60" fill="#101010" />
<line x1="67.30" y1="259.80" x2="71.80" y2="259.80" stroke="#ddd" stroke-width="0.5" />
<text x="69.50" y="261.90" font-size="1.9" text-anchor="middle" fill="#fff" >100 µm</text>
<rect x="75.80" y="182.10" width="41.10" height="81.00" fill="#827e7c" />
<rect x="75.80" y="202.10" width="41.10" height="1.00" fill="#9a9a9a" />
<rect x="75.80" y="221.90" width="41.10" height="1.00" fill="#9a9a9a" />
<rect x="75.80" y="241.80" width="41.10" height="1.00" fill="#9a9a9a" />
<filter id="cb" x="-50%" y="-50%" width="200%" height="200%"><feGaussianBlur stdDeviation="0.5"/></filter>
<ellipse cx="87.2" cy="194.6" rx="7.4" ry="7.2" fill="#858180" stroke="#b0b0b0" stroke-width="0.55" stroke-opacity="0.85" transform="rotate(0 86.4 194.9)"/>
<path d="M79.9,197.70000000000002 L85.4,195.70000000000002" stroke="#b4b4b4" stroke-width="1.1" stroke-linecap="round" opacity="0.8"/>
<g filter="url(#cb)"><ellipse cx="86.4" cy="194.9" rx="4.0" ry="4.2" fill="#de7480" transform="rotate(0 86.4 194.9)"/><ellipse cx="87.0" cy="194.5" rx="2.0" ry="1.8900000000000001" fill="#e68a94" transform="rotate(0 86.4 194.9)"/><circle cx="85.2" cy="195.9" r="0.9" fill="#c45060"/></g>
<ellipse cx="94.1" cy="213.6" rx="8.4" ry="6.8" fill="#858180" stroke="#b0b0b0" stroke-width="0.55" stroke-opacity="0.85" transform="rotate(-25 93.3 213.9)"/>
<path d="M85.8,216.70000000000002 L92.3,214.70000000000002" stroke="#b4b4b4" stroke-width="1.1" stroke-linecap="round" opacity="0.8"/>
<g filter="url(#cb)"><ellipse cx="93.3" cy="213.9" rx="5.0" ry="3.8" fill="#de7480" transform="rotate(-25 93.3 213.9)"/><ellipse cx="93.89999999999999" cy="213.5" rx="2.5" ry="1.71" fill="#e68a94" transform="rotate(-25 93.3 213.9)"/><circle cx="92.1" cy="214.9" r="0.9" fill="#c45060"/></g>
<ellipse cx="99.2" cy="232.1" rx="7.699999999999999" ry="7.0" fill="#858180" stroke="#b0b0b0" stroke-width="0.55" stroke-opacity="0.85" transform="rotate(-35 98.4 232.4)"/>
<path d="M91.60000000000001,235.20000000000002 L97.4,233.20000000000002" stroke="#b4b4b4" stroke-width="1.1" stroke-linecap="round" opacity="0.8"/>
<g filter="url(#cb)"><ellipse cx="98.4" cy="232.4" rx="4.3" ry="4.0" fill="#de7480" transform="rotate(-35 98.4 232.4)"/><ellipse cx="99.0" cy="232.0" rx="2.15" ry="1.8" fill="#e68a94" transform="rotate(-35 98.4 232.4)"/><circle cx="97.2" cy="233.4" r="0.9" fill="#c45060"/></g>
<ellipse cx="106.1" cy="250.79999999999998" rx="8.0" ry="6.8" fill="#858180" stroke="#b0b0b0" stroke-width="0.55" stroke-opacity="0.85" transform="rotate(-30 105.3 251.1)"/>
<path d="M98.2,253.9 L104.3,251.9" stroke="#b4b4b4" stroke-width="1.1" stroke-linecap="round" opacity="0.8"/>
<g filter="url(#cb)"><ellipse cx="105.3" cy="251.1" rx="4.6" ry="3.8" fill="#de7480" transform="rotate(-30 105.3 251.1)"/><ellipse cx="105.89999999999999" cy="250.7" rx="2.3" ry="1.71" fill="#e68a94" transform="rotate(-30 105.3 251.1)"/><circle cx="104.1" cy="252.1" r="0.9" fill="#c45060"/></g>
<text x="114.00" y="184.80" font-size="1.8" text-anchor="middle" fill="#c8c8c8" >00:00</text>
<text x="114.00" y="205.30" font-size="1.8" text-anchor="middle" fill="#c8c8c8" >00:00</text>
<text x="114.00" y="225.10" font-size="1.8" text-anchor="middle" fill="#c8c8c8" >00:00</text>
<text x="114.00" y="245.00" font-size="1.8" text-anchor="middle" fill="#c8c8c8" >00:00</text>
<rect x="77.00" y="259.90" width="4.30" height="1.70" fill="#dddddd" />
<text x="82.60" y="268.50" font-size="5.2" font-style="italic" textLength="33.60" lengthAdjust="spacingAndGlyphs" >4.5 µm height</text>
<defs><filter id="blur3" x="-50%" y="-50%" width="200%" height="200%"><feGaussianBlur stdDeviation="3.2"/></filter><filter id="blur1" x="-50%" y="-50%" width="200%" height="200%"><feGaussianBlur stdDeviation="1.6"/></filter><radialGradient id="haze"><stop offset="0" stop-color="#cdcdcd"/><stop offset="0.5" stop-color="#dadada"/><stop offset="0.78" stop-color="#ebebeb"/><stop offset="1" stop-color="#fff" stop-opacity="0"/></radialGradient><radialGradient id="core"><stop offset="0" stop-color="#000" stop-opacity="0.75"/><stop offset="1" stop-color="#000" stop-opacity="0"/></radialGradient><radialGradient id="corer"><stop offset="0" stop-color="#3a0505" stop-opacity="0.75"/><stop offset="1" stop-color="#3a0505" stop-opacity="0"/></radialGradient></defs>
<ellipse cx="214.5" cy="220.5" rx="44" ry="33" fill="url(#haze)"/>
<defs><path id="tr5" d="M214.2 220.6 213.6 221.5 211.4 220.7 209.6 221.0 209.5 222.1 209.7 223.5 210.1 225.7 211.4 227.2 210.0 227.6 207.6 228.2 206.4 229.6 206.5 228.2 204.6 226.8 204.9 228.4 204.9 229.9 204.5 230.9 204.9 233.1 204.0 234.4 202.8 236.6 M214.2 220.6 215.6 220.8 216.5 221.2 216.6 222.4 214.8 221.3 213.2 221.2 212.5 220.5 212.3 219.5 211.4 220.0 212.2 221.1 213.6 220.3 214.4 219.6 216.1 219.2 218.3 219.1 219.7 219.4 220.0 217.9 219.3 217.2 M214.2 220.6 215.0 220.8 214.9 221.4 214.4 221.3 213.6 221.6 213.2 221.6 213.1 221.1 212.8 220.6 213.3 220.2 214.0 220.6 214.3 221.1 214.0 221.6 213.6 222.1 M214.2 220.6 214.1 221.7 214.8 222.7 214.1 223.6 213.8 224.7 214.3 226.0 215.6 226.4 216.6 225.5 216.0 224.2 214.5 224.1 215.4 224.8 215.0 225.8 216.3 225.7 217.2 226.5 216.5 227.3 215.5 228.1 215.8 228.8 216.8 229.6 217.5 229.7 M214.2 220.6 214.1 224.1 216.0 225.4 217.6 225.9 219.8 226.2 222.0 223.7 222.9 220.3 221.2 219.0 221.7 221.1 222.4 222.7 224.9 222.8 227.0 221.7 228.6 221.2 231.5 221.8 233.3 219.8 234.6 222.9 M214.2 220.6 209.9 223.6 209.8 219.5 206.9 215.1 201.8 213.9 199.4 211.9 199.8 208.3 203.9 206.1 206.2 208.2 209.3 211.7 213.0 215.4 213.9 219.4 217.8 221.7 221.7 219.3 222.2 216.2 222.0 212.5 221.7 210.1 218.1 209.6 M214.2 220.6 215.6 219.3 217.3 220.6 219.0 221.0 220.6 220.7 219.7 219.6 218.8 217.9 217.3 218.2 215.9 220.1 217.5 220.5 217.2 221.8 216.4 222.7 216.2 223.8 214.7 224.6 212.8 223.5 212.6 221.2 212.2 220.0 M214.2 220.6 214.3 219.9 214.2 219.2 212.9 219.2 212.2 219.9 212.3 221.2 212.8 221.7 212.8 222.7 211.8 223.1 211.0 223.5 210.3 222.8 209.5 221.9 M214.2 220.6 216.2 219.5 219.7 220.3 221.1 222.8 223.2 223.3 226.4 226.6 227.9 228.8 224.6 231.6 222.5 234.6 220.1 237.4 217.0 237.3 213.9 234.5 210.2 236.7 210.4 240.7 212.0 242.4 214.8 245.8 M214.2 220.6 212.3 218.3 211.7 216.5 212.0 215.0 214.9 215.0 217.4 213.7 219.4 212.3 222.1 212.5 223.4 211.9 222.3 210.7 221.9 208.9 M214.2 220.6 214.4 222.9 216.9 222.6 216.9 220.9 217.5 223.0 216.1 223.9 214.2 222.1 213.3 220.1 212.4 219.1 209.7 218.2 210.1 216.5 M214.2 220.6 214.4 221.4 214.5 222.3 215.1 222.9 215.6 224.7 216.9 225.0 218.0 225.3 217.5 224.0 216.6 223.4 215.4 224.1 214.4 225.1 213.1 225.2 212.2 225.8 210.9 226.8 209.9 227.1 209.0 226.8 208.0 225.8 208.4 225.1 M214.2 220.6 212.6 223.5 211.7 226.6 212.2 228.5 210.5 227.6 209.0 226.7 207.3 226.1 205.3 227.2 203.4 229.2 200.5 228.0 199.0 226.8 198.1 224.8 196.5 224.5 194.6 223.0 193.4 220.3 194.5 217.5 M214.2 220.6 215.0 221.9 216.5 222.9 217.7 220.8 220.0 219.8 220.8 221.2 219.5 223.3 220.4 225.5 221.6 226.2 222.5 227.6 221.6 228.7 220.1 230.5 220.9 228.7 222.7 228.7 222.8 230.0 223.5 231.2 224.3 229.8 M214.2 220.6 213.7 219.7 212.6 219.8 212.0 220.6 212.4 221.4 212.9 222.1 213.3 221.3 213.0 220.8 212.5 219.8 212.1 219.2 211.8 218.1 211.0 218.2 211.4 217.6 211.8 217.2 212.3 216.3 213.3 216.1 213.8 215.8 M214.2 220.6 214.5 218.8 215.0 216.7 216.7 216.4 218.0 214.5 219.1 212.2 218.3 210.8 217.0 211.4 217.9 213.6 216.1 215.4 213.9 216.0 213.4 218.5 212.3 219.7 211.1 219.9 209.1 220.5 207.0 220.7 205.1 219.5 M214.2 220.6 214.6 220.9 215.0 220.5 214.3 220.2 214.1 219.8 214.0 219.3 214.7 219.1 215.3 219.5 214.6 219.7 214.6 220.1 214.2 220.5 213.6 220.9 M214.2 220.6 214.4 221.2 214.3 221.8 214.2 222.7 215.1 221.9 216.2 221.2 217.0 220.7 217.4 219.4 217.7 218.8 217.6 217.4 216.7 216.3 216.2 215.2 216.9 214.5 217.7 213.4 218.1 212.9 219.4 213.0 220.4 213.3 M214.2 220.6 216.5 220.2 218.2 220.3 220.0 219.6 219.4 220.5 218.3 222.0 219.0 223.7 219.3 225.8 219.6 227.9 218.0 229.7 217.5 231.9 216.5 234.0 M214.2 220.6 214.2 221.5 213.7 222.5 213.1 223.5 213.0 224.5 213.7 225.1 214.5 224.6 215.6 224.8 216.7 225.6 216.6 226.5 215.8 226.8 215.1 226.4 214.2 226.6 213.5 225.9 212.1 225.7 211.2 225.4 210.1 225.1 M214.2 220.6 216.0 222.5 217.7 223.4 218.8 224.1 220.6 221.9 222.6 221.0 221.8 223.9 222.8 225.1 222.0 227.5 220.7 228.8 219.6 231.3 217.7 231.1 216.0 232.2 215.1 233.3 M214.2 220.6 216.4 222.6 216.9 224.4 216.4 226.5 216.9 230.4 220.7 231.0 220.0 228.4 217.4 227.1 214.8 229.3 215.1 232.1 218.0 233.4 221.4 234.1 223.3 234.0 223.8 231.5 219.7 231.8 M214.2 220.6 214.0 221.8 215.0 223.2 214.7 224.2 215.0 225.2 215.3 226.5 215.1 227.8 215.2 228.8 216.2 230.0 216.7 229.1 216.1 227.9 216.9 226.5 216.5 224.8 216.2 223.7 216.4 221.9 215.0 220.6 213.3 221.2 M214.2 220.6 214.6 220.2 214.3 219.2 214.8 218.6 215.7 218.0 216.7 217.6 217.7 217.0 218.9 217.0 219.3 217.5 219.4 218.4 218.5 219.2 217.7 219.2 216.8 219.1 M214.2 220.6 215.3 220.1 217.1 219.9 216.7 220.8 217.7 220.9 218.0 221.8 219.8 222.1 221.5 221.6 222.2 222.5 223.5 222.7 224.3 222.1 222.6 221.9 221.8 221.1 220.6 221.3 220.5 222.9 221.7 224.3 222.7 225.6 223.5 225.9 224.9 226.0 M214.2 220.6 214.5 220.1 214.3 219.4 214.1 218.7 214.0 217.9 213.8 216.8 213.3 216.0 214.4 215.7 215.0 214.8 215.8 215.1 216.4 214.5 216.7 213.9 217.2 214.2 218.1 214.4 218.9 214.3 219.8 214.5 M214.2 220.6 214.0 222.3 213.7 224.3 212.4 226.3 211.8 228.2 213.6 227.8 215.0 227.8 217.1 229.3 219.1 230.5 220.4 232.2 223.0 231.9 223.8 230.7 222.3 228.4 222.1 226.9 222.7 225.3 222.6 224.0 223.9 222.1 223.7 220.3 225.1 220.0 M214.2 220.6 212.2 226.6 217.8 228.7 216.3 233.0 219.2 237.8 221.8 240.3 225.6 239.3 230.5 238.3 233.4 235.0 233.3 231.5 231.6 229.0 229.1 227.5 224.2 222.9 221.1 223.8 221.5 220.9 217.0 219.1 213.2 221.9 213.3 225.5 216.7 228.8 M214.2 220.6 212.5 220.5 212.2 219.3 212.8 218.3 212.3 217.5 213.7 216.4 215.1 217.4 216.0 217.0 217.2 217.0 218.5 216.4 219.9 217.6 221.2 218.3 M214.2 220.6 213.4 221.0 212.0 221.1 211.7 219.4 210.6 217.9 209.5 218.0 208.1 218.3 208.2 216.9 206.9 215.9 205.6 215.7 204.5 214.3 204.6 213.1 204.1 211.8 203.5 211.2 202.9 210.5 202.5 211.9 202.3 213.3 M214.2 220.6 214.8 222.1 215.6 222.8 214.6 223.3 213.4 223.9 213.0 225.0 211.4 225.0 210.5 223.5 211.5 222.8 212.4 223.8 213.1 224.8 214.5 225.5 215.7 226.0 217.4 225.3 216.7 224.4 216.8 223.0 217.4 222.1 218.7 222.3 220.8 223.2 M214.2 220.6 213.1 222.4 212.3 224.6 212.5 226.7 213.9 226.0 213.8 224.4 213.2 223.1 214.4 221.2 214.2 220.0 214.1 217.9 214.4 216.8 216.4 217.0 M214.2 220.6 214.6 219.1 212.5 219.3 210.9 219.2 209.0 220.3 207.9 219.3 208.6 218.1 209.4 216.9 211.0 215.9 212.4 217.4 212.9 219.3 213.9 221.1 213.0 222.9 213.7 224.0 215.5 225.2 217.0 226.0 M214.2 220.6 215.8 220.9 217.4 220.9 217.9 221.9 218.8 222.3 219.7 222.6 220.9 222.8 222.1 223.3 222.7 225.0 222.6 225.9 223.0 227.2 221.6 226.9 220.8 225.4 M214.2 220.6 210.3 220.6 207.0 221.2 205.1 225.0 199.9 225.6 197.3 227.0 199.1 230.9 200.6 234.4 204.8 236.4 203.6 232.9 204.5 227.5 203.5 225.1 202.2 229.3 200.2 231.2 204.0 233.0 201.2 237.1 200.7 240.7 M214.2 220.6 214.8 218.7 213.0 217.4 211.8 219.0 211.9 220.2 213.4 220.9 214.6 223.2 215.2 224.7 215.7 226.7 213.9 227.4 212.8 227.8 211.6 227.1 210.5 225.8 210.4 227.4 211.3 229.2 211.8 230.5 210.8 232.6 M214.2 220.6 215.4 218.2 217.7 217.0 220.2 217.2 221.3 215.7 221.7 212.4 221.4 209.8 222.6 207.4 222.3 205.7 221.6 204.0 222.2 205.7 220.1 208.1 217.6 208.2 215.1 209.7 215.1 213.0 217.7 215.8 M214.2 220.6 213.7 219.8 212.9 219.2 212.6 220.5 213.8 220.5 214.7 220.3 215.9 220.0 217.3 220.5 217.8 221.6 216.5 221.0 215.1 221.7 214.2 221.7 213.7 221.0 212.4 220.5 211.5 221.0 210.9 221.8 M214.2 220.6 213.9 219.8 214.0 218.7 212.8 219.2 211.8 217.9 211.5 217.1 210.7 216.0 209.8 216.7 209.0 217.0 209.6 215.6 210.5 215.0 211.3 214.6 211.4 213.1 210.6 212.0 210.2 211.1 209.1 210.9 M214.2 220.6 214.6 222.2 214.0 223.4 213.7 224.5 214.0 225.2 214.5 225.7 214.6 227.1 216.2 227.4 216.9 228.0 217.3 229.3 216.1 230.3 215.0 231.4 214.7 232.7 214.8 233.7 214.1 234.9 214.8 235.6 215.6 235.8 M214.2 220.6 208.7 218.1 205.4 220.2 200.8 220.3 198.6 215.6 195.4 212.3 193.5 207.4 193.5 204.4 193.3 200.4 197.6 198.7 194.4 197.7 193.0 201.5 192.4 206.0 188.3 210.0 M214.2 220.6 213.7 221.8 212.7 221.3 211.9 220.3 211.0 220.5 209.9 220.6 208.6 220.0 207.3 219.6 207.6 218.3 207.9 217.5 208.6 217.3 209.1 216.6 210.2 217.1 210.9 218.4 211.7 217.7 212.6 217.7 213.1 219.3 M214.2 220.6 214.7 222.8 218.1 225.0 220.0 227.7 220.1 229.5 220.3 231.5 217.4 233.1 217.4 236.8 219.3 239.5 220.1 241.4 222.8 243.9 221.8 247.6 219.3 246.2 218.0 248.5 218.7 252.6 M214.2 220.6 215.1 219.4 216.1 218.4 216.7 217.9 217.8 217.5 218.5 216.9 218.6 215.6 217.5 214.8 217.2 215.4 216.4 216.8 215.3 215.7 214.1 214.7 214.3 213.7 215.4 213.6 215.8 215.0 M214.2 220.6 215.7 222.0 217.7 223.1 219.0 223.5 220.4 224.1 220.5 226.3 220.5 228.3 220.7 226.2 219.3 227.2 219.8 228.5 220.9 229.8 219.7 227.8 219.1 226.9 M214.2 220.6 214.5 218.9 214.6 218.1 215.0 219.1 214.2 220.2 214.1 221.5 214.3 222.5 215.0 223.4 214.2 223.4 213.2 223.9 212.9 224.8 212.4 226.3 M214.2 220.6 215.3 221.2 214.8 223.4 213.4 224.7 213.9 225.9 215.2 227.0 216.2 225.4 217.4 224.8 218.1 223.3 218.4 221.4 217.1 220.0 217.3 218.6 218.5 217.0 219.2 215.4 220.2 213.3 221.2 212.6 M214.2 220.6 211.8 218.1 210.6 220.8 212.3 220.8 215.9 220.8 215.0 223.3 212.1 225.0 209.1 223.4 207.9 221.3 210.1 219.5 212.5 217.2 214.2 216.5 217.8 216.8 220.6 215.4 M214.2 220.6 218.7 219.1 219.3 222.9 223.0 228.7 219.6 229.8 221.0 234.6 226.0 231.2 227.6 227.1 226.8 220.3 228.0 216.2 220.8 213.5 215.7 211.1 208.3 209.9 207.4 205.6 202.4 201.8 M214.2 220.6 212.5 220.7 211.9 221.6 210.3 221.7 209.2 222.0 210.6 223.2 211.9 222.7 213.2 223.1 213.8 221.8 215.1 222.3 215.3 223.9 215.5 225.1 215.9 226.8 216.8 226.5 217.7 228.0 217.1 228.6 215.9 229.4 M214.2 220.6 214.2 219.1 215.3 219.0 217.0 218.0 218.0 217.4 217.3 216.4 216.4 215.3 215.3 216.9 216.1 216.1 218.2 216.8 219.6 217.4 220.8 219.3 220.6 220.9 221.5 221.6 221.7 223.6 223.4 224.5 224.6 225.1 M214.2 220.6 214.8 220.8 214.4 221.4 213.6 221.5 212.6 221.4 212.0 221.1 211.0 220.4 211.0 219.7 211.6 219.5 212.2 219.2 213.2 219.0 213.9 218.3 214.8 217.9 215.2 217.0 215.6 216.4 216.0 215.3 215.7 214.1 214.8 214.4 214.0 214.1 M214.2 220.6 214.2 222.3 212.2 221.3 211.8 220.0 212.6 218.9 213.9 218.7 214.7 217.8 215.7 217.3 217.7 216.9 218.8 216.6 220.2 215.7 221.3 214.9 222.7 214.6 223.7 213.6 224.7 212.7 M214.2 220.6 216.6 215.0 218.7 209.5 220.3 204.4 227.1 201.1 228.7 205.6 233.1 208.6 239.6 206.1 244.5 199.1 243.4 207.9 M214.2 220.6 216.4 222.9 217.1 226.1 214.0 227.3 212.7 222.8 216.4 220.4 220.7 219.2 223.8 221.4 225.5 217.4 223.7 212.5 218.9 210.7 214.4 212.7 211.1 208.1 205.8 206.4 200.7 205.5 M214.2 220.6 213.4 221.0 212.6 221.0 211.7 220.5 211.2 221.1 211.2 221.9 209.8 222.4 208.8 222.7 207.6 222.5 208.6 221.8 209.2 221.1 209.7 220.1 209.2 219.4 209.1 218.2 M214.2 220.6 213.2 218.8 212.2 217.8 211.6 215.6 212.2 214.5 210.7 213.9 210.0 212.4 209.4 210.4 209.8 207.9 210.7 206.1 212.2 207.5 213.6 206.3 M214.2 220.6 213.9 218.9 213.9 216.9 214.2 215.9 215.1 214.7 215.6 213.7 215.2 211.7 215.8 210.7 215.9 209.6 217.3 207.8 218.1 207.2 M214.2 220.6 214.3 220.9 214.6 221.1 214.7 221.3 214.7 221.9 215.0 222.4 215.3 222.9 215.2 223.1 214.8 223.1 214.3 223.2 214.3 222.7 M214.2 220.6 214.9 221.1 215.3 221.7 214.9 222.3 213.9 222.5 213.3 222.4 212.4 222.5 211.5 221.9 210.6 222.2 209.7 222.8 209.1 221.9 208.4 221.9 208.1 220.9 209.4 221.2 210.2 221.8 209.3 222.5 208.8 223.0 208.0 222.7 207.3 221.9 M214.2 220.6 215.4 218.8 214.9 216.9 213.5 214.7 211.4 212.3 209.9 209.4 208.1 207.0 206.6 208.1 206.8 211.1 206.5 213.5 203.5 214.2 201.7 214.3 200.9 215.8 199.4 216.0 196.1 215.9 194.6 216.0 M214.2 220.6 215.0 220.6 216.1 220.9 216.4 219.8 217.2 219.3 217.2 221.0 216.5 222.0 215.7 223.3 216.5 224.1 216.8 225.1 216.0 226.5 215.3 228.0 215.1 229.5 216.1 229.8 216.8 229.0 217.6 228.2 218.0 227.2 219.2 227.3 219.6 225.8 M214.2 220.6 214.9 219.4 214.5 218.3 213.4 216.8 212.0 215.6 212.6 214.8 213.9 213.1 212.6 214.8 212.9 216.2 214.0 218.0 215.5 217.5 216.8 218.2 216.6 220.3 216.0 221.0 217.1 221.4 217.0 223.3 218.1 223.5 219.9 222.8 220.8 224.0 M214.2 220.6 213.5 219.8 212.8 220.1 212.3 220.3 211.8 220.6 211.5 220.0 211.1 219.2 210.2 218.9 209.2 218.5 208.1 218.4 207.1 218.7 206.1 219.2 205.7 220.0 206.2 220.6 206.5 221.1 M214.2 220.6 212.8 219.5 211.3 218.5 210.1 217.4 209.1 216.1 209.3 215.3 208.1 214.4 206.7 213.0 204.9 212.8 203.4 212.3 202.4 212.9 200.7 212.2 200.3 210.5 198.8 209.4 198.1 208.5 197.0 207.1 196.5 205.9 195.1 205.3 195.6 204.4 M214.2 220.6 213.1 220.8 212.5 220.7 211.8 221.0 211.7 222.0 211.0 222.1 210.5 223.1 210.2 222.5 209.6 222.1 210.4 221.3 211.7 221.5 212.8 221.5 212.9 220.9 212.7 220.0 211.9 219.6 211.4 218.9 M214.2 220.6 213.7 220.4 213.1 219.9 212.4 220.0 212.0 220.4 211.6 220.6 211.2 221.1 211.4 221.9 212.2 222.3 212.4 222.9 212.4 223.6 M214.2 220.6 213.6 221.7 212.3 221.2 212.1 219.9 211.5 219.2 210.7 219.6 211.2 220.2 212.0 220.7 212.6 221.2 213.2 222.5 213.6 223.5 215.0 223.8 214.7 225.1 214.9 226.6 215.9 226.8 217.3 226.3 218.5 226.8 M214.2 220.6 218.0 220.3 222.2 222.6 223.3 225.3 225.6 225.4 228.0 224.4 230.3 223.9 233.3 223.0 230.7 225.3 226.6 223.9 227.2 228.2 M214.2 220.6 215.3 220.0 215.1 219.0 213.7 218.9 212.6 219.6 212.5 220.2 211.4 219.4 212.3 219.9 213.0 219.2 213.7 218.4 214.3 217.7 214.4 217.1 214.4 215.8 214.3 215.1 213.3 214.2 M214.2 220.6 210.8 222.4 207.7 220.5 200.8 220.7 195.2 221.5 191.8 215.9 195.8 211.9 197.6 215.8 195.8 213.3 191.2 214.0 188.3 214.9 184.7 217.5 M214.2 220.6 212.7 223.0 210.6 220.7 208.8 220.7 208.4 223.3 207.9 226.6 206.7 227.7 204.3 228.8 202.7 229.4 200.7 229.5 198.5 227.8 196.9 226.7 195.4 227.4 193.5 227.1 192.8 224.1 189.9 223.8 187.8 223.7 M214.2 220.6 215.8 221.4 218.0 220.8 220.5 219.7 221.8 219.3 223.5 217.0 224.6 215.5 226.4 215.9 227.7 216.7 229.4 217.7 232.2 217.5 233.8 217.4 235.4 219.3 235.2 221.0 233.9 221.9 M214.2 220.6 214.6 219.3 213.1 219.0 214.2 218.2 214.4 217.3 214.7 216.5 215.5 215.5 215.9 216.1 216.7 216.8 217.2 215.6 218.5 215.5 220.2 215.2 M214.2 220.6 212.8 218.5 209.4 219.4 207.9 222.0 211.4 222.7 210.2 221.2 213.1 220.9 214.7 219.8 216.5 220.0 219.2 222.0 221.4 220.8 224.0 220.5 225.7 219.8 228.3 217.7 229.7 215.4 232.3 216.0 231.9 219.2 M214.2 220.6 215.6 220.6 216.1 218.7 217.2 217.9 219.0 219.1 219.4 220.1 221.4 220.2 221.9 218.2 222.9 217.5 223.7 216.7 224.0 214.8 224.0 212.7 224.5 211.6 M214.2 220.6 214.6 219.8 215.2 219.6 215.8 219.2 216.3 218.3 216.4 217.8 216.8 218.4 217.1 217.6 217.4 216.7 217.0 215.7 218.0 215.6 218.4 214.9 218.6 214.2 219.0 213.8 M214.2 220.6 213.7 220.6 213.0 220.4 213.5 219.7 213.9 219.4 214.6 219.5 214.1 219.0 214.2 218.4 214.0 217.5 214.4 217.1 214.2 216.7 215.0 216.4 M214.2 220.6 216.0 224.4 216.8 228.3 220.9 229.7 225.1 231.7 229.4 232.3 231.7 232.9 234.1 233.2 235.3 236.2 238.6 239.1 239.6 236.6 240.3 234.7 240.0 232.3 240.3 234.5 M214.2 220.6 213.9 218.6 214.7 216.4 215.0 214.9 213.5 213.0 211.1 213.3 211.0 211.1 211.1 209.0 210.4 207.7 211.0 205.2 212.9 203.4 214.9 204.6 M214.2 220.6 214.9 222.4 217.0 223.0 217.9 220.9 219.7 220.6 220.5 219.1 222.0 218.3 223.3 216.9 223.9 215.7 225.0 216.4 224.8 218.3 224.9 219.7 223.3 218.8 222.0 219.5 M214.2 220.6 214.3 222.2 213.7 224.1 213.6 226.3 212.2 226.5 212.1 228.3 213.4 229.7 215.1 230.5 215.8 229.5 215.5 227.6 215.6 226.0 215.3 223.9 214.7 222.4 214.8 221.4 216.1 220.4 216.6 218.2 217.0 216.8 216.2 214.9 M214.2 220.6 216.9 219.0 217.4 216.2 217.7 214.1 217.0 211.8 216.3 209.5 217.3 208.0 219.0 206.2 217.6 204.1 215.2 204.8 215.2 207.1 214.5 209.2 213.2 210.2 211.5 209.4 209.5 211.8 208.9 214.8 M214.2 220.6 213.9 219.6 212.6 220.2 211.7 221.4 211.4 222.5 210.1 223.5 210.8 224.3 211.5 225.1 212.1 227.1 212.5 228.1 211.9 229.6 M214.2 220.6 214.0 220.4 214.0 220.0 213.7 219.7 213.5 219.4 213.0 219.3 212.8 219.0 212.5 219.0 212.3 219.4 212.2 219.7 212.5 220.1 212.8 219.6 212.4 219.9 211.8 220.0 M214.2 220.6 214.6 219.0 214.2 217.2 215.1 216.5 214.8 215.2 213.4 214.3 211.9 214.4 211.2 215.0 211.4 216.0 210.1 216.8 208.8 215.9 209.5 214.8 211.0 213.6 212.5 212.9 M214.2 220.6 212.5 220.2 211.4 219.3 212.4 218.8 213.3 217.8 212.0 218.6 210.7 218.3 209.5 218.9 208.3 220.2 207.8 220.9 206.6 222.3 206.5 223.7 206.8 224.6 207.8 225.6 208.6 226.8 209.3 226.2 210.5 225.2 209.8 224.2 M214.2 220.6 215.2 217.3 214.1 214.1 212.7 213.4 210.1 213.8 207.7 215.4 204.8 214.3 203.0 213.7 201.5 212.9 203.1 210.9 205.0 208.1 208.4 208.7 211.0 209.2 212.9 207.1 214.9 205.7 M214.2 220.6 215.5 220.6 216.8 220.9 218.0 221.8 219.3 220.7 220.5 219.5 221.2 218.5 221.4 216.9 222.4 214.5 222.3 212.3 220.5 212.2 M214.2 220.6 214.9 218.8 217.7 216.9 220.5 217.4 220.6 218.9 219.2 218.1 217.1 217.3 214.8 217.5 214.5 216.0 211.9 216.1 209.5 214.0 206.9 215.2 205.6 216.5 206.3 218.8 206.2 221.5 203.5 220.4 M214.2 220.6 211.8 210.0 215.3 204.4 223.1 199.8 228.9 197.9 234.3 192.5 235.9 199.6 232.0 205.9 234.1 211.9 239.7 218.8 233.1 230.7 232.5 238.7 227.4 242.4 214.8 238.4 M214.2 220.6 214.8 224.4 213.0 226.0 211.4 224.9 208.0 226.4 206.2 226.4 202.9 226.1 201.1 224.8 198.7 225.5 196.7 225.2 197.3 223.1 196.9 220.9 193.3 219.1 194.0 215.3 196.8 212.3 195.7 208.2 M214.2 220.6 217.1 220.8 219.5 221.4 218.2 223.1 218.9 225.1 219.3 228.2 220.5 231.0 219.2 232.1 217.3 232.0 216.0 234.0 215.6 235.5 213.4 237.4 213.1 235.7 215.9 233.9 218.6 232.0 M214.2 220.6 215.0 223.9 214.1 227.1 214.3 229.2 214.7 232.1 214.6 235.0 216.7 233.7 219.4 231.8 218.2 230.2 217.4 228.3 216.8 226.6 215.3 225.2 213.0 223.2 209.7 223.9 207.7 222.1 M214.2 220.6 215.0 221.8 217.0 221.5 218.1 223.2 218.9 224.7 219.6 226.5 218.3 226.9 216.8 225.4 215.8 224.8 214.1 223.6 213.0 224.0 214.7 224.4 216.0 225.0 216.9 224.3 218.0 224.3 219.0 225.4 M214.2 220.6 212.8 220.0 212.4 221.5 212.9 222.5 211.8 224.1 210.5 224.9 209.1 224.7 208.3 225.2 206.5 225.1 204.8 225.0 204.9 223.5 203.9 222.9 202.6 223.1 M214.2 220.6 212.5 220.9 211.0 220.5 209.8 220.6 209.3 222.0 210.8 223.7 212.1 224.0 212.6 221.7 212.1 219.3 210.3 219.6 208.4 221.3 208.7 223.0 207.9 224.5 207.1 226.6 208.0 228.2 208.6 229.5 207.9 231.4 M214.2 220.6 211.9 224.6 208.8 224.1 208.8 228.5 208.7 231.8 211.2 232.4 213.4 233.9 217.8 235.2 219.2 237.6 222.7 238.1 225.1 235.4 223.2 233.0 220.7 232.2 217.4 231.3 214.8 235.1 215.6 239.2 217.4 242.3 216.5 245.4 M214.2 220.6 226.3 225.7 229.5 240.5 223.1 252.2 214.2 241.3 221.7 231.0 233.8 229.2 229.0 214.8 227.1 202.1 216.2 202.3 208.6 191.5 198.5 196.6 M214.2 220.6 215.0 221.2 216.2 221.1 216.8 221.2 217.9 221.1 218.3 220.5 218.6 220.0 219.3 220.3 220.3 220.4 221.0 220.0 221.6 219.7 M214.2 220.6 215.2 221.6 214.5 220.3 212.8 220.0 210.9 219.3 210.3 221.1 210.4 223.2 211.8 223.5 213.3 225.2 214.0 227.8 215.3 228.9 215.5 230.7 215.6 233.0 216.4 234.7 216.8 237.1 216.3 238.7 217.8 240.3 M214.2 220.6 213.0 220.6 212.1 220.4 212.2 219.8 211.6 218.8 211.4 219.6 210.3 219.8 209.2 219.8 208.4 219.2 208.5 218.0 208.8 216.8 209.0 215.5 209.2 214.9 209.7 214.0 209.2 213.5 208.0 212.9 207.7 212.2 M214.2 220.6 212.2 221.0 210.8 220.9 208.2 222.2 207.9 224.1 206.2 224.2 204.5 226.4 202.6 227.4 202.7 230.2 201.5 229.0 201.0 226.9 200.2 225.6 199.3 224.5 199.2 226.4 197.6 227.6 197.4 225.3 194.9 225.8 195.4 224.2 196.4 221.5 M214.2 220.6 218.8 220.6 221.2 220.3 224.0 220.9 223.6 223.3 222.4 225.7 225.2 228.9 226.0 231.0 230.4 230.5 233.1 230.5 234.3 233.3 236.0 237.3 236.2 240.5 234.8 242.7 M214.2 220.6 213.0 221.1 213.1 222.5 213.1 223.8 212.0 224.1 211.2 224.6 210.1 225.0 210.8 225.9 211.7 226.2 211.7 225.1 212.8 225.6 213.8 225.2 M214.2 220.6 211.9 220.9 212.8 219.6 212.5 217.8 214.1 216.4 216.5 215.2 218.4 216.8 217.8 219.2 215.2 219.1 213.2 217.8 212.3 216.8 213.4 214.2 212.6 211.6 210.1 212.5 208.5 213.8 206.4 216.0 207.5 215.2 209.9 215.7 211.9 215.3 M214.2 220.6 212.8 223.3 211.5 224.7 209.0 225.0 208.5 227.4 207.2 230.9 207.9 232.8 206.3 234.9 204.2 237.8 201.2 240.1 198.1 240.0 M214.2 220.6 213.9 222.1 212.5 222.9 211.7 223.0 211.3 221.6 212.2 220.3 211.3 219.0 211.1 218.0 210.8 217.3 210.7 216.1 210.6 215.0 209.1 215.0 208.4 215.3 207.1 215.4 206.2 214.8 205.4 214.7 204.1 215.0 203.4 214.5 M214.2 220.6 214.8 222.2 214.7 224.3 215.8 225.9 216.5 226.8 215.5 227.6 213.8 227.0 212.6 225.3 211.1 224.7 211.0 223.2 212.3 222.0 213.7 223.5 M214.2 220.6 214.4 221.4 214.8 222.2 216.2 221.4 217.7 221.0 217.1 222.1 218.3 223.3 218.2 224.2 217.8 225.4 219.1 226.4 220.4 225.9 221.5 225.4 222.8 226.4 222.9 227.7 222.1 228.6 220.6 229.0 M214.2 220.6 212.5 218.8 209.2 215.3 213.7 212.8 217.7 215.2 221.0 216.9 221.4 219.8 221.3 222.7 222.5 227.5 225.2 231.2 222.4 234.4 224.6 237.4 229.3 239.8 230.6 237.4 228.0 235.2 225.5 231.9 222.3 233.2 M214.2 220.6 214.5 220.0 214.3 219.1 213.8 218.6 213.3 218.6 212.8 218.1 212.5 217.5 211.7 217.4 211.6 216.4 211.0 216.1 210.5 216.9 M214.2 220.6 214.5 219.9 213.8 220.6 213.2 220.4 212.5 220.3 211.7 220.9 211.9 221.5 212.0 220.3 211.6 219.4 212.2 218.9 212.5 218.3 212.5 217.5 M214.2 220.6 215.7 220.1 216.7 220.2 215.9 220.6 215.8 221.6 217.0 222.3 217.9 220.9 218.7 220.5 218.7 219.2 219.1 217.9 219.3 216.8 219.1 215.9 M214.2 220.6 212.7 220.2 209.3 219.7 210.5 216.7 212.4 215.7 214.1 213.9 216.2 214.0 218.8 213.1 219.6 211.5 221.5 211.9 223.2 212.0 224.8 210.8 223.9 208.8 225.6 207.6 225.6 209.8 227.3 210.4 229.4 211.6 228.7 213.5 227.2 216.2 M214.2 220.6 213.6 221.3 212.5 221.1 211.3 221.2 210.6 220.7 209.7 221.3 208.4 220.9 207.1 220.3 206.0 220.6 204.9 220.9 203.6 221.2 202.9 222.2 201.5 221.9 201.4 220.8 200.9 220.3 200.1 219.2 200.7 218.5 201.7 217.6 202.4 216.9 M214.2 220.6 215.8 220.3 218.2 220.1 220.3 221.4 222.1 222.1 224.1 221.3 223.5 218.5 225.2 218.0 223.1 216.3 220.8 216.2 219.4 216.3 219.4 214.9 218.5 213.9 215.8 212.9 215.0 214.7 212.2 214.8 213.3 216.5 215.3 216.9 216.6 219.6 M214.2 220.6 213.7 220.2 213.8 220.6 213.7 221.2 213.0 221.0 212.7 221.3 213.0 221.9 213.1 222.2 213.2 222.7 213.0 223.0 213.1 223.7 213.3 224.3 213.5 225.0 213.8 225.3 M214.2 220.6 211.5 220.4 210.5 219.3 210.2 220.8 210.0 222.4 208.2 223.4 206.5 225.4 205.2 225.9 204.3 228.1 206.5 227.0 207.3 228.3 208.8 230.1 207.2 231.1 207.5 232.5 208.5 233.8 211.0 232.5 212.4 230.7 213.7 229.3 214.8 230.3 M214.2 220.6 213.1 219.5 213.7 218.9 214.6 218.5 215.0 217.4 213.6 216.5 212.4 215.3 210.8 214.9 210.3 213.5 209.9 212.0 209.8 211.2 208.5 211.5 207.2 210.9 205.8 211.6 M214.2 220.6 210.7 223.6 212.0 227.4 214.8 225.3 217.0 226.7 219.6 228.4 219.6 232.0 224.1 232.8 227.6 234.5 233.4 234.0 236.9 230.0 241.4 227.1 245.1 230.7 239.8 228.9 235.0 227.0 231.7 228.8 231.8 231.7 M214.2 220.6 212.4 220.2 209.9 219.9 209.2 218.2 208.4 216.2 206.3 215.5 204.3 214.9 203.5 216.1 203.8 218.6 203.6 220.0 202.8 220.9 202.9 222.9 202.0 224.3 202.3 226.7 M214.2 220.6 211.6 220.7 209.3 219.0 207.7 221.9 209.8 224.0 211.5 226.0 212.4 229.3 214.1 231.1 212.1 230.4 210.1 228.1 210.7 224.3 M214.2 220.6 212.6 221.0 211.2 220.9 210.9 222.2 212.6 223.3 212.9 224.9 214.4 224.3 215.1 223.7 216.9 223.4 217.9 223.8 219.5 224.7 221.5 224.7 222.6 225.8 224.2 225.2 225.0 223.7 226.5 223.5 228.5 223.1 229.4 222.6 M214.2 220.6 213.8 222.4 214.2 225.4 215.7 227.7 216.2 229.8 216.5 231.4 215.4 234.2 213.0 234.4 210.8 236.3 208.9 238.2 207.1 236.8 205.5 234.6 204.9 232.6 203.7 230.2 204.1 228.7 205.3 227.9 208.0 227.9 211.3 227.7 213.0 228.7 M214.2 220.6 211.4 222.1 211.7 224.2 211.3 226.7 208.1 226.9 205.1 225.4 201.7 225.1 201.8 222.5 199.2 220.1 199.3 215.7 201.3 214.8 203.5 211.0 203.4 206.4 200.1 203.5 198.2 199.9 M214.2 220.6 216.1 218.1 217.8 218.1 220.0 219.7 219.3 221.0 218.4 222.6 215.3 222.2 214.2 221.2 212.6 222.1 210.8 223.4 208.5 223.9 M214.2 220.6 214.6 220.7 215.1 221.0 215.3 221.4 214.9 221.9 214.9 222.3 214.8 222.7 214.4 222.4 214.4 221.9 214.7 221.9 215.2 222.0 215.3 222.3 215.8 222.1 216.2 222.2 216.5 222.4 216.8 222.6 M214.2 220.6 213.1 218.1 214.2 215.7 214.3 211.5 216.0 209.5 213.2 206.3 209.5 204.1 206.4 205.0 207.1 208.5 206.6 211.7 204.6 213.5 204.0 210.7 201.3 209.0 200.6 205.3 198.9 204.1 M214.2 220.6 214.8 220.3 214.9 220.8 214.4 220.4 214.5 219.9 213.9 219.5 213.7 219.0 213.8 218.5 213.7 217.5 214.2 217.3 214.7 217.6 215.3 218.1 216.0 217.9 215.4 217.3 215.0 216.9 214.9 216.2 M214.2 220.6 213.4 221.8 212.4 222.3 211.2 222.5 210.4 220.6 209.7 219.7 209.0 218.5 208.2 216.4 209.8 216.6 210.0 215.6 208.4 215.9 207.4 216.4 207.2 217.5 M214.2 220.6 215.4 220.6 216.4 220.8 216.8 222.3 216.8 223.6 218.9 222.8 219.8 221.9 221.0 223.2 220.4 224.1 219.8 222.1 221.9 221.6 223.0 221.6 224.3 222.3 225.4 223.4 223.5 223.6 222.3 223.5 M214.2 220.6 213.7 218.7 215.6 218.0 217.6 216.7 218.7 213.4 221.3 214.0 222.6 215.5 221.8 217.3 224.1 218.5 223.8 219.9 226.0 221.3 228.1 221.2 M214.2 220.6 216.3 215.2 221.3 218.7 224.3 222.2 221.5 228.4 227.0 227.5 233.7 227.5 240.2 228.0 243.0 234.3 242.0 238.2 238.1 237.7 233.7 238.1 229.1 238.0 M214.2 220.6 209.4 221.5 211.2 217.8 207.8 217.1 203.6 215.0 202.1 213.3 203.5 211.3 203.8 208.0 205.2 205.6 209.8 203.5 213.2 201.7 M214.2 220.6 218.3 220.8 220.1 218.7 217.7 216.8 214.3 215.6 216.2 219.1 214.6 220.8 211.6 220.7 208.0 222.3 206.8 224.9 207.8 229.1 205.5 232.7 M214.2 220.6 213.7 219.0 215.5 218.9 217.1 219.2 218.8 220.3 220.1 218.6 219.8 216.6 219.6 215.4 219.7 213.1 219.5 210.8 218.2 210.2 216.9 209.5 217.2 208.4 218.5 208.2 217.4 206.9 216.4 205.7 M214.2 220.6 216.5 222.4 216.1 225.4 218.8 224.5 220.8 222.6 221.8 217.8 220.9 214.7 219.5 211.5 219.8 208.3 219.4 205.8 215.3 205.4 211.7 205.7 M214.2 220.6 214.3 221.2 213.4 221.3 213.0 222.0 212.7 222.6 212.5 223.4 211.7 223.4 211.1 223.9 211.2 224.5 211.8 225.0 212.2 225.3 212.8 225.5 213.8 225.6 214.3 226.1 215.2 226.0 215.7 225.8 215.7 226.7 M214.2 220.6 212.4 222.5 210.5 225.0 208.8 227.2 206.3 226.8 203.2 226.6 203.9 224.4 205.7 226.6 208.7 226.8 210.4 226.9 210.7 225.2 210.9 223.1 211.7 221.2 210.4 220.2 207.8 218.5 209.4 215.9 211.2 214.5 212.5 213.8 214.0 211.6 M214.2 220.6 212.7 221.1 210.7 220.5 208.8 220.2 208.8 219.2 208.6 218.2 210.3 217.3 210.8 215.8 211.0 214.8 210.7 213.7 209.8 215.0 M214.2 220.6 214.6 221.4 213.8 222.6 212.8 221.6 213.2 220.9 214.6 220.2 215.2 219.6 216.5 218.6 217.2 218.2 217.4 216.7 218.5 216.7 219.6 216.0 221.2 216.1 221.6 217.3 221.9 218.2 221.7 219.0 220.8 220.2 219.6 221.5 M214.2 220.6 214.1 221.6 213.8 222.8 212.8 222.9 211.9 223.5 212.4 222.6 213.8 223.0 214.5 222.2 214.1 220.8 213.4 220.1 213.0 219.3 M214.2 220.6 212.3 219.2 210.3 220.4 209.4 222.2 207.0 223.1 204.1 223.2 202.2 224.7 201.2 222.4 202.1 221.2 200.1 219.8 199.9 217.2 199.8 214.2 198.2 212.6 196.5 212.9 194.4 212.2 193.5 209.5 194.0 208.1 195.4 206.7 M214.2 220.6 209.8 218.0 208.7 214.2 208.4 210.2 204.4 207.2 207.1 206.2 205.4 204.2 208.1 201.8 212.7 204.0 215.8 203.2 218.0 199.5 215.5 197.2 M214.2 220.6 210.8 218.7 209.0 222.5 210.9 223.7 214.1 224.7 216.5 227.4 219.1 230.5 218.3 234.8 216.0 235.7 212.6 238.5 215.5 241.4 217.7 241.9 M214.2 220.6 211.5 218.6 207.9 216.9 204.0 219.9 204.7 223.5 204.5 227.6 202.4 229.8 200.7 228.2 200.4 225.7 201.0 221.1 200.8 218.9 198.1 216.3 197.1 213.6 197.0 209.6 198.6 204.8 198.3 202.1 201.3 203.9 M214.2 220.6 213.4 219.3 212.8 218.1 211.4 218.1 209.8 216.6 208.8 215.8 209.1 214.0 207.7 212.5 206.9 211.6 205.9 209.6 206.8 208.5 207.9 206.9 209.0 205.0 209.8 202.8 M214.2 220.6 218.9 220.1 224.5 216.3 232.8 216.9 236.9 221.7 240.2 227.5 244.9 228.0 241.6 234.5 235.1 241.0 228.8 243.9 229.4 250.3 227.5 246.3 M214.2 220.6 213.0 220.6 211.2 220.2 209.9 220.3 208.3 220.9 207.7 222.1 208.6 222.7 209.9 222.0 210.7 221.1 210.4 219.9 209.6 218.2 208.7 218.3 M214.2 220.6 214.0 221.2 215.1 220.8 215.6 220.5 215.7 221.1 216.1 221.8 216.2 222.5 215.6 223.7 215.0 224.3 215.8 224.5 215.5 225.4 214.8 226.2 213.7 226.2 214.3 225.9 M214.2 220.6 216.1 223.9 217.9 224.8 215.7 227.5 213.4 230.3 214.9 232.4 216.8 233.8 218.8 231.3 219.7 228.2 220.2 226.4 219.2 224.9 217.3 222.2 214.3 222.5 212.6 219.5 209.8 217.9 206.8 216.7 M214.2 220.6 214.3 222.2 215.0 223.3 216.5 223.6 217.8 222.8 218.9 222.7 220.5 223.0 221.3 222.9 220.9 221.2 222.1 221.0 222.8 220.3 223.4 218.9 222.7 218.2 221.6 218.6 220.3 218.9 219.1 219.0 217.8 219.1 M214.2 220.6 214.8 221.6 215.5 222.0 215.8 222.7 216.7 222.6 217.8 221.3 218.4 220.6 219.2 220.7 220.1 220.5 220.8 219.5 220.3 218.9 220.4 217.6 221.2 217.2 M214.2 220.6 213.9 223.9 209.5 223.9 203.9 222.8 198.3 220.7 195.1 224.1 195.8 227.5 198.5 229.6 201.3 229.7 206.0 229.2 209.7 230.2 212.4 231.8 M214.2 220.6 217.4 224.5 217.6 228.0 220.6 230.3 219.6 232.6 218.9 237.1 222.9 236.0 221.7 234.1 217.0 233.4 214.1 232.6 211.4 231.8 206.1 232.0 205.8 235.9 205.7 240.7 205.4 244.1 203.6 247.8 200.4 247.8 199.9 242.4 204.1 243.9 M214.2 220.6 211.0 219.6 208.2 221.4 209.4 225.0 209.8 227.4 208.1 231.4 208.4 235.3 206.6 231.3 204.9 227.2 202.5 227.0 199.9 228.8 200.0 231.1 198.0 234.4 198.2 236.5 195.3 237.0 198.6 239.5 201.9 238.4 M214.2 220.6 213.1 218.4 212.6 216.2 211.3 214.7 208.7 212.9 207.3 211.9 207.0 213.7 207.5 216.4 210.4 217.8 209.7 215.6 208.1 213.1 208.5 210.4 205.7 209.3 M214.2 220.6 210.8 221.6 210.6 224.0 213.3 224.4 214.8 225.4 213.3 228.5 212.0 226.7 210.1 226.7 209.1 229.1 210.8 227.9 213.3 229.8 216.1 231.3 218.7 232.4 216.3 235.4 217.0 237.0 215.6 235.3 M214.2 220.6 214.5 219.8 214.1 218.7 213.0 218.4 212.9 217.7 213.2 216.6 214.0 215.8 213.7 215.1 213.1 214.1 212.6 214.9 212.5 215.8 212.5 216.8 213.0 217.7"/></defs>
<g filter="url(#blur3)" opacity="0.45"><use href="#tr5" fill="none" stroke="#c4c4c4" stroke-width="6" stroke-linejoin="round"/></g>
<use href="#tr5" fill="none" stroke="#2a2a2a" stroke-width="0.32" stroke-opacity="0.5" stroke-linejoin="round"/>
<circle cx="214.2" cy="220.6" r="7.3" fill="url(#core)" opacity="0.7"/>
<circle cx="214.2" cy="220.6" r="17.3" fill="none" stroke="#2a2a2a" stroke-opacity="0.55" stroke-width="0.4"/>
<line x1="214.20" y1="173.90" x2="214.20" y2="267.80" stroke="#9c9c9c" stroke-width="0.8" />
<line x1="166.90" y1="220.60" x2="258.80" y2="220.60" stroke="#9c9c9c" stroke-width="0.8" />
<line x1="212.60" y1="174.20" x2="214.20" y2="174.20" stroke="#9c9c9c" stroke-width="0.7" />
<line x1="212.60" y1="267.50" x2="214.20" y2="267.50" stroke="#9c9c9c" stroke-width="0.7" />
<line x1="167.20" y1="220.60" x2="167.20" y2="222.00" stroke="#9c9c9c" stroke-width="0.7" />
<line x1="258.50" y1="220.60" x2="258.50" y2="222.00" stroke="#9c9c9c" stroke-width="0.7" />
<text x="211.50" y="176.60" font-size="7.0" text-anchor="end" textLength="10.70" lengthAdjust="spacingAndGlyphs" >200</text>
<text x="211.60" y="269.80" font-size="7.0" text-anchor="end" textLength="13.90" lengthAdjust="spacingAndGlyphs" >−200</text>
<text x="173.90" y="229.30" font-size="7.0" text-anchor="end" textLength="14.30" lengthAdjust="spacingAndGlyphs" >−200</text>
<text x="265.60" y="229.30" font-size="7.0" text-anchor="end" textLength="11.10" lengthAdjust="spacingAndGlyphs" >200</text>
<text x="166.40" y="184.50" font-size="8.6" textLength="13.70" lengthAdjust="spacingAndGlyphs" >WT</text>
<text x="237.8" y="253.8" font-size="4.9" textLength="26.3" lengthAdjust="spacingAndGlyphs"><tspan font-style="italic">t</tspan> = 10 min</text>
<text x="237.8" y="260.2" font-size="4.9" textLength="24.7" lengthAdjust="spacingAndGlyphs"><tspan font-style="italic">r</tspan> = 74 µm</text>
<ellipse cx="334" cy="222" rx="45" ry="41" fill="url(#haze)"/>
<defs><path id="tr9" d="M332.2 220.8 330.5 220.5 328.3 221.9 327.2 224.0 326.6 222.3 325.4 221.8 326.5 221.1 324.1 220.3 323.2 219.1 321.0 217.7 320.8 216.0 M332.2 220.8 332.2 219.2 331.9 218.1 332.2 216.2 332.0 214.3 331.9 213.1 332.0 212.0 330.6 213.0 328.9 214.1 328.1 215.9 327.9 217.0 M332.2 220.8 331.6 218.6 333.1 215.4 333.7 212.5 331.6 211.8 328.2 214.2 328.1 218.7 327.5 220.7 328.0 223.1 326.1 225.2 324.5 228.9 M332.2 220.8 330.6 220.5 328.8 220.1 328.1 218.4 327.1 216.9 327.6 215.4 330.1 216.6 328.0 216.4 327.1 217.4 328.2 220.0 327.5 221.3 326.0 222.8 324.8 223.3 323.8 224.8 325.0 225.6 326.4 227.1 326.8 225.9 M332.2 220.8 334.1 222.7 335.9 221.6 338.0 220.9 340.2 220.1 342.4 220.2 344.5 219.3 346.6 221.0 347.3 222.5 348.1 223.6 345.7 224.2 344.6 223.5 342.0 224.5 339.9 224.8 M332.2 220.8 330.6 218.7 330.3 216.5 332.6 215.4 335.4 213.3 338.1 211.0 341.5 213.1 345.1 213.8 348.6 213.0 350.7 213.8 348.7 217.3 345.8 215.5 342.8 216.7 340.8 217.9 336.9 218.6 335.6 217.2 335.5 213.4 M332.2 220.8 332.9 222.5 334.9 224.1 338.3 226.3 341.3 228.6 343.6 227.8 347.4 228.1 349.7 227.4 353.6 226.9 354.9 225.6 357.4 225.1 M332.2 220.8 331.3 221.0 331.3 222.4 332.0 222.8 333.0 223.3 334.1 224.1 334.3 224.8 335.2 224.9 336.5 225.4 337.2 225.6 336.8 227.0 335.8 227.2 M332.2 220.8 329.9 215.1 333.6 210.9 333.9 207.5 331.6 204.6 336.9 203.2 340.6 203.8 345.0 204.4 349.9 206.2 351.7 208.5 356.4 209.1 358.2 214.3 361.3 215.3 360.5 219.8 360.4 224.6 360.6 230.1 M332.2 220.8 331.2 220.3 330.5 219.8 329.8 218.4 329.3 217.4 329.7 216.8 330.1 215.2 331.2 214.4 332.0 215.1 332.8 215.5 332.3 216.3 331.0 216.5 330.2 215.4 329.2 216.4 329.9 217.8 329.0 219.0 327.9 219.3 326.5 219.8 M332.2 220.8 331.4 220.2 331.4 219.5 331.1 218.7 330.3 218.3 331.1 217.4 331.5 216.6 333.0 215.9 333.9 214.5 333.8 213.7 333.8 213.0 334.1 211.6 333.4 211.3 332.0 211.6 331.4 210.5 M332.2 220.8 328.9 221.2 327.3 222.5 326.1 224.9 322.7 225.2 322.6 221.0 325.1 220.2 328.5 217.4 332.3 215.0 332.0 211.3 330.0 211.2 331.0 215.6 326.6 216.8 324.9 215.7 M332.2 220.8 329.5 220.7 326.0 219.9 325.4 217.7 326.2 215.2 326.2 212.0 328.1 210.1 331.3 211.4 334.0 212.0 337.0 213.3 339.4 213.4 340.1 216.3 337.5 215.5 334.8 216.1 M332.2 220.8 330.4 219.9 328.6 221.0 327.9 224.2 324.5 223.9 323.0 222.4 324.2 220.6 325.9 219.6 323.5 218.7 322.9 216.3 323.1 214.4 320.8 211.8 M332.2 220.8 328.8 217.2 326.0 215.2 321.8 212.7 320.1 210.7 323.3 206.7 326.9 206.9 330.9 204.1 326.7 204.5 323.5 205.3 321.9 208.2 320.8 210.4 M332.2 220.8 332.9 222.5 333.0 224.7 332.7 226.0 331.0 225.2 331.5 222.9 331.9 221.0 332.1 219.4 332.2 217.9 331.9 216.1 333.0 214.2 332.1 213.8 330.3 214.3 329.5 216.1 327.9 217.1 326.2 217.6 324.5 217.4 323.0 216.4 M332.2 220.8 333.3 223.2 335.2 221.1 336.3 219.6 337.9 219.0 339.0 219.8 341.1 221.7 340.1 223.0 337.8 223.9 339.5 224.2 339.9 225.8 340.6 228.6 340.5 230.9 342.5 232.0 M332.2 220.8 335.0 218.4 339.5 216.6 343.3 214.4 344.5 217.8 348.3 219.0 352.0 213.9 348.7 206.8 347.7 200.9 344.8 198.8 341.9 196.0 341.7 191.8 343.7 188.6 M332.2 220.8 331.4 221.6 330.8 222.5 330.1 222.5 329.5 222.1 329.0 222.3 328.6 221.5 328.6 220.3 327.8 219.5 327.5 218.6 327.2 218.1 326.5 218.0 325.7 218.2 326.0 217.7 325.7 217.2 325.8 216.4 325.5 215.8 325.2 215.1 324.3 215.4 M332.2 220.8 331.0 219.8 328.7 220.4 327.7 221.0 328.2 222.9 327.1 225.0 325.9 223.6 327.0 223.2 326.8 221.7 327.0 219.7 328.0 218.5 328.8 217.7 329.7 215.6 330.3 214.5 330.1 213.1 330.7 212.1 M332.2 220.8 333.2 219.9 335.0 219.1 336.2 219.2 337.6 218.6 339.2 217.7 340.4 218.0 341.9 218.4 344.2 218.2 345.6 218.7 347.6 219.2 M332.2 220.8 332.5 217.8 333.9 215.8 334.1 213.1 334.1 210.6 333.2 208.2 332.6 206.8 330.2 204.6 328.1 203.1 325.6 202.3 322.9 203.1 322.6 204.6 324.1 204.8 326.0 206.2 326.3 207.7 325.7 210.7 325.7 213.5 326.6 214.6 M332.2 220.8 333.0 219.3 334.6 219.1 332.9 218.3 331.7 216.4 329.4 214.5 326.9 212.9 325.2 213.5 322.3 213.2 320.8 214.2 318.9 217.0 316.5 218.0 318.0 219.8 M332.2 220.8 332.9 221.9 334.4 221.7 335.0 223.1 335.6 225.2 335.5 227.1 335.6 229.0 337.8 229.1 337.7 230.7 337.9 232.0 340.2 231.8 342.3 233.2 342.2 235.8 341.3 236.4 M332.2 220.8 326.4 219.4 321.2 213.3 322.7 208.9 329.1 210.3 328.2 217.8 325.9 221.1 323.2 228.2 319.8 235.5 314.8 239.7 314.2 243.2 309.9 249.6 307.5 253.5 303.4 253.3 M332.2 220.8 333.6 221.1 335.5 221.4 336.3 220.1 336.5 219.0 336.0 220.4 334.3 219.6 334.5 218.2 335.0 217.1 336.4 216.8 338.0 217.4 339.3 218.0 339.6 217.0 341.1 217.9 341.3 216.4 342.2 216.5 M332.2 220.8 330.2 222.1 327.3 221.5 326.4 222.7 328.9 223.1 329.4 224.6 329.4 226.9 326.8 227.6 325.9 228.7 324.1 228.5 323.1 226.8 322.7 224.7 324.7 225.9 327.0 225.0 325.6 223.6 326.3 222.3 327.4 220.5 M332.2 220.8 331.6 221.3 331.0 221.7 330.4 221.5 330.2 222.2 329.8 223.1 329.3 224.0 329.1 224.8 328.9 225.4 329.6 226.0 330.1 225.6 330.6 225.8 331.4 226.2 331.1 226.7 331.8 227.0 332.6 227.3 332.2 228.0 332.7 228.7 333.2 229.2 M332.2 220.8 331.3 219.3 329.6 218.5 329.0 216.0 329.7 214.1 331.2 214.6 332.0 215.4 332.4 216.5 333.4 215.8 335.8 214.8 337.2 216.9 M332.2 220.8 332.4 224.5 332.7 228.0 334.6 229.3 332.3 232.4 331.8 235.1 332.1 236.9 332.5 239.3 333.9 242.2 333.5 244.8 332.9 248.3 331.1 251.0 M332.2 220.8 334.4 223.0 338.4 223.2 341.8 221.4 344.9 220.6 345.2 216.6 342.9 216.5 340.6 219.9 339.6 221.5 340.4 224.2 341.4 228.4 343.7 225.6 346.5 226.9 M332.2 220.8 328.8 227.4 339.2 229.2 352.3 226.0 364.5 230.4 360.1 240.3 345.7 245.2 337.0 234.6 328.0 230.7 314.5 231.5 304.4 232.4 298.1 236.6 295.6 228.6 M332.2 220.8 332.1 223.6 332.8 226.0 329.9 227.9 327.8 231.6 325.0 234.1 327.3 235.3 329.6 233.6 327.6 230.4 325.0 227.6 322.2 224.4 M332.2 220.8 333.8 221.3 334.8 222.4 336.4 223.7 337.3 224.8 339.1 225.2 338.7 227.2 336.7 226.6 335.0 227.0 335.2 224.2 332.8 223.9 330.9 223.6 330.7 226.1 331.5 228.0 M332.2 220.8 334.2 222.3 337.3 223.7 339.4 222.3 342.7 222.6 344.6 222.5 346.7 221.8 348.3 224.6 344.7 224.7 342.2 227.1 342.7 229.4 341.2 230.9 339.9 233.3 340.5 236.0 341.8 239.0 340.3 240.4 342.8 240.9 345.4 242.9 M332.2 220.8 331.6 218.1 329.3 218.2 326.6 215.8 322.7 215.1 318.1 215.3 316.2 219.7 315.8 222.9 318.7 223.7 321.3 226.0 324.1 226.7 326.6 230.3 M332.2 220.8 331.5 220.1 330.9 218.4 329.7 218.8 328.4 219.3 328.6 220.2 328.7 221.6 327.8 222.6 329.3 223.2 330.4 222.2 331.6 222.6 333.6 222.1 334.7 223.6 335.7 224.8 337.5 224.3 337.0 226.1 336.5 227.2 335.1 227.3 M332.2 220.8 331.7 221.2 331.1 221.0 331.0 220.1 330.1 219.3 330.2 218.4 329.2 218.2 328.7 217.4 327.6 217.0 327.1 216.5 326.4 216.1 325.6 216.7 325.9 217.2 M332.2 220.8 333.7 223.2 336.7 224.6 338.5 227.3 338.9 230.1 340.4 231.3 342.2 230.1 345.0 231.0 346.7 229.9 348.6 231.5 349.2 234.2 349.6 237.7 M332.2 220.8 333.4 221.2 334.4 221.9 334.7 223.1 334.5 224.0 334.5 225.1 334.4 226.4 335.2 226.2 335.6 225.0 334.4 224.5 333.7 225.4 332.4 225.2 M332.2 220.8 332.4 224.8 334.7 224.1 338.0 224.2 335.6 223.6 332.7 223.1 334.5 224.1 336.7 225.5 339.6 224.8 339.2 228.9 343.2 227.7 343.8 225.2 343.6 223.1 M332.2 220.8 329.8 220.7 328.7 219.0 327.1 216.5 327.7 215.0 329.6 217.6 331.5 217.4 333.4 215.9 336.4 216.0 338.0 214.9 340.2 217.3 342.6 216.6 344.3 214.3 346.5 214.2 349.6 215.1 351.4 215.0 M332.2 220.8 326.9 219.1 322.3 217.0 318.3 215.6 313.4 214.8 308.0 213.9 309.0 209.8 312.6 206.6 311.8 201.0 309.5 197.8 308.3 192.9 306.7 189.5 M332.2 220.8 328.2 221.0 326.1 221.3 323.7 221.0 320.7 220.9 318.1 220.9 316.2 220.9 313.4 220.4 311.7 217.2 312.1 214.8 312.4 212.7 310.9 210.9 308.6 212.9 310.3 216.4 313.7 215.4 316.7 213.9 314.7 210.6 310.8 209.4 M332.2 220.8 329.9 219.3 327.0 221.1 324.1 221.3 322.3 223.5 324.4 225.9 326.5 227.1 329.5 228.8 332.2 228.2 331.6 226.7 331.1 224.0 329.5 222.6 328.0 221.1 329.3 219.9 331.4 220.4 331.0 217.2 332.8 215.8 334.1 218.8 M332.2 220.8 331.2 221.9 330.1 223.9 328.3 224.9 327.2 226.4 328.1 227.5 330.0 229.1 331.0 231.0 330.3 232.8 331.9 234.2 333.3 236.3 330.7 236.7 329.7 234.3 330.7 232.6 M332.2 220.8 331.4 221.9 330.8 224.0 329.4 224.4 328.0 225.4 325.6 227.3 322.8 227.1 319.9 227.4 321.7 229.3 323.7 228.9 326.4 229.4 329.1 228.8 M332.2 220.8 329.0 219.0 331.0 215.7 335.5 214.6 332.7 212.3 332.5 207.4 331.7 203.4 332.2 200.1 331.4 196.6 330.9 194.3 328.1 192.7 324.0 190.1 321.9 187.1 318.9 184.9 322.4 182.5 323.8 180.1 321.3 176.1 M332.2 220.8 333.0 223.9 334.2 226.7 335.0 229.4 333.3 232.4 330.7 234.5 330.8 237.6 332.5 238.1 333.0 240.4 331.9 242.1 329.4 244.1 326.8 242.0 326.1 243.7 M332.2 220.8 330.8 221.2 328.6 223.4 325.5 223.7 323.7 222.0 320.8 221.7 319.5 220.7 321.3 220.7 322.7 219.6 323.0 217.8 322.3 215.9 319.1 215.9 317.6 215.6 314.4 215.2 311.7 216.2 308.6 217.2 307.2 218.5 M332.2 220.8 332.6 223.0 335.3 223.1 337.1 226.6 335.7 229.6 331.4 229.0 330.3 230.8 329.4 234.6 325.7 236.2 322.7 237.8 319.5 237.6 317.1 237.1 316.2 232.8 316.5 229.3 312.5 228.2 311.3 225.1 309.2 224.2 308.1 226.7 305.7 229.4 M332.2 220.8 330.2 220.3 329.1 220.2 330.4 221.4 331.4 220.5 332.5 220.0 333.5 220.0 335.4 220.6 336.4 220.3 336.6 218.6 337.2 217.3 337.7 215.8 338.8 214.3 339.9 214.0 M332.2 220.8 339.6 213.7 335.3 205.3 333.6 200.8 332.8 190.5 334.4 198.2 333.2 205.1 328.2 209.2 323.7 202.9 323.2 197.3 318.3 196.9 311.5 193.4 307.8 196.9 307.7 188.1 314.7 180.7 319.4 178.5 329.6 179.5 334.9 179.9 340.6 177.7 M332.2 220.8 330.9 220.5 329.6 221.8 328.2 221.2 326.3 219.9 323.6 219.6 321.7 220.2 319.0 221.1 317.0 220.1 316.5 221.3 318.7 223.2 320.1 224.2 M332.2 220.8 334.7 222.3 336.6 223.4 337.7 225.5 339.1 226.3 342.0 226.3 345.3 225.4 346.3 223.4 346.6 220.9 346.9 223.9 348.8 222.9 350.4 225.7 350.6 229.3 350.8 232.3 353.6 234.4 355.0 235.3 356.6 237.0 356.3 239.2 358.0 238.3 M332.2 220.8 332.6 221.3 333.5 220.8 333.3 220.2 333.8 219.4 333.8 218.4 333.3 217.5 333.8 217.1 334.6 217.4 335.6 217.8 336.6 217.3 336.7 216.4 337.4 215.5 338.3 215.4 338.8 215.2 339.6 215.3 340.5 214.7 M332.2 220.8 332.4 222.6 333.4 223.1 334.5 223.9 334.0 225.2 332.7 226.1 331.7 226.5 330.3 227.3 332.3 228.0 334.1 229.2 335.7 230.1 M332.2 220.8 334.8 220.7 336.5 221.3 340.0 222.5 342.1 225.7 344.2 227.7 346.8 229.0 349.4 230.3 351.2 230.8 350.3 234.6 350.5 237.7 348.3 239.8 352.1 240.1 354.6 240.8 353.9 236.9 353.4 235.0 355.2 232.3 M332.2 220.8 330.2 217.5 327.2 217.9 328.0 221.7 330.6 222.7 334.1 219.5 335.2 222.9 332.5 222.8 329.9 224.6 327.9 228.1 324.2 227.6 323.2 225.5 319.3 224.2 316.0 226.7 313.6 225.6 316.3 224.0 319.3 221.5 M332.2 220.8 328.0 223.0 323.9 224.5 324.5 229.3 318.3 227.4 315.3 228.8 311.9 234.3 310.0 237.6 313.3 240.2 319.3 238.3 322.6 234.5 324.8 228.2 324.6 222.3 327.4 216.8 327.7 211.2 324.0 213.8 321.3 215.5 324.1 220.3 M332.2 220.8 335.5 222.1 335.3 223.6 333.8 225.3 332.9 228.0 331.7 230.9 330.2 233.0 328.4 234.1 326.1 233.9 324.3 236.7 321.6 238.5 319.4 237.5 316.2 236.7 314.7 233.8 M332.2 220.8 330.6 221.5 327.8 221.4 325.1 219.5 323.0 218.8 322.4 216.6 323.4 214.4 326.0 211.6 323.5 209.5 320.5 208.9 318.5 206.4 319.9 204.9 319.1 203.0 321.1 206.1 M332.2 220.8 329.5 220.2 326.8 218.4 323.6 219.4 321.6 220.7 319.2 222.2 317.0 222.0 316.2 223.8 316.2 225.8 314.1 228.0 311.8 227.7 308.7 229.0 306.4 230.4 303.9 228.7 301.5 227.8 299.2 228.3 297.5 230.9 294.8 232.8 296.1 235.7 M332.2 220.8 333.2 219.7 333.7 218.7 333.5 217.9 332.8 217.6 332.0 217.0 332.2 215.8 331.8 215.0 331.2 214.5 330.8 215.2 329.9 215.5 330.6 215.6 331.3 216.2 M332.2 220.8 331.2 223.2 330.9 225.4 330.4 226.9 330.5 228.8 330.5 230.0 328.2 230.2 327.0 230.7 325.2 231.9 323.1 231.2 321.4 231.2 M332.2 220.8 324.8 222.6 318.0 228.8 310.1 234.2 313.8 241.8 313.8 247.9 315.2 257.0 306.3 257.8 307.0 250.1 310.4 246.4 311.7 238.1 317.3 236.8 325.4 232.5 318.1 229.9 317.5 221.7 320.0 212.6 M332.2 220.8 333.1 221.5 333.9 222.5 335.4 223.3 337.7 223.0 338.6 221.8 339.0 222.9 340.3 224.6 340.4 226.1 339.8 227.0 340.6 228.5 339.6 228.9 337.7 229.8 M332.2 220.8 331.7 219.6 332.5 218.4 333.5 217.5 334.8 217.0 336.9 215.2 338.3 214.6 340.0 213.9 342.3 215.1 342.5 216.6 341.0 218.2 339.0 217.6 337.8 215.3 335.4 215.1 M332.2 220.8 330.1 223.2 330.6 225.1 329.7 227.4 328.6 229.6 329.2 231.5 328.3 233.9 328.4 236.8 331.1 236.8 332.6 237.7 333.9 238.9 332.3 239.5 331.1 241.8 333.8 242.0 335.5 242.9 M332.2 220.8 332.5 221.6 332.7 223.0 332.6 224.1 332.5 224.9 333.0 226.2 333.6 226.6 333.3 227.8 333.5 229.1 333.0 230.1 332.4 230.8 331.5 231.6 M332.2 220.8 329.9 220.3 329.3 218.3 328.2 216.5 327.3 214.4 325.7 212.4 325.2 213.6 322.7 214.4 320.7 215.4 318.2 216.4 317.5 217.3 318.5 219.3 317.1 220.7 316.6 222.7 316.9 224.5 316.1 225.9 315.9 227.4 316.7 228.3 317.6 230.0 M332.2 220.8 330.5 222.7 327.7 222.2 325.3 221.0 322.5 219.8 323.6 217.2 321.3 216.8 319.5 214.3 317.8 213.0 316.0 210.2 314.5 209.1 315.0 207.5 313.0 206.8 311.4 206.9 309.3 207.3 M332.2 220.8 333.9 223.0 334.1 225.7 333.1 227.1 334.5 228.4 336.3 228.2 336.9 230.5 339.5 231.2 341.0 232.6 342.9 235.1 342.6 238.2 343.9 236.9 345.7 238.4 344.0 237.1 343.7 234.1 342.3 233.5 341.5 231.9 342.1 229.7 M332.2 220.8 332.5 219.3 332.5 217.4 331.9 215.4 333.4 214.4 334.4 213.0 333.8 210.8 331.6 209.9 331.5 208.7 332.9 206.8 334.2 205.1 334.0 203.1 335.2 202.9 337.5 202.4 339.3 203.9 341.1 205.2 342.9 206.0 344.6 207.0 M332.2 220.8 330.2 224.0 334.2 227.0 339.0 224.2 344.0 221.6 344.4 217.9 347.8 218.5 351.5 214.4 347.7 211.1 346.0 208.1 351.2 209.7 354.4 208.9 349.0 206.1 346.9 204.0 349.7 199.7 352.3 194.7 M332.2 220.8 329.8 220.1 332.0 218.8 330.3 217.9 329.6 216.5 330.4 214.1 329.2 212.0 331.6 210.8 333.2 209.4 334.9 210.2 336.1 211.6 337.3 210.2 334.5 208.9 M332.2 220.8 333.5 222.0 334.9 223.9 336.6 223.5 337.7 222.9 337.5 220.6 338.5 218.9 339.1 217.1 338.9 214.6 338.2 213.1 336.9 213.2 334.7 212.6 333.2 213.7 332.2 215.1 330.6 217.3 329.6 218.9 331.8 218.9 M332.2 220.8 331.9 221.5 331.5 222.2 330.4 223.5 329.3 224.5 327.8 224.3 326.2 224.5 325.1 224.1 325.1 224.9 325.7 225.4 327.2 226.2 327.6 227.5 327.2 228.3 326.0 228.6 325.2 228.8 325.0 227.4 M332.2 220.8 331.0 221.6 330.4 223.0 331.6 224.4 331.8 225.4 332.7 226.5 332.4 227.9 331.6 229.1 330.6 229.8 329.7 228.8 329.2 227.7 M332.2 220.8 330.6 221.4 332.7 219.2 334.5 219.6 335.9 220.1 334.7 222.1 335.2 223.6 336.8 224.9 335.1 225.4 332.6 224.5 331.9 223.2 330.6 220.8 329.4 221.8 330.2 224.2 M332.2 220.8 334.4 220.3 335.9 220.0 337.6 220.7 338.3 222.1 339.3 224.0 337.7 224.1 336.2 223.7 335.0 223.4 333.9 222.9 332.4 223.1 330.8 223.6 329.7 223.5 328.7 224.6 328.5 225.8 329.4 227.3 M332.2 220.8 332.6 222.9 331.9 225.5 331.1 229.5 329.0 231.4 327.2 232.3 325.1 235.5 322.4 233.9 325.5 231.3 324.8 229.3 327.5 227.6 329.2 231.2 329.7 233.2 332.5 233.6 335.8 235.8 M332.2 220.8 330.2 222.7 327.9 224.4 326.0 222.9 328.4 221.2 328.1 219.4 325.5 219.9 323.2 218.1 321.6 216.6 319.7 216.3 318.2 217.5 316.7 217.9 315.4 216.5 313.8 216.9 312.4 217.4 310.9 217.6 308.9 216.6 M332.2 220.8 328.6 220.3 327.8 222.1 329.8 224.7 331.9 226.2 331.1 229.5 329.3 230.4 327.9 228.9 326.3 225.9 326.1 223.9 329.1 221.0 329.1 218.8 327.6 215.5 331.5 214.3 333.8 211.5 336.0 212.6 M332.2 220.8 332.4 218.2 329.3 217.4 327.1 214.2 323.8 215.0 321.2 214.1 321.6 217.7 317.8 216.9 315.9 215.2 311.6 216.6 310.0 219.5 313.2 222.9 316.7 226.4 318.9 226.8 M332.2 220.8 331.4 220.0 330.8 218.8 331.9 216.9 332.6 217.9 333.8 218.9 334.2 219.9 333.9 221.4 335.4 222.4 336.5 223.5 336.6 225.7 337.6 225.3 338.8 226.0 340.9 226.1 341.9 225.7 M332.2 220.8 333.6 218.6 334.4 215.9 334.9 214.3 335.8 212.7 335.8 211.2 337.6 209.7 338.3 207.4 340.0 207.5 341.1 206.4 343.3 207.4 344.0 208.6 344.8 210.4 345.5 211.9 346.5 214.3 348.2 216.7 349.1 218.1 348.4 219.8 348.0 221.4 M332.2 220.8 335.7 229.3 342.8 216.1 349.3 208.9 360.8 200.0 369.4 200.1 368.9 189.5 360.0 182.6 348.7 184.8 334.0 187.1 323.7 183.8 330.2 180.4 M332.2 220.8 331.6 217.7 329.3 216.4 327.7 214.6 327.4 212.9 330.2 211.3 332.3 211.3 331.8 213.0 332.3 215.8 333.3 217.0 334.6 219.1 334.8 220.8 334.2 224.0 332.3 226.6 330.5 228.9 329.1 231.2 327.1 231.0 325.3 232.5 322.6 234.4 M332.2 220.8 334.1 216.2 331.2 213.0 325.7 213.8 322.5 209.7 317.9 211.1 315.2 210.7 313.2 209.3 313.1 212.5 313.7 218.1 315.6 216.3 319.5 212.6 320.6 208.4 M332.2 220.8 329.6 221.5 326.1 220.4 325.9 224.3 324.8 228.1 323.5 232.2 321.9 235.9 324.0 238.5 325.4 240.8 327.3 244.6 325.1 247.9 322.7 248.0 320.5 249.9 317.7 253.0 314.9 252.1 M332.2 220.8 333.1 220.1 332.9 220.7 332.2 221.3 331.5 221.1 331.5 222.3 332.2 223.0 333.5 222.5 334.2 222.4 334.0 223.9 334.8 224.4 335.8 224.6 335.6 223.9 M332.2 220.8 333.1 222.1 333.7 222.9 333.7 223.9 334.6 223.5 334.4 222.0 333.5 221.4 332.5 220.7 333.3 220.3 334.2 219.3 335.4 220.0 M332.2 220.8 333.2 218.0 335.2 216.7 337.6 213.8 341.0 215.3 338.2 216.8 335.0 218.6 330.7 217.6 327.7 218.8 324.4 218.5 320.8 220.6 M332.2 220.8 331.7 220.9 331.3 221.4 330.6 221.8 330.0 222.4 329.7 223.6 329.5 224.2 329.2 225.3 328.8 224.5 328.9 223.5 329.2 222.3 329.7 222.6 330.6 222.9 M332.2 220.8 333.0 222.8 331.5 223.6 330.6 225.3 330.7 226.9 330.9 228.8 332.1 230.5 332.2 231.7 331.4 233.0 329.2 233.4 328.0 234.1 327.1 235.6 M332.2 220.8 326.7 218.8 321.1 224.0 319.0 234.2 322.8 230.8 319.6 221.3 315.6 225.2 315.4 234.2 321.3 242.8 324.0 252.4 318.4 259.1 312.8 260.3 311.7 252.4 305.7 242.7 305.3 235.4 M332.2 220.8 339.8 221.5 344.1 222.3 348.6 223.2 355.1 228.4 360.8 231.2 354.4 231.4 350.2 230.3 348.6 233.9 351.1 241.8 352.5 249.2 347.6 254.9 348.4 261.1 340.3 262.0 332.7 260.1 325.3 255.9 325.3 247.7 M332.2 220.8 333.6 220.6 334.3 219.6 334.9 217.9 333.5 218.4 332.0 218.0 331.7 216.5 331.1 214.9 329.4 213.8 330.5 212.7 331.9 211.7 332.8 211.2 333.7 210.6 334.6 209.7 333.8 208.9 332.9 207.8 M332.2 220.8 329.9 221.4 327.8 221.7 326.9 222.7 324.6 224.4 322.7 224.4 321.6 226.6 322.3 229.0 325.0 228.4 325.9 227.0 327.0 226.1 M332.2 220.8 332.9 223.2 333.7 222.1 334.9 221.9 335.1 219.9 334.7 218.1 332.5 216.8 332.5 214.4 332.1 213.1 332.5 211.7 332.4 209.4 331.4 208.0 332.9 207.5 M332.2 220.8 332.5 219.4 332.8 218.6 332.4 217.8 331.3 216.9 330.6 217.1 330.1 218.3 330.2 217.3 331.3 217.6 331.9 218.2 332.6 219.3 332.0 219.6 331.3 220.4 331.6 221.6 332.0 222.1 332.4 222.8 331.9 223.6 M332.2 220.8 333.6 221.1 334.9 221.9 334.5 223.2 333.5 224.2 332.6 224.2 331.6 224.0 330.7 223.8 329.5 223.1 328.0 223.3 326.8 222.6 325.4 221.7 324.6 220.5 324.9 218.7 M332.2 220.8 332.3 223.2 331.6 225.0 333.4 225.2 334.5 223.5 334.8 222.1 332.8 221.3 331.4 222.2 330.5 223.1 330.8 225.3 328.8 227.0 330.1 225.6 328.7 223.9 M332.2 220.8 322.3 216.2 314.3 219.3 308.7 210.2 297.4 212.8 295.9 223.2 294.8 234.1 305.0 239.8 308.2 227.5 301.6 221.4 297.2 213.1 296.0 205.7 304.2 202.3 M332.2 220.8 333.9 222.8 335.5 224.7 336.8 224.8 335.4 226.1 333.7 228.3 333.3 229.8 333.9 231.1 335.6 233.1 336.4 230.5 334.1 229.1 332.8 229.7 M332.2 220.8 330.0 220.5 327.7 222.6 325.8 221.0 327.3 217.9 325.5 215.0 322.3 213.3 320.6 213.6 318.1 212.0 316.4 212.5 315.6 214.3 M332.2 220.8 330.1 224.3 324.7 221.8 330.1 221.6 336.1 219.0 342.0 216.7 341.9 223.7 339.8 229.9 336.3 232.6 332.5 230.6 328.3 232.0 330.3 236.6 335.7 239.3 340.2 235.3 338.0 230.0 332.7 230.3 334.1 235.4 334.5 240.8 333.2 245.8 M332.2 220.8 332.9 220.0 334.5 220.3 336.7 220.4 337.5 219.6 339.4 219.7 338.4 218.5 337.1 218.1 337.3 216.0 337.1 214.9 335.1 215.8 334.2 217.5 333.3 218.2 M332.2 220.8 331.8 220.0 331.2 219.3 329.7 218.9 328.7 218.6 327.9 218.8 327.2 218.4 326.6 217.4 325.9 216.3 325.1 216.1 324.2 215.3 323.4 215.0 322.8 214.6 322.0 213.5 320.6 213.5 319.8 213.9 M332.2 220.8 333.3 220.1 334.7 219.6 334.4 220.6 334.9 221.4 335.3 222.1 336.6 222.6 336.9 223.4 337.8 222.0 337.9 220.4 338.2 219.5 338.4 218.2 339.4 217.9 340.2 217.9 340.5 218.9 340.2 220.0 339.0 219.6 M332.2 220.8 331.1 224.5 330.4 226.7 327.0 227.1 325.2 230.0 327.1 232.4 328.7 233.8 332.4 233.9 334.3 234.2 336.9 234.6 339.1 237.8 341.5 238.5 343.2 237.9 345.6 240.0 346.5 236.3 M332.2 220.8 334.1 221.0 335.4 220.8 336.5 221.1 337.2 220.2 338.5 221.4 337.8 222.1 336.1 223.3 334.6 223.6 332.7 223.5 330.8 222.6 329.6 221.9 328.4 223.1 327.0 223.4 325.9 224.0 324.8 224.2 M332.2 220.8 328.1 221.7 322.7 220.3 322.3 214.4 319.5 212.2 316.4 208.3 315.9 205.7 312.8 209.5 310.2 210.9 313.0 215.1 310.1 216.3 308.4 220.2 305.6 220.7 301.3 223.0 M332.2 220.8 336.1 221.4 333.0 216.2 337.8 212.6 340.2 207.1 343.4 204.3 346.7 203.2 345.3 200.2 346.7 194.3 350.3 193.6 353.6 191.4 357.5 187.6 360.6 187.0 354.7 187.4 M332.2 220.8 331.2 221.2 331.5 222.4 332.4 222.5 332.7 221.7 332.9 220.8 333.5 220.4 334.4 220.2 335.5 219.6 335.1 219.0 335.3 217.7 334.5 217.2 333.0 217.2 332.4 216.9 331.4 217.7 331.0 218.2 330.9 219.1 M332.2 220.8 332.8 219.3 333.0 220.9 334.7 222.6 336.2 223.7 337.0 222.9 337.7 221.0 337.9 219.0 336.3 218.4 334.4 217.1 333.6 215.3 331.8 214.2 330.1 212.6 329.7 211.4 M332.2 220.8 336.7 219.4 340.5 220.3 343.3 217.8 347.7 218.6 352.3 217.3 356.6 216.8 360.1 217.5 364.8 220.0 367.3 225.2 370.5 227.5 375.7 229.0 372.4 229.6 369.6 230.9 366.3 231.6 365.2 229.1 M332.2 220.8 333.7 220.1 333.3 221.2 334.9 221.9 335.8 223.6 336.5 224.9 338.5 225.4 339.0 223.5 339.2 221.0 341.0 222.6 339.6 223.2 338.5 222.9 M332.2 220.8 324.8 222.2 321.0 221.4 316.8 222.3 310.5 218.8 306.5 219.4 300.6 216.7 297.4 215.0 292.1 211.7 290.1 205.8 295.2 210.9 298.4 214.3 M332.2 220.8 335.1 221.1 338.0 221.1 340.7 222.3 337.3 222.0 334.6 221.5 331.8 221.2 330.2 223.7 328.0 225.4 326.1 226.4 324.0 227.5 321.5 229.0 319.0 228.8 317.6 225.8 318.2 222.4 319.0 219.8 317.1 218.8 314.1 217.1 312.3 218.0 M332.2 220.8 330.9 221.3 329.3 221.3 328.8 222.2 328.2 223.1 328.7 223.8 329.3 223.0 330.5 222.7 331.4 223.4 332.1 222.6 332.7 221.3 M332.2 220.8 330.6 222.9 333.4 224.5 336.2 228.1 335.8 224.4 335.1 221.1 334.9 217.5 335.4 214.5 336.5 210.3 334.4 211.6 334.6 213.8 333.6 216.4 M332.2 220.8 332.4 222.4 333.0 223.8 333.4 226.2 335.8 227.8 334.4 229.9 332.9 230.5 332.7 233.4 333.9 234.5 332.1 233.2 330.7 233.1 329.1 233.5 M332.2 220.8 336.8 221.4 339.8 220.3 342.0 219.5 345.9 217.8 349.5 216.2 351.8 214.5 349.3 210.7 348.3 207.6 350.1 206.0 352.0 201.9 355.8 201.4 358.0 201.3 358.1 198.4 356.2 196.2 M332.2 220.8 332.2 215.6 331.7 212.7 329.7 207.7 327.4 204.9 324.4 204.5 321.0 199.9 314.9 200.5 312.5 203.5 310.9 207.2 310.0 212.8 M332.2 220.8 332.8 223.1 333.1 225.0 330.7 226.6 332.9 229.0 334.1 231.6 336.9 232.6 337.5 234.8 333.6 236.4 332.6 238.5 329.1 238.6 331.0 239.9 M332.2 220.8 334.2 224.3 338.5 224.9 338.3 227.1 339.1 228.9 341.0 232.6 344.1 232.1 347.6 232.0 350.6 233.9 352.7 234.2 356.0 235.2 357.1 237.1 357.5 240.4 354.3 242.6 353.7 244.5 351.9 245.6 354.6 248.7 351.4 246.4 353.0 244.9 M332.2 220.8 331.3 220.8 329.6 220.4 328.9 221.0 328.5 221.9 329.7 222.6 330.2 223.6 331.3 222.9 332.6 221.5 332.7 220.6 333.9 220.1 333.2 219.5 333.4 217.9 M332.2 220.8 333.4 220.4 333.2 221.9 332.0 222.0 330.1 221.9 329.3 223.0 330.2 224.9 331.3 225.9 331.6 227.4 330.3 229.1 328.6 227.9 326.7 226.9 325.7 227.3 326.3 229.4 M332.2 220.8 333.3 221.4 334.8 222.1 334.9 222.9 335.0 223.9 335.6 224.8 336.8 223.8 337.5 222.4 338.1 221.3 339.6 220.5 340.7 219.8 341.8 220.2 342.9 220.9 344.1 222.1 345.6 222.8 346.3 223.2 346.1 224.1 346.7 225.1 M332.2 220.8 330.3 222.4 328.2 220.4 325.4 222.6 325.0 224.4 325.1 227.2 323.3 228.9 321.6 228.2 318.8 227.2 316.7 226.0 313.6 226.5 M332.2 220.8 333.5 220.3 335.3 221.0 336.2 219.8 334.7 219.2 334.3 218.2 335.5 217.9 335.5 219.9 334.4 220.2 333.3 221.8 333.7 223.4 332.6 223.6 331.6 225.3 330.4 225.4 329.3 225.3 328.3 225.0 327.0 224.8 325.9 224.4 M332.2 220.8 331.2 222.1 330.3 225.3 328.0 225.8 325.7 227.6 323.2 228.5 320.7 230.3 317.7 231.2 318.5 232.5 318.9 234.6 318.5 236.6 316.9 239.3 316.4 241.1 314.7 242.6 313.1 243.5 M332.2 220.8 331.0 221.1 329.7 220.1 329.8 218.8 328.3 218.1 327.5 217.5 326.3 215.9 327.2 214.0 328.4 214.4 329.9 215.8 332.1 215.8 334.1 215.8 335.9 214.5 335.9 212.8 337.9 212.1 M332.2 220.8 331.0 220.1 330.0 220.8 328.9 220.7 328.5 220.1 327.3 219.3 326.0 219.9 324.7 220.2 324.2 219.3 323.6 218.9 323.0 217.9 322.5 216.6 322.5 215.5 321.7 215.1 M332.2 220.8 331.7 221.9 330.8 222.5 331.4 223.0 332.0 223.7 332.0 224.5 332.7 224.3 333.9 224.4 334.8 224.7 335.6 224.7 336.6 224.5 337.4 224.4 337.9 225.1 338.5 225.3 339.2 226.2 340.3 226.7 340.6 227.2 M332.2 220.8 330.0 223.3 328.3 222.7 326.9 224.7 329.1 227.5 332.7 227.5 334.5 228.2 336.7 230.8 339.9 230.9 339.2 233.2 339.4 235.5 339.1 238.4 340.3 241.3 340.6 244.9 338.6 247.5 335.5 246.5 334.2 244.0 M332.2 220.8 332.7 221.6 334.1 222.3 335.9 222.4 337.2 221.6 337.0 223.4 335.0 222.7 336.0 222.5 337.3 222.4 338.5 220.7 337.6 219.8 338.1 218.1 338.1 217.0 336.8 215.7 336.7 214.8 M332.2 220.8 334.3 221.5 336.6 220.1 338.4 219.1 338.5 221.4 338.7 223.8 339.5 227.5 342.2 228.2 345.0 228.6 346.6 228.8 349.0 225.9 346.7 223.7 344.1 222.1 342.2 220.8 339.0 219.3 337.6 217.0 337.9 213.9 338.9 210.4 M332.2 220.8 328.6 219.4 325.3 221.2 322.8 222.3 321.2 220.9 319.8 218.7 321.3 215.1 322.4 212.8 323.2 211.2 325.0 211.2 327.3 214.2 328.6 216.8 330.2 218.4 M332.2 220.8 334.6 215.5 339.0 214.7 340.3 212.1 341.1 209.5 344.3 205.4 345.4 200.8 348.1 200.8 350.7 203.8 353.8 203.1 358.0 205.1 360.9 206.0 359.5 208.7 354.6 210.8 354.6 204.9 M332.2 220.8 332.1 221.4 331.8 221.1 331.6 220.8 331.2 221.0 330.8 221.4 330.8 221.8 330.6 222.3 331.0 222.6 331.5 222.7 332.1 222.5 332.5 223.1 332.0 222.8 M332.2 220.8 328.9 219.3 325.6 218.6 323.1 218.0 318.7 218.8 316.3 218.2 313.0 216.4 308.7 217.0 308.2 219.3 312.2 220.1 315.0 218.4 316.3 216.6 319.5 215.2 322.9 212.2 322.6 209.5 325.7 208.6 329.2 207.8 332.7 209.0 M332.2 220.8 332.0 215.9 329.2 214.1 327.8 211.7 324.5 210.6 321.3 209.9 316.2 210.1 316.1 206.4 316.2 202.6 318.9 201.0 320.8 198.5 322.0 193.7 326.9 191.1 M332.2 220.8 335.1 218.3 336.5 216.6 339.9 215.6 339.5 213.0 337.7 213.8 338.5 211.6 340.3 209.8 342.3 209.8 345.6 212.1 348.0 211.9 349.3 213.6 347.9 215.9 345.7 214.7 345.8 211.8 347.8 208.9 M332.2 220.8 328.1 224.9 329.6 229.9 327.5 232.8 327.6 236.6 327.7 240.3 332.1 242.9 337.4 239.6 338.9 244.0 344.8 242.3 346.5 244.7 348.6 246.7 350.9 250.1 M332.2 220.8 329.7 219.7 330.1 217.5 328.4 217.1 327.0 216.3 325.4 214.9 325.4 213.3 327.0 211.2 328.4 211.5 329.4 212.9 331.1 214.5 M332.2 220.8 330.2 219.1 330.6 216.8 330.1 214.3 330.9 211.9 332.3 213.4 334.9 213.5 337.7 212.8 340.3 212.2 343.0 211.0 344.8 213.3 344.8 215.9 342.2 216.0 339.7 214.4 339.0 212.6 M332.2 220.8 331.1 222.5 328.9 222.7 327.2 223.2 325.9 223.4 325.2 224.5 323.7 223.8 324.3 224.9 326.1 226.0 327.8 226.8 330.1 225.9 332.3 224.6 332.1 222.5 333.4 223.3 335.2 224.7 336.3 226.3 335.0 226.2 M332.2 220.8 334.0 220.9 337.0 221.2 340.5 221.1 341.8 217.6 344.3 219.2 347.1 218.2 349.1 219.2 349.4 220.9 350.8 222.0 352.3 221.5 354.3 220.8 357.4 219.2 357.9 221.4 M332.2 220.8 331.7 221.7 331.5 223.1 332.8 224.2 333.9 224.1 333.1 222.6 334.5 222.5 335.0 223.4 334.5 224.4 335.4 224.7 335.9 225.2 337.2 224.7 338.7 224.3 339.3 223.9 M332.2 220.8 334.4 219.2 336.5 221.4 333.8 221.6 332.1 218.0 332.5 215.0 335.2 216.0 338.0 216.5 337.9 213.8 338.5 212.0 337.6 209.3 336.7 207.1 335.7 204.3 333.4 202.2 331.2 200.0 328.6 198.3 328.0 194.6 M332.2 220.8 334.5 219.7 336.2 217.5 333.6 216.2 333.0 214.5 333.7 211.7 333.0 209.2 331.2 209.4 329.4 211.8 327.9 210.9 326.4 209.8 326.5 207.5 M332.2 220.8 333.9 221.5 335.5 220.9 335.5 222.3 335.4 223.5 336.4 224.3 336.5 226.3 337.6 227.6 338.1 228.6 339.7 228.7 341.2 227.2 340.8 226.1 340.8 224.2 339.8 222.9 340.4 222.0 340.2 221.1 339.2 219.6 340.4 219.9 340.5 221.5 M332.2 220.8 327.7 216.7 321.8 215.0 319.6 217.2 315.0 220.4 309.0 219.7 303.0 221.5 297.1 223.2 298.9 220.1 303.8 216.9 305.9 222.8 310.4 222.5 315.9 223.4 318.4 227.1 321.0 232.7 324.6 233.5 M332.2 220.8 333.8 223.9 331.4 223.3 328.2 226.0 328.1 229.8 325.9 231.3 325.4 234.7 325.3 237.3 327.1 240.3 330.7 244.2 328.2 247.9 330.4 250.1 332.4 253.3 331.8 257.6 334.1 258.6 338.9 258.6 341.7 257.4 344.8 260.0 344.6 262.6 M332.2 220.8 330.5 219.5 328.4 220.6 326.2 222.3 323.9 220.8 324.3 219.4 325.9 217.2 326.8 215.8 326.7 213.2 326.7 211.8 324.6 211.0 322.9 210.7 322.4 212.8 321.5 214.9 M332.2 220.8 332.8 222.5 331.3 223.5 329.5 223.4 327.9 223.3 325.4 221.5 322.6 221.4 320.9 220.6 319.3 218.2 319.3 215.8 318.4 212.4 316.1 211.3 314.4 212.1 M332.2 220.8 334.2 220.7 336.2 220.4 336.1 217.9 333.9 216.8 332.3 217.1 330.9 214.6 332.3 212.1 335.1 212.4 337.1 212.1 339.8 212.6 341.0 214.2 343.2 214.9 M332.2 220.8 331.2 220.6 330.6 220.1 330.7 218.9 331.3 218.4 331.6 218.0 331.4 216.8 331.0 216.1 331.0 215.1 330.5 214.4 330.2 213.5 330.3 213.0 329.8 212.3 329.8 211.7 328.9 211.3 327.9 211.0 327.1 211.1 327.3 210.2 326.3 209.7 M332.2 220.8 336.8 217.0 338.8 215.2 342.9 215.5 345.6 217.9 350.8 216.5 354.6 220.9 357.0 223.6 353.5 227.4 350.2 228.3 349.2 231.5 352.1 232.9 355.5 233.6 358.0 231.2 357.9 226.2 360.7 222.3 365.2 222.9 368.9 224.5 M332.2 220.8 334.7 222.1 336.4 223.8 337.5 221.9 340.3 224.2 342.9 225.8 342.4 227.5 341.4 230.5 339.0 230.9 337.3 230.6 338.0 229.0 340.2 227.8 341.7 225.6 343.9 226.5 345.0 227.8 343.1 230.8 341.5 232.5 M332.2 220.8 329.7 222.1 328.9 223.6 328.6 226.7 328.4 229.3 329.1 231.6 329.1 233.0 329.3 235.9 330.6 235.7 332.3 235.4 334.6 236.6 333.2 234.4 333.1 235.7 332.3 238.2 M332.2 220.8 332.2 218.7 332.1 217.3 334.0 216.0 335.9 216.5 337.3 218.1 337.4 215.2 335.8 212.6 333.8 211.2 331.2 210.1 332.7 208.9 332.2 206.9 330.9 206.1 330.2 204.8 328.5 203.9 328.7 206.5 329.0 208.8 M332.2 220.8 333.8 217.1 339.2 215.3 342.1 215.1 341.5 219.6 341.9 223.8 337.2 221.6 330.9 221.7 327.0 217.2 323.0 218.0 318.6 216.4 313.7 220.4 M332.2 220.8 333.5 219.9 332.1 217.7 329.8 217.8 327.7 215.5 324.8 216.6 324.9 214.7 322.7 212.9 320.3 213.8 317.4 213.4 316.6 211.6 316.8 209.5 315.3 206.9 313.2 207.0 312.3 204.5 311.4 201.7 312.7 201.0 M332.2 220.8 333.0 217.7 333.5 213.3 328.8 210.0 326.5 207.6 321.5 205.1 316.6 208.8 317.7 204.8 316.8 200.0 314.4 197.7 308.9 196.4 306.2 201.9 310.4 205.4 313.0 202.8 M332.2 220.8 331.1 220.9 331.3 219.2 331.2 217.8 330.7 215.9 332.2 215.4 334.4 215.8 336.8 216.1 338.5 216.8 340.9 216.3 341.7 217.1 342.8 218.7 342.6 221.1 342.7 222.3 341.3 223.0 339.7 224.6 338.1 225.8 337.6 227.3 338.5 229.5 M332.2 220.8 325.5 219.3 322.9 223.0 316.7 219.7 310.5 216.4 308.7 212.1 303.9 210.4 302.5 201.5 308.9 201.3 313.7 208.2 318.2 214.7 325.9 214.4 333.2 212.7 331.5 221.0 335.6 223.3 M332.2 220.8 330.8 221.9 330.9 223.1 332.1 224.3 333.8 224.3 335.3 224.8 333.9 225.9 332.3 227.1 331.0 229.1 331.2 230.8 330.9 232.0 332.2 233.9 M332.2 220.8 330.5 223.7 328.7 224.7 326.8 221.9 326.8 220.0 323.0 218.3 321.9 216.2 322.7 213.0 319.4 211.1 318.3 208.4 315.5 207.2 312.2 205.4 310.3 205.9 307.3 208.0 303.8 209.4 301.0 207.7 298.3 208.2 296.9 212.2 M332.2 220.8 331.4 223.7 330.4 226.7 332.3 227.5 335.5 228.0 339.2 229.3 342.2 230.6 342.9 234.6 345.7 236.2 342.3 239.1 345.7 239.5 347.7 242.5 350.0 243.0 352.9 242.2 353.3 244.6 356.4 246.5 M332.2 220.8 332.0 223.3 329.0 224.7 326.8 224.5 324.2 224.0 321.1 224.3 318.8 225.8 316.2 225.3 313.4 225.5 310.7 226.3 308.5 226.3 306.8 228.4 309.3 230.0 311.6 231.0 312.5 227.9 312.8 224.5 315.1 222.5 315.6 220.2 M332.2 220.8 320.7 223.9 308.8 226.8 307.5 217.3 298.6 213.0 293.2 204.9 304.2 209.1 316.7 213.3 328.5 214.9 336.5 224.7 343.2 225.3 351.0 215.1 349.8 208.0 348.7 200.4 354.7 195.5 364.8 201.1 M332.2 220.8 326.6 222.4 324.0 220.3 322.7 217.1 318.2 212.5 315.4 214.6 312.1 218.0 308.7 213.1 305.9 211.1 299.8 208.3 296.0 204.0 293.8 199.1 294.2 193.6 291.5 196.0 M332.2 220.8 334.9 219.0 337.1 215.0 337.7 211.7 335.3 208.3 334.1 206.1 333.0 201.8 333.7 199.3 335.5 197.6 336.8 194.8 337.8 192.5 338.6 189.5 M332.2 220.8 328.9 219.1 327.4 218.2 327.1 214.6 327.2 212.0 325.5 211.7 322.0 210.2 320.5 211.6 318.6 211.2 316.6 211.4 314.1 213.4 310.3 214.0 M332.2 220.8 330.4 220.5 329.4 220.7 328.1 220.2 326.9 219.0 326.0 217.5 324.6 216.6 323.1 216.6 321.7 216.1 320.7 216.6 318.8 216.1 319.3 215.2 318.6 214.0 317.6 214.0 317.5 212.6 316.0 212.1 M332.2 220.8 331.4 219.9 331.2 217.8 333.4 217.6 335.3 217.7 337.0 217.1 338.2 216.3 337.2 213.8 335.9 212.8 335.8 215.6 336.1 217.2 335.5 219.1 333.4 220.4 332.2 218.7 333.8 216.7 M332.2 220.8 328.9 221.7 330.6 222.3 332.9 222.3 334.0 220.5 335.0 218.5 337.7 218.7 338.6 219.9 338.6 221.7 341.7 222.2 342.7 224.1 345.9 222.7 M332.2 220.8 339.5 221.6 345.7 214.6 349.9 208.8 350.5 197.6 358.5 189.5 361.1 195.7 354.9 201.9 357.9 213.4 355.2 207.1 353.2 212.4 355.3 222.1 354.0 231.7 346.9 232.0 339.0 232.5 338.9 222.5 M332.2 220.8 333.3 223.0 330.8 224.4 329.4 224.1 326.8 224.4 326.9 226.7 325.0 227.5 323.6 228.4 322.9 226.5 320.9 226.6 318.8 227.7 321.3 228.3 323.9 227.8 324.0 229.2 324.9 231.0 324.8 232.9 322.6 233.6 320.5 234.5 M332.2 220.8 331.1 221.5 328.5 220.4 327.5 219.2 328.5 217.2 330.3 218.4 332.2 217.3 333.6 216.6 335.2 214.6 336.2 215.8 338.9 216.4 341.3 217.9 340.1 219.3 337.8 220.5 336.5 221.0 335.1 219.8 333.6 218.9 M332.2 220.8 330.5 220.0 330.2 221.4 329.3 222.1 328.9 222.9 327.5 222.3 327.5 224.2 325.8 223.5 327.0 222.1 326.3 220.4 326.2 219.4 327.1 219.0 327.4 217.5 327.9 216.0 326.8 215.7 326.1 215.1 M332.2 220.8 325.2 228.1 316.6 229.4 310.0 222.6 304.8 229.8 298.2 230.6 303.1 221.6 309.7 217.1 319.3 220.5 321.8 233.4 328.2 236.4 326.7 248.9 320.8 256.4 308.4 257.5 M332.2 220.8 334.9 222.9 333.3 223.5 331.7 224.2 333.3 226.8 333.2 229.1 332.4 231.1 333.8 228.5 335.9 227.8 335.9 226.1 336.4 224.0 M332.2 220.8 332.5 217.5 334.5 213.0 333.6 209.0 336.8 205.4 334.9 203.9 334.2 201.2 333.6 198.0 335.1 194.3 335.4 191.1 336.6 188.7 331.7 189.3 M332.2 220.8 333.0 219.6 335.0 218.5 335.5 217.1 336.3 215.4 338.7 215.8 339.5 218.1 338.5 220.8 336.7 222.6 335.0 224.0 333.3 223.9 331.7 223.9 331.1 221.1 M332.2 220.8 333.9 221.5 335.7 220.8 336.9 219.5 337.9 218.4 338.7 220.2 337.1 220.5 335.6 220.3 335.0 218.4 333.5 217.2 332.8 218.2 333.9 219.2 M332.2 220.8 330.9 218.2 329.6 218.5 329.5 220.7 328.1 222.7 326.5 221.7 325.4 220.3 323.6 218.6 323.0 216.4 321.8 215.1 320.1 214.8 320.4 217.0 M332.2 220.8 340.4 222.1 346.2 217.8 351.7 217.9 349.0 221.7 348.3 215.2 342.1 212.4 334.5 211.4 328.2 217.1 327.7 220.8 328.4 229.2 M332.2 220.8 333.3 218.9 335.4 221.0 336.6 219.1 336.4 216.4 336.9 214.5 336.4 212.9 333.7 212.3 332.3 214.7 334.0 217.6 333.5 220.1 331.5 219.8 329.6 217.7 327.6 218.1 M332.2 220.8 329.8 219.3 326.9 221.0 323.7 219.9 321.9 218.3 320.9 216.1 319.3 213.9 321.6 212.4 322.7 211.1 323.8 209.2 327.2 207.6 330.1 207.9 331.9 206.2 331.7 204.3 329.4 203.3 328.2 201.4 M332.2 220.8 331.3 221.2 330.5 220.1 329.6 220.5 328.8 220.8 330.1 220.8 330.0 222.0 329.5 222.7 328.6 223.3 328.4 224.0 327.7 224.8 327.3 226.2 327.3 227.7 327.6 229.2 328.1 230.5 328.1 231.9 327.0 231.7 326.3 232.2 326.6 233.0 M332.2 220.8 331.1 222.8 330.6 224.8 331.9 225.5 334.0 226.2 335.2 226.9 336.8 225.6 336.6 227.3 335.8 227.9 337.1 228.5 339.0 229.1 340.2 228.4 340.6 226.8 339.2 225.7 338.2 225.1 M332.2 220.8 333.4 222.7 335.6 223.1 338.2 223.6 339.5 225.3 337.0 224.1 334.6 223.7 332.8 224.2 332.3 225.5 331.3 226.5 330.4 227.9 329.2 226.9 327.3 226.7 324.5 226.3 323.2 226.1 322.0 225.5 M332.2 220.8 331.6 217.5 332.7 214.3 334.7 212.5 337.7 210.5 341.8 212.9 345.9 215.0 346.5 219.0 342.9 222.1 346.4 224.0 348.9 224.7 349.4 227.2 351.8 229.8 349.8 231.0 347.9 227.7 345.8 224.5 344.3 227.9 M332.2 220.8 331.8 222.3 332.4 223.7 331.0 224.6 329.6 224.9 327.9 226.0 325.6 227.1 323.8 227.8 321.8 226.9 321.2 225.8 320.0 223.5 319.8 222.1 319.6 220.2 319.7 217.8 320.4 216.6 322.3 215.2 323.5 217.0 M332.2 220.8 334.2 222.7 337.8 224.4 340.2 223.4 343.8 224.5 347.2 224.7 350.4 221.2 352.7 218.1 354.4 214.8 358.0 214.6 358.9 217.0 361.1 215.6 362.9 218.7 359.5 218.2 355.4 216.0 352.3 214.5 349.3 215.0 348.6 212.5"/></defs>
<g filter="url(#blur3)" opacity="0.45"><use href="#tr9" fill="none" stroke="#c4c4c4" stroke-width="6" stroke-linejoin="round"/></g>
<use href="#tr9" fill="none" stroke="#5c2b2b" stroke-width="0.32" stroke-opacity="0.5" stroke-linejoin="round"/>
<circle cx="332.2" cy="220.8" r="9.1" fill="url(#corer)" opacity="0.7"/>
<circle cx="332.2" cy="220.8" r="21.6" fill="none" stroke="#5c2b2b" stroke-opacity="0.55" stroke-width="0.4"/>
<line x1="332.20" y1="173.90" x2="332.20" y2="267.80" stroke="#9c9c9c" stroke-width="0.8" />
<line x1="285.10" y1="220.80" x2="379.60" y2="220.80" stroke="#9c9c9c" stroke-width="0.8" />
<line x1="330.60" y1="174.20" x2="332.20" y2="174.20" stroke="#9c9c9c" stroke-width="0.7" />
<line x1="330.60" y1="267.50" x2="332.20" y2="267.50" stroke="#9c9c9c" stroke-width="0.7" />
<line x1="285.40" y1="220.80" x2="285.40" y2="222.20" stroke="#9c9c9c" stroke-width="0.7" />
<line x1="379.30" y1="220.80" x2="379.30" y2="222.20" stroke="#9c9c9c" stroke-width="0.7" />
<text x="329.50" y="176.60" font-size="7.0" text-anchor="end" textLength="10.70" lengthAdjust="spacingAndGlyphs" >200</text>
<text x="329.60" y="269.80" font-size="7.0" text-anchor="end" textLength="13.90" lengthAdjust="spacingAndGlyphs" >−200</text>
<text x="292.60" y="229.30" font-size="7.0" text-anchor="end" textLength="14.30" lengthAdjust="spacingAndGlyphs" >−200</text>
<text x="385.10" y="229.30" font-size="7.0" text-anchor="end" textLength="11.10" lengthAdjust="spacingAndGlyphs" >200</text>
<text x="273.40" y="184.30" font-size="8.6" textLength="28.00" lengthAdjust="spacingAndGlyphs" >cKO P2</text>
<text x="373.4" y="253.8" font-size="4.9" textLength="26.3" lengthAdjust="spacingAndGlyphs"><tspan font-style="italic">t</tspan> = 10 min</text>
<text x="373.4" y="260.2" font-size="4.9" textLength="24.7" lengthAdjust="spacingAndGlyphs"><tspan font-style="italic">r</tspan> = 95 µm</text><rect x="0" y="0" width="520" height="1" fill="#000"/><rect x="0" y="0" width="1.1" height="455" fill="#000"/><rect x="518.9" y="0" width="1.1" height="455" fill="#000"/><rect x="0" y="453.6" width="520" height="1.4" fill="#000"/></svg></body></html>
